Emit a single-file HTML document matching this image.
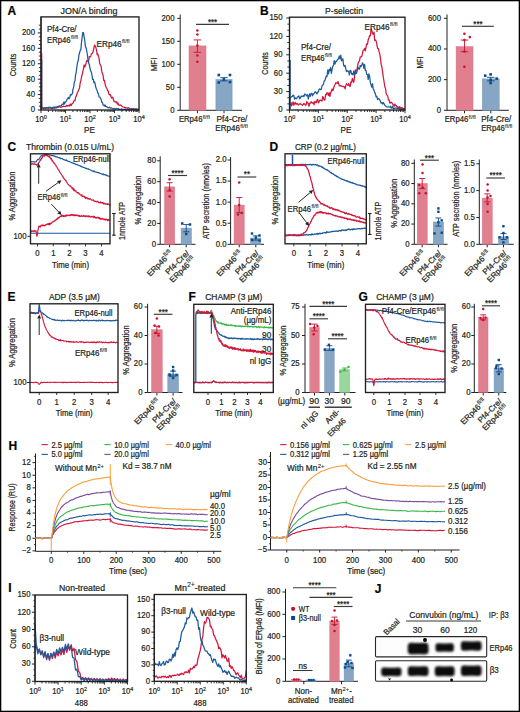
<!DOCTYPE html>
<html><head><meta charset="utf-8"><style>
html,body{margin:0;padding:0;background:#fff;}
svg{display:block;}
text{font-family:"Liberation Sans", sans-serif;stroke:#231f20;stroke-width:0.22px;}
</style></head><body>
<svg width="520" height="712" viewBox="0 0 520 712" font-family='"Liberation Sans", sans-serif'>
<rect width="520" height="712" fill="#fff"/>
<text x="7.50" y="15.32" font-size="12.0" text-anchor="start" fill="#000" font-weight="bold" >A</text>
<text x="89.00" y="14.45" font-size="9.02" text-anchor="middle" fill="#231f20" textLength="57" lengthAdjust="spacingAndGlyphs" >JON/A binding</text>
<path d="M41.0,108.5 41.7,108.2 42.3,108.4 43.0,108.4 43.6,108.6 44.3,108.3 44.9,107.8 45.6,108.0 46.2,107.7 46.9,108.0 47.5,107.9 48.2,108.0 48.8,108.6 49.5,107.6 50.1,107.7 50.8,107.7 51.5,108.5 52.1,108.5 52.8,108.1 53.4,107.9 54.1,107.5 54.7,107.6 55.4,107.3 56.0,107.7 56.7,107.2 57.3,107.1 58.0,107.5 58.6,106.4 59.3,106.8 59.9,106.5 60.6,107.2 61.3,107.2 61.9,106.9 62.6,106.7 63.2,106.2 63.9,106.3 64.5,106.5 65.2,106.6 65.8,106.3 66.5,105.3 67.1,106.2 67.8,105.6 68.4,105.3 69.1,106.2 69.7,105.1 70.4,104.1 71.1,105.7 71.7,104.2 72.4,103.5 73.0,103.2 73.7,101.2 74.3,100.6 75.0,100.7 75.6,97.3 76.3,96.0 76.9,94.2 77.6,92.1 78.2,91.4 78.9,89.4 79.5,87.9 80.2,82.8 80.9,80.6 81.5,77.1 82.2,74.7 82.8,71.7 83.5,68.9 84.1,64.9 84.8,67.0 85.4,65.6 86.1,63.1 86.7,60.8 87.4,60.3 88.0,61.4 88.7,60.7 89.3,56.7 90.0,56.9 90.7,56.7 91.3,54.1 92.0,53.3 92.6,53.2 93.3,50.8 93.9,48.0 94.6,45.0 95.2,46.0 95.9,47.6 96.5,49.9 97.2,54.6 97.8,54.0 98.5,56.3 99.1,58.8 99.8,63.7 100.5,65.1 101.1,66.2 101.8,71.7 102.4,73.2 103.1,75.1 103.7,80.5 104.4,80.2 105.0,83.6 105.7,86.3 106.3,87.5 107.0,88.8 107.6,90.7 108.3,91.1 108.9,94.2 109.6,94.9 110.3,94.4 110.9,96.3 111.6,98.1 112.2,97.1 112.9,97.5 113.5,100.1 114.2,101.7 114.8,101.3 115.5,101.9 116.1,102.5 116.8,101.8 117.4,104.1 118.1,103.1 118.7,105.2 119.4,105.3 120.1,104.9 120.7,105.1 121.4,105.7 122.0,106.3 122.7,106.8 123.3,107.0 124.0,107.1 124.6,107.6 125.3,107.6 125.9,107.7 126.6,108.0 127.2,107.9 127.9,108.1 128.5,107.7 129.2,108.4 129.9,108.8 130.5,108.8 131.2,108.8 131.8,108.6 132.5,109.1 133.1,108.9 133.8,108.6 134.4,109.9 135.1,109.6 135.7,109.2 136.4,109.2 137.0,109.2 137.7,109.5 138.3,109.2 139.0,109.3" fill="none" stroke="#d3163a" stroke-width="1.25" stroke-linejoin="round" />
<path d="M41.0,108.0 41.7,106.8 42.3,107.6 43.0,108.0 43.6,107.8 44.3,107.9 44.9,107.8 45.6,108.8 46.2,108.0 46.9,107.4 47.5,108.2 48.2,107.8 48.8,107.3 49.5,107.3 50.1,107.1 50.8,108.3 51.5,107.8 52.1,107.7 52.8,107.3 53.4,107.1 54.1,108.6 54.7,107.0 55.4,108.0 56.0,107.0 56.7,107.9 57.3,107.0 58.0,106.4 58.6,106.8 59.3,106.4 59.9,105.8 60.6,105.9 61.3,105.7 61.9,104.4 62.6,104.2 63.2,104.5 63.9,102.0 64.5,104.0 65.2,101.8 65.8,101.9 66.5,100.7 67.1,99.2 67.8,98.7 68.4,97.3 69.1,98.6 69.7,97.7 70.4,94.7 71.1,95.1 71.7,94.2 72.4,93.6 73.0,89.1 73.7,86.9 74.3,82.4 75.0,80.4 75.6,74.9 76.3,71.8 76.9,66.3 77.6,62.0 78.2,61.1 78.9,55.4 79.5,53.0 80.2,50.6 80.9,49.4 81.5,42.4 82.2,36.9 82.8,32.5 83.5,32.7 84.1,36.8 84.8,40.5 85.4,46.4 86.1,47.7 86.7,50.9 87.4,54.5 88.0,59.3 88.7,63.0 89.3,64.4 90.0,68.3 90.7,71.1 91.3,71.8 92.0,75.4 92.6,79.4 93.3,79.3 93.9,82.7 94.6,82.0 95.2,84.5 95.9,87.6 96.5,89.2 97.2,90.5 97.8,93.2 98.5,93.8 99.1,96.8 99.8,97.1 100.5,98.1 101.1,99.4 101.8,102.4 102.4,102.3 103.1,105.0 103.7,105.1 104.4,106.1 105.0,104.9 105.7,106.6 106.3,106.4 107.0,106.9 107.6,107.2 108.3,107.8 108.9,107.7 109.6,107.2 110.3,108.1 110.9,108.0 111.6,107.9 112.2,108.5 112.9,108.9 113.5,108.7 114.2,108.3 114.8,109.2 115.5,108.9 116.1,108.5 116.8,108.6 117.4,108.9 118.1,108.7 118.7,108.9 119.4,109.4 120.1,109.5 120.7,109.3 121.4,108.8 122.0,109.3 122.7,109.4 123.3,109.4 124.0,109.6 124.6,109.2 125.3,109.5 125.9,109.1 126.6,109.9 127.2,109.1 127.9,109.4 128.5,109.8 129.2,109.0 129.9,109.3 130.5,109.9 131.2,109.5 131.8,109.2 132.5,109.4 133.1,109.1 133.8,109.1 134.4,109.1 135.1,109.2 135.7,108.9 136.4,109.1 137.0,109.2 137.7,109.9 138.3,109.1 139.0,109.0" fill="none" stroke="#1d5a9a" stroke-width="1.25" stroke-linejoin="round" />
<line x1="41.70" y1="109.00" x2="41.70" y2="53.00" stroke="#d3163a" stroke-width="1.2"/>
<line x1="41.70" y1="109.00" x2="41.70" y2="60.00" stroke="#1d5a9a" stroke-width="1.2"/>
<rect x="41.00" y="16.90" width="98.00" height="93.10" fill="none" stroke="#231f20" stroke-width="1.35"/>
<line x1="41.00" y1="16.90" x2="41.00" y2="110.00" stroke="#231f20" stroke-width="1"/>
<line x1="37.80" y1="110.00" x2="41.00" y2="110.00" stroke="#231f20" stroke-width="1"/>
<text x="35.00" y="112.37" font-size="8.25" text-anchor="end" fill="#231f20" textLength="4.34" lengthAdjust="spacingAndGlyphs" >0</text>
<line x1="37.80" y1="94.58" x2="41.00" y2="94.58" stroke="#231f20" stroke-width="1"/>
<text x="35.00" y="96.95" font-size="8.25" text-anchor="end" fill="#231f20" textLength="8.68" lengthAdjust="spacingAndGlyphs" >40</text>
<line x1="37.80" y1="79.16" x2="41.00" y2="79.16" stroke="#231f20" stroke-width="1"/>
<text x="35.00" y="81.53" font-size="8.25" text-anchor="end" fill="#231f20" textLength="8.68" lengthAdjust="spacingAndGlyphs" >80</text>
<line x1="37.80" y1="63.74" x2="41.00" y2="63.74" stroke="#231f20" stroke-width="1"/>
<text x="35.00" y="66.11" font-size="8.25" text-anchor="end" fill="#231f20" textLength="13.01" lengthAdjust="spacingAndGlyphs" >120</text>
<line x1="37.80" y1="48.32" x2="41.00" y2="48.32" stroke="#231f20" stroke-width="1"/>
<text x="35.00" y="50.69" font-size="8.25" text-anchor="end" fill="#231f20" textLength="13.01" lengthAdjust="spacingAndGlyphs" >160</text>
<line x1="37.80" y1="32.90" x2="41.00" y2="32.90" stroke="#231f20" stroke-width="1"/>
<text x="35.00" y="35.27" font-size="8.25" text-anchor="end" fill="#231f20" textLength="13.01" lengthAdjust="spacingAndGlyphs" >200</text>
<line x1="38.80" y1="106.14" x2="41.00" y2="106.14" stroke="#231f20" stroke-width="0.9"/>
<line x1="38.80" y1="102.29" x2="41.00" y2="102.29" stroke="#231f20" stroke-width="0.9"/>
<line x1="38.80" y1="98.44" x2="41.00" y2="98.44" stroke="#231f20" stroke-width="0.9"/>
<line x1="38.80" y1="90.72" x2="41.00" y2="90.72" stroke="#231f20" stroke-width="0.9"/>
<line x1="38.80" y1="86.87" x2="41.00" y2="86.87" stroke="#231f20" stroke-width="0.9"/>
<line x1="38.80" y1="83.02" x2="41.00" y2="83.02" stroke="#231f20" stroke-width="0.9"/>
<line x1="38.80" y1="75.31" x2="41.00" y2="75.31" stroke="#231f20" stroke-width="0.9"/>
<line x1="38.80" y1="71.45" x2="41.00" y2="71.45" stroke="#231f20" stroke-width="0.9"/>
<line x1="38.80" y1="67.59" x2="41.00" y2="67.59" stroke="#231f20" stroke-width="0.9"/>
<line x1="38.80" y1="59.89" x2="41.00" y2="59.89" stroke="#231f20" stroke-width="0.9"/>
<line x1="38.80" y1="56.03" x2="41.00" y2="56.03" stroke="#231f20" stroke-width="0.9"/>
<line x1="38.80" y1="52.18" x2="41.00" y2="52.18" stroke="#231f20" stroke-width="0.9"/>
<line x1="38.80" y1="44.47" x2="41.00" y2="44.47" stroke="#231f20" stroke-width="0.9"/>
<line x1="38.80" y1="40.61" x2="41.00" y2="40.61" stroke="#231f20" stroke-width="0.9"/>
<line x1="38.80" y1="36.76" x2="41.00" y2="36.76" stroke="#231f20" stroke-width="0.9"/>
<line x1="38.80" y1="29.05" x2="41.00" y2="29.05" stroke="#231f20" stroke-width="0.9"/>
<line x1="38.80" y1="25.19" x2="41.00" y2="25.19" stroke="#231f20" stroke-width="0.9"/>
<line x1="41.00" y1="110.00" x2="41.00" y2="113.20" stroke="#231f20" stroke-width="0.9"/>
<line x1="48.38" y1="110.00" x2="48.38" y2="112.00" stroke="#231f20" stroke-width="0.9"/>
<line x1="52.69" y1="110.00" x2="52.69" y2="112.00" stroke="#231f20" stroke-width="0.9"/>
<line x1="55.75" y1="110.00" x2="55.75" y2="112.00" stroke="#231f20" stroke-width="0.9"/>
<line x1="58.12" y1="110.00" x2="58.12" y2="112.00" stroke="#231f20" stroke-width="0.9"/>
<line x1="60.06" y1="110.00" x2="60.06" y2="112.00" stroke="#231f20" stroke-width="0.9"/>
<line x1="61.70" y1="110.00" x2="61.70" y2="112.00" stroke="#231f20" stroke-width="0.9"/>
<line x1="63.13" y1="110.00" x2="63.13" y2="112.00" stroke="#231f20" stroke-width="0.9"/>
<line x1="64.38" y1="110.00" x2="64.38" y2="112.00" stroke="#231f20" stroke-width="0.9"/>
<line x1="65.50" y1="110.00" x2="65.50" y2="113.20" stroke="#231f20" stroke-width="0.9"/>
<line x1="72.88" y1="110.00" x2="72.88" y2="112.00" stroke="#231f20" stroke-width="0.9"/>
<line x1="77.19" y1="110.00" x2="77.19" y2="112.00" stroke="#231f20" stroke-width="0.9"/>
<line x1="80.25" y1="110.00" x2="80.25" y2="112.00" stroke="#231f20" stroke-width="0.9"/>
<line x1="82.62" y1="110.00" x2="82.62" y2="112.00" stroke="#231f20" stroke-width="0.9"/>
<line x1="84.56" y1="110.00" x2="84.56" y2="112.00" stroke="#231f20" stroke-width="0.9"/>
<line x1="86.20" y1="110.00" x2="86.20" y2="112.00" stroke="#231f20" stroke-width="0.9"/>
<line x1="87.63" y1="110.00" x2="87.63" y2="112.00" stroke="#231f20" stroke-width="0.9"/>
<line x1="88.88" y1="110.00" x2="88.88" y2="112.00" stroke="#231f20" stroke-width="0.9"/>
<line x1="90.00" y1="110.00" x2="90.00" y2="113.20" stroke="#231f20" stroke-width="0.9"/>
<line x1="97.38" y1="110.00" x2="97.38" y2="112.00" stroke="#231f20" stroke-width="0.9"/>
<line x1="101.69" y1="110.00" x2="101.69" y2="112.00" stroke="#231f20" stroke-width="0.9"/>
<line x1="104.75" y1="110.00" x2="104.75" y2="112.00" stroke="#231f20" stroke-width="0.9"/>
<line x1="107.12" y1="110.00" x2="107.12" y2="112.00" stroke="#231f20" stroke-width="0.9"/>
<line x1="109.06" y1="110.00" x2="109.06" y2="112.00" stroke="#231f20" stroke-width="0.9"/>
<line x1="110.70" y1="110.00" x2="110.70" y2="112.00" stroke="#231f20" stroke-width="0.9"/>
<line x1="112.13" y1="110.00" x2="112.13" y2="112.00" stroke="#231f20" stroke-width="0.9"/>
<line x1="113.38" y1="110.00" x2="113.38" y2="112.00" stroke="#231f20" stroke-width="0.9"/>
<line x1="114.50" y1="110.00" x2="114.50" y2="113.20" stroke="#231f20" stroke-width="0.9"/>
<line x1="121.88" y1="110.00" x2="121.88" y2="112.00" stroke="#231f20" stroke-width="0.9"/>
<line x1="126.19" y1="110.00" x2="126.19" y2="112.00" stroke="#231f20" stroke-width="0.9"/>
<line x1="129.25" y1="110.00" x2="129.25" y2="112.00" stroke="#231f20" stroke-width="0.9"/>
<line x1="131.62" y1="110.00" x2="131.62" y2="112.00" stroke="#231f20" stroke-width="0.9"/>
<line x1="133.56" y1="110.00" x2="133.56" y2="112.00" stroke="#231f20" stroke-width="0.9"/>
<line x1="135.20" y1="110.00" x2="135.20" y2="112.00" stroke="#231f20" stroke-width="0.9"/>
<line x1="136.63" y1="110.00" x2="136.63" y2="112.00" stroke="#231f20" stroke-width="0.9"/>
<line x1="137.88" y1="110.00" x2="137.88" y2="112.00" stroke="#231f20" stroke-width="0.9"/>
<line x1="139.00" y1="110.00" x2="139.00" y2="113.20" stroke="#231f20" stroke-width="0.9"/>
<text x="41.00" y="121.77" font-size="8.25" text-anchor="middle" fill="#231f20" textLength="11.54" lengthAdjust="spacingAndGlyphs">10<tspan font-size="72%" dy="-0.48em">0</tspan></text>
<text x="65.50" y="121.77" font-size="8.25" text-anchor="middle" fill="#231f20" textLength="11.54" lengthAdjust="spacingAndGlyphs">10<tspan font-size="72%" dy="-0.48em">1</tspan></text>
<text x="90.00" y="121.77" font-size="8.25" text-anchor="middle" fill="#231f20" textLength="11.54" lengthAdjust="spacingAndGlyphs">10<tspan font-size="72%" dy="-0.48em">2</tspan></text>
<text x="114.50" y="121.77" font-size="8.25" text-anchor="middle" fill="#231f20" textLength="11.54" lengthAdjust="spacingAndGlyphs">10<tspan font-size="72%" dy="-0.48em">3</tspan></text>
<text x="139.00" y="121.77" font-size="8.25" text-anchor="middle" fill="#231f20" textLength="11.54" lengthAdjust="spacingAndGlyphs">10<tspan font-size="72%" dy="-0.48em">4</tspan></text>
<text x="89.50" y="133.09" font-size="8.58" text-anchor="middle" fill="#231f20" textLength="10.82" lengthAdjust="spacingAndGlyphs" >PE</text>
<text x="12.90" y="68.17" font-size="8.8" text-anchor="middle" fill="#231f20" textLength="22.5" lengthAdjust="spacingAndGlyphs" transform="rotate(-90 12.90 65.00)" >Counts</text>
<text x="47.00" y="31.81" font-size="8.36" text-anchor="start" fill="#231f20" textLength="29.5" lengthAdjust="spacingAndGlyphs" >Pf4-Cre/</text>
<text x="47.00" y="42.51" font-size="8.36" text-anchor="start" fill="#231f20" textLength="31" lengthAdjust="spacingAndGlyphs" >ERp46<tspan font-size="72%" dx="0.4" dy="-0.56em" style="stroke-width:0.1px">fl/fl</tspan><tspan dy="0.403em">​</tspan></text>
<text x="96.50" y="46.51" font-size="8.36" text-anchor="start" fill="#231f20" textLength="33" lengthAdjust="spacingAndGlyphs" >ERp46<tspan font-size="72%" dx="0.4" dy="-0.56em" style="stroke-width:0.1px">fl/fl</tspan><tspan dy="0.403em">​</tspan></text>
<line x1="180.20" y1="14.50" x2="180.20" y2="110.30" stroke="#231f20" stroke-width="1"/>
<line x1="177.20" y1="110.30" x2="180.20" y2="110.30" stroke="#231f20" stroke-width="1"/>
<text x="174.50" y="112.67" font-size="8.25" text-anchor="end" fill="#231f20" textLength="4.34" lengthAdjust="spacingAndGlyphs" >0</text>
<line x1="177.20" y1="87.30" x2="180.20" y2="87.30" stroke="#231f20" stroke-width="1"/>
<text x="174.50" y="89.67" font-size="8.25" text-anchor="end" fill="#231f20" textLength="8.68" lengthAdjust="spacingAndGlyphs" >50</text>
<line x1="177.20" y1="64.30" x2="180.20" y2="64.30" stroke="#231f20" stroke-width="1"/>
<text x="174.50" y="66.67" font-size="8.25" text-anchor="end" fill="#231f20" textLength="13.01" lengthAdjust="spacingAndGlyphs" >100</text>
<line x1="177.20" y1="41.30" x2="180.20" y2="41.30" stroke="#231f20" stroke-width="1"/>
<text x="174.50" y="43.67" font-size="8.25" text-anchor="end" fill="#231f20" textLength="13.01" lengthAdjust="spacingAndGlyphs" >150</text>
<line x1="177.20" y1="18.30" x2="180.20" y2="18.30" stroke="#231f20" stroke-width="1"/>
<text x="174.50" y="20.67" font-size="8.25" text-anchor="end" fill="#231f20" textLength="13.01" lengthAdjust="spacingAndGlyphs" >200</text>
<line x1="180.20" y1="110.30" x2="242.00" y2="110.30" stroke="#231f20" stroke-width="1"/>
<line x1="197.40" y1="110.30" x2="197.40" y2="113.30" stroke="#231f20" stroke-width="1"/>
<line x1="224.00" y1="110.30" x2="224.00" y2="113.30" stroke="#231f20" stroke-width="1"/>
<rect x="189.00" y="45.90" width="17.00" height="64.40" fill="#e0808f" stroke="#d96b80" stroke-width="0.5"/>
<rect x="215.90" y="79.48" width="16.20" height="30.82" fill="#87a6c4" stroke="#7096b9" stroke-width="0.5"/>
<line x1="197.40" y1="39.92" x2="197.40" y2="52.34" stroke="#c8102e" stroke-width="0.9"/>
<line x1="193.60" y1="39.92" x2="201.20" y2="39.92" stroke="#c8102e" stroke-width="0.9"/>
<line x1="193.60" y1="52.34" x2="201.20" y2="52.34" stroke="#c8102e" stroke-width="0.9"/>
<line x1="224.00" y1="77.64" x2="224.00" y2="80.86" stroke="#0b4a8a" stroke-width="0.9"/>
<line x1="220.20" y1="77.64" x2="227.80" y2="77.64" stroke="#0b4a8a" stroke-width="0.9"/>
<line x1="220.20" y1="80.86" x2="227.80" y2="80.86" stroke="#0b4a8a" stroke-width="0.9"/>
<circle cx="197.40" cy="30.50" r="1.25" fill="#c8102e"/>
<circle cx="197.40" cy="34.50" r="1.25" fill="#c8102e"/>
<circle cx="197.40" cy="45.50" r="1.25" fill="#c8102e"/>
<circle cx="197.40" cy="55.50" r="1.25" fill="#c8102e"/>
<circle cx="197.40" cy="61.80" r="1.25" fill="#c8102e"/>
<rect x="217.50" y="73.70" width="2.60" height="2.60" fill="#0b4a8a"/>
<rect x="228.70" y="73.70" width="2.60" height="2.60" fill="#0b4a8a"/>
<rect x="222.50" y="78.20" width="2.60" height="2.60" fill="#0b4a8a"/>
<rect x="217.50" y="81.20" width="2.60" height="2.60" fill="#0b4a8a"/>
<rect x="228.70" y="80.70" width="2.60" height="2.60" fill="#0b4a8a"/>
<line x1="196.00" y1="24.30" x2="229.00" y2="24.30" stroke="#3a3a3a" stroke-width="1.15"/>
<text x="212.50" y="24.67" font-size="8.25" text-anchor="middle" fill="#231f20" textLength="9.11" lengthAdjust="spacingAndGlyphs" >***</text>
<text x="153.80" y="67.49" font-size="8.58" text-anchor="middle" fill="#231f20" textLength="13.5" lengthAdjust="spacingAndGlyphs" transform="rotate(-90 153.80 64.40)" >MFI</text>
<text x="194.40" y="122.21" font-size="8.36" text-anchor="middle" fill="#231f20" textLength="31" lengthAdjust="spacingAndGlyphs" >ERp46<tspan font-size="72%" dx="0.4" dy="-0.56em" style="stroke-width:0.1px">fl/fl</tspan><tspan dy="0.403em">​</tspan></text>
<text x="231.90" y="121.91" font-size="8.36" text-anchor="middle" fill="#231f20" textLength="31" lengthAdjust="spacingAndGlyphs" >Pf4-Cre/</text>
<text x="231.50" y="131.21" font-size="8.36" text-anchor="middle" fill="#231f20" textLength="32.5" lengthAdjust="spacingAndGlyphs" >ERp46<tspan font-size="72%" dx="0.4" dy="-0.56em" style="stroke-width:0.1px">fl/fl</tspan><tspan dy="0.403em">​</tspan></text>
<text x="260.00" y="15.32" font-size="12.0" text-anchor="start" fill="#000" font-weight="bold" >B</text>
<text x="344.00" y="14.45" font-size="9.02" text-anchor="middle" fill="#231f20" textLength="38" lengthAdjust="spacingAndGlyphs" >P-selectin</text>
<path d="M289.5,104.5 290.2,104.6 290.9,102.3 291.7,105.8 292.4,103.7 293.1,101.9 293.8,105.1 294.6,103.6 295.3,102.4 296.0,104.4 296.7,103.7 297.4,103.4 298.2,105.1 298.9,104.4 299.6,104.0 300.3,103.5 301.1,104.4 301.8,104.5 302.5,105.3 303.2,104.6 303.9,103.4 304.7,104.1 305.4,105.0 306.1,105.0 306.8,101.5 307.5,102.9 308.3,103.3 309.0,106.4 309.7,103.1 310.4,103.1 311.2,101.7 311.9,102.8 312.6,103.1 313.3,102.3 314.0,104.8 314.8,101.3 315.5,101.9 316.2,102.8 316.9,100.2 317.7,99.4 318.4,102.9 319.1,101.8 319.8,100.3 320.5,100.1 321.3,100.6 322.0,101.0 322.7,96.5 323.4,97.6 324.1,100.2 324.9,99.8 325.6,94.5 326.3,94.8 327.0,92.6 327.8,93.4 328.5,95.5 329.2,92.7 329.9,96.4 330.6,93.0 331.4,90.9 332.1,89.0 332.8,90.8 333.5,88.5 334.3,85.8 335.0,84.5 335.7,82.8 336.4,82.8 337.1,83.6 337.9,81.6 338.6,83.4 339.3,85.7 340.0,86.0 340.8,85.4 341.5,86.2 342.2,86.2 342.9,86.7 343.6,86.4 344.4,86.9 345.1,88.9 345.8,85.4 346.5,83.8 347.2,84.6 348.0,85.4 348.7,83.6 349.4,85.7 350.1,86.6 350.9,81.8 351.6,82.7 352.3,78.3 353.0,80.6 353.7,82.3 354.5,77.3 355.2,69.9 355.9,71.3 356.6,70.9 357.4,67.3 358.1,63.3 358.8,61.8 359.5,60.9 360.2,56.8 361.0,56.8 361.7,56.7 362.4,53.9 363.1,50.3 363.9,50.0 364.6,48.3 365.3,50.8 366.0,47.3 366.7,43.9 367.5,44.3 368.2,39.6 368.9,38.3 369.6,35.6 370.4,35.8 371.1,28.9 371.8,30.5 372.5,33.3 373.2,34.3 374.0,32.1 374.7,40.5 375.4,39.9 376.1,41.0 376.8,44.2 377.6,48.3 378.3,48.3 379.0,51.2 379.7,53.6 380.5,58.5 381.2,64.4 381.9,67.0 382.6,72.0 383.3,77.2 384.1,82.0 384.8,86.7 385.5,88.3 386.2,94.0 387.0,95.2 387.7,96.0 388.4,99.9 389.1,99.8 389.8,103.1 390.6,102.6 391.3,102.1 392.0,102.9 392.7,104.1 393.4,104.8 394.2,106.3 394.9,103.9 395.6,105.5 396.3,105.5 397.1,107.3 397.8,107.0 398.5,108.4 399.2,106.7 399.9,106.8 400.7,108.9 401.4,107.8 402.1,107.5 402.8,109.2 403.6,109.4 404.3,109.0 405.0,108.9" fill="none" stroke="#d3163a" stroke-width="1.25" stroke-linejoin="round" />
<path d="M289.5,99.8 290.2,97.6 290.9,97.2 291.7,96.5 292.4,96.4 293.1,95.1 293.8,95.5 294.6,99.2 295.3,97.9 296.0,98.6 296.7,98.6 297.4,96.9 298.2,96.7 298.9,95.8 299.6,98.9 300.3,98.3 301.1,96.2 301.8,96.3 302.5,96.3 303.2,95.7 303.9,96.7 304.7,94.0 305.4,94.4 306.1,94.9 306.8,95.8 307.5,94.7 308.3,99.0 309.0,95.8 309.7,93.8 310.4,96.4 311.2,93.3 311.9,93.3 312.6,95.9 313.3,93.8 314.0,93.8 314.8,92.2 315.5,91.7 316.2,92.7 316.9,94.0 317.7,92.3 318.4,91.7 319.1,89.2 319.8,88.9 320.5,89.6 321.3,89.4 322.0,85.9 322.7,85.1 323.4,84.3 324.1,81.1 324.9,80.6 325.6,78.2 326.3,76.0 327.0,76.5 327.8,69.8 328.5,73.8 329.2,69.7 329.9,70.5 330.6,67.5 331.4,73.3 332.1,69.2 332.8,66.4 333.5,64.9 334.3,60.7 335.0,64.0 335.7,61.4 336.4,61.7 337.1,60.3 337.9,59.2 338.6,58.7 339.3,56.0 340.0,58.8 340.8,55.1 341.5,60.9 342.2,60.3 342.9,58.7 343.6,65.3 344.4,66.3 345.1,65.3 345.8,68.8 346.5,71.7 347.2,70.7 348.0,71.1 348.7,71.6 349.4,75.0 350.1,70.3 350.9,70.7 351.6,74.1 352.3,73.6 353.0,74.9 353.7,71.0 354.5,74.9 355.2,71.8 355.9,73.5 356.6,73.2 357.4,69.5 358.1,67.3 358.8,69.0 359.5,69.3 360.2,65.5 361.0,66.5 361.7,65.4 362.4,62.8 363.1,64.0 363.9,68.3 364.6,64.3 365.3,70.4 366.0,70.4 366.7,74.5 367.5,74.6 368.2,79.4 368.9,73.9 369.6,76.2 370.4,82.9 371.1,85.1 371.8,87.2 372.5,83.7 373.2,88.9 374.0,90.1 374.7,92.6 375.4,93.9 376.1,96.9 376.8,96.2 377.6,99.5 378.3,98.5 379.0,99.0 379.7,99.8 380.5,101.6 381.2,103.2 381.9,102.7 382.6,104.0 383.3,102.5 384.1,103.9 384.8,105.2 385.5,105.9 386.2,106.5 387.0,107.1 387.7,107.0 388.4,106.8 389.1,107.0 389.8,107.1 390.6,106.2 391.3,108.2 392.0,107.8 392.7,106.1 393.4,109.2 394.2,108.5 394.9,108.1 395.6,108.2 396.3,108.1 397.1,108.5 397.8,108.2 398.5,108.5 399.2,108.1 399.9,109.7 400.7,109.2 401.4,108.7 402.1,109.4 402.8,109.4 403.6,108.5 404.3,109.3 405.0,108.7" fill="none" stroke="#1d5a9a" stroke-width="1.25" stroke-linejoin="round" />
<line x1="290.20" y1="109.00" x2="290.20" y2="60.00" stroke="#1d5a9a" stroke-width="1.2"/>
<rect x="289.50" y="17.20" width="115.50" height="92.80" fill="none" stroke="#231f20" stroke-width="1.35"/>
<line x1="289.50" y1="17.20" x2="289.50" y2="110.00" stroke="#231f20" stroke-width="1"/>
<line x1="286.30" y1="110.00" x2="289.50" y2="110.00" stroke="#231f20" stroke-width="1"/>
<text x="282.50" y="112.37" font-size="8.25" text-anchor="end" fill="#231f20" textLength="4.34" lengthAdjust="spacingAndGlyphs" >0</text>
<line x1="286.30" y1="91.60" x2="289.50" y2="91.60" stroke="#231f20" stroke-width="1"/>
<text x="282.50" y="93.97" font-size="8.25" text-anchor="end" fill="#231f20" textLength="8.68" lengthAdjust="spacingAndGlyphs" >30</text>
<line x1="286.30" y1="73.20" x2="289.50" y2="73.20" stroke="#231f20" stroke-width="1"/>
<text x="282.50" y="75.57" font-size="8.25" text-anchor="end" fill="#231f20" textLength="8.68" lengthAdjust="spacingAndGlyphs" >60</text>
<line x1="286.30" y1="54.80" x2="289.50" y2="54.80" stroke="#231f20" stroke-width="1"/>
<text x="282.50" y="57.17" font-size="8.25" text-anchor="end" fill="#231f20" textLength="8.68" lengthAdjust="spacingAndGlyphs" >90</text>
<line x1="286.30" y1="36.40" x2="289.50" y2="36.40" stroke="#231f20" stroke-width="1"/>
<text x="282.50" y="38.77" font-size="8.25" text-anchor="end" fill="#231f20" textLength="13.01" lengthAdjust="spacingAndGlyphs" >120</text>
<line x1="286.30" y1="18.00" x2="289.50" y2="18.00" stroke="#231f20" stroke-width="1"/>
<text x="282.50" y="20.37" font-size="8.25" text-anchor="end" fill="#231f20" textLength="13.01" lengthAdjust="spacingAndGlyphs" >150</text>
<line x1="287.30" y1="103.87" x2="289.50" y2="103.87" stroke="#231f20" stroke-width="0.9"/>
<line x1="287.30" y1="97.73" x2="289.50" y2="97.73" stroke="#231f20" stroke-width="0.9"/>
<line x1="287.30" y1="85.47" x2="289.50" y2="85.47" stroke="#231f20" stroke-width="0.9"/>
<line x1="287.30" y1="79.33" x2="289.50" y2="79.33" stroke="#231f20" stroke-width="0.9"/>
<line x1="287.30" y1="67.07" x2="289.50" y2="67.07" stroke="#231f20" stroke-width="0.9"/>
<line x1="287.30" y1="60.93" x2="289.50" y2="60.93" stroke="#231f20" stroke-width="0.9"/>
<line x1="287.30" y1="48.67" x2="289.50" y2="48.67" stroke="#231f20" stroke-width="0.9"/>
<line x1="287.30" y1="42.53" x2="289.50" y2="42.53" stroke="#231f20" stroke-width="0.9"/>
<line x1="287.30" y1="30.27" x2="289.50" y2="30.27" stroke="#231f20" stroke-width="0.9"/>
<line x1="287.30" y1="24.13" x2="289.50" y2="24.13" stroke="#231f20" stroke-width="0.9"/>
<line x1="289.50" y1="110.00" x2="289.50" y2="113.20" stroke="#231f20" stroke-width="0.9"/>
<line x1="298.19" y1="110.00" x2="298.19" y2="112.00" stroke="#231f20" stroke-width="0.9"/>
<line x1="303.28" y1="110.00" x2="303.28" y2="112.00" stroke="#231f20" stroke-width="0.9"/>
<line x1="306.88" y1="110.00" x2="306.88" y2="112.00" stroke="#231f20" stroke-width="0.9"/>
<line x1="309.68" y1="110.00" x2="309.68" y2="112.00" stroke="#231f20" stroke-width="0.9"/>
<line x1="311.97" y1="110.00" x2="311.97" y2="112.00" stroke="#231f20" stroke-width="0.9"/>
<line x1="313.90" y1="110.00" x2="313.90" y2="112.00" stroke="#231f20" stroke-width="0.9"/>
<line x1="315.58" y1="110.00" x2="315.58" y2="112.00" stroke="#231f20" stroke-width="0.9"/>
<line x1="317.05" y1="110.00" x2="317.05" y2="112.00" stroke="#231f20" stroke-width="0.9"/>
<line x1="318.38" y1="110.00" x2="318.38" y2="113.20" stroke="#231f20" stroke-width="0.9"/>
<line x1="327.07" y1="110.00" x2="327.07" y2="112.00" stroke="#231f20" stroke-width="0.9"/>
<line x1="332.15" y1="110.00" x2="332.15" y2="112.00" stroke="#231f20" stroke-width="0.9"/>
<line x1="335.76" y1="110.00" x2="335.76" y2="112.00" stroke="#231f20" stroke-width="0.9"/>
<line x1="338.56" y1="110.00" x2="338.56" y2="112.00" stroke="#231f20" stroke-width="0.9"/>
<line x1="340.84" y1="110.00" x2="340.84" y2="112.00" stroke="#231f20" stroke-width="0.9"/>
<line x1="342.78" y1="110.00" x2="342.78" y2="112.00" stroke="#231f20" stroke-width="0.9"/>
<line x1="344.45" y1="110.00" x2="344.45" y2="112.00" stroke="#231f20" stroke-width="0.9"/>
<line x1="345.93" y1="110.00" x2="345.93" y2="112.00" stroke="#231f20" stroke-width="0.9"/>
<line x1="347.25" y1="110.00" x2="347.25" y2="113.20" stroke="#231f20" stroke-width="0.9"/>
<line x1="355.94" y1="110.00" x2="355.94" y2="112.00" stroke="#231f20" stroke-width="0.9"/>
<line x1="361.03" y1="110.00" x2="361.03" y2="112.00" stroke="#231f20" stroke-width="0.9"/>
<line x1="364.63" y1="110.00" x2="364.63" y2="112.00" stroke="#231f20" stroke-width="0.9"/>
<line x1="367.43" y1="110.00" x2="367.43" y2="112.00" stroke="#231f20" stroke-width="0.9"/>
<line x1="369.72" y1="110.00" x2="369.72" y2="112.00" stroke="#231f20" stroke-width="0.9"/>
<line x1="371.65" y1="110.00" x2="371.65" y2="112.00" stroke="#231f20" stroke-width="0.9"/>
<line x1="373.33" y1="110.00" x2="373.33" y2="112.00" stroke="#231f20" stroke-width="0.9"/>
<line x1="374.80" y1="110.00" x2="374.80" y2="112.00" stroke="#231f20" stroke-width="0.9"/>
<line x1="376.12" y1="110.00" x2="376.12" y2="113.20" stroke="#231f20" stroke-width="0.9"/>
<line x1="384.82" y1="110.00" x2="384.82" y2="112.00" stroke="#231f20" stroke-width="0.9"/>
<line x1="389.90" y1="110.00" x2="389.90" y2="112.00" stroke="#231f20" stroke-width="0.9"/>
<line x1="393.51" y1="110.00" x2="393.51" y2="112.00" stroke="#231f20" stroke-width="0.9"/>
<line x1="396.31" y1="110.00" x2="396.31" y2="112.00" stroke="#231f20" stroke-width="0.9"/>
<line x1="398.59" y1="110.00" x2="398.59" y2="112.00" stroke="#231f20" stroke-width="0.9"/>
<line x1="400.53" y1="110.00" x2="400.53" y2="112.00" stroke="#231f20" stroke-width="0.9"/>
<line x1="402.20" y1="110.00" x2="402.20" y2="112.00" stroke="#231f20" stroke-width="0.9"/>
<line x1="403.68" y1="110.00" x2="403.68" y2="112.00" stroke="#231f20" stroke-width="0.9"/>
<line x1="405.00" y1="110.00" x2="405.00" y2="113.20" stroke="#231f20" stroke-width="0.9"/>
<text x="289.50" y="121.77" font-size="8.25" text-anchor="middle" fill="#231f20" textLength="11.54" lengthAdjust="spacingAndGlyphs">10<tspan font-size="72%" dy="-0.48em">0</tspan></text>
<text x="318.38" y="121.77" font-size="8.25" text-anchor="middle" fill="#231f20" textLength="11.54" lengthAdjust="spacingAndGlyphs">10<tspan font-size="72%" dy="-0.48em">1</tspan></text>
<text x="347.25" y="121.77" font-size="8.25" text-anchor="middle" fill="#231f20" textLength="11.54" lengthAdjust="spacingAndGlyphs">10<tspan font-size="72%" dy="-0.48em">2</tspan></text>
<text x="376.12" y="121.77" font-size="8.25" text-anchor="middle" fill="#231f20" textLength="11.54" lengthAdjust="spacingAndGlyphs">10<tspan font-size="72%" dy="-0.48em">3</tspan></text>
<text x="405.00" y="121.77" font-size="8.25" text-anchor="middle" fill="#231f20" textLength="11.54" lengthAdjust="spacingAndGlyphs">10<tspan font-size="72%" dy="-0.48em">4</tspan></text>
<text x="346.00" y="133.09" font-size="8.58" text-anchor="middle" fill="#231f20" textLength="10.82" lengthAdjust="spacingAndGlyphs" >PE</text>
<text x="265.00" y="66.67" font-size="8.8" text-anchor="middle" fill="#231f20" textLength="22.5" lengthAdjust="spacingAndGlyphs" transform="rotate(-90 265.00 63.50)" >Counts</text>
<text x="301.00" y="49.51" font-size="8.36" text-anchor="start" fill="#231f20" textLength="30" lengthAdjust="spacingAndGlyphs" >Pf4-Cre/</text>
<text x="301.00" y="60.51" font-size="8.36" text-anchor="start" fill="#231f20" textLength="31" lengthAdjust="spacingAndGlyphs" >ERp46<tspan font-size="72%" dx="0.4" dy="-0.56em" style="stroke-width:0.1px">fl/fl</tspan><tspan dy="0.403em">​</tspan></text>
<text x="364.50" y="29.51" font-size="8.36" text-anchor="start" fill="#231f20" textLength="33" lengthAdjust="spacingAndGlyphs" >ERp46<tspan font-size="72%" dx="0.4" dy="-0.56em" style="stroke-width:0.1px">fl/fl</tspan><tspan dy="0.403em">​</tspan></text>
<line x1="447.00" y1="14.50" x2="447.00" y2="110.30" stroke="#231f20" stroke-width="1"/>
<line x1="444.00" y1="110.30" x2="447.00" y2="110.30" stroke="#231f20" stroke-width="1"/>
<text x="441.00" y="112.67" font-size="8.25" text-anchor="end" fill="#231f20" textLength="4.34" lengthAdjust="spacingAndGlyphs" >0</text>
<line x1="444.00" y1="79.63" x2="447.00" y2="79.63" stroke="#231f20" stroke-width="1"/>
<text x="441.00" y="82.00" font-size="8.25" text-anchor="end" fill="#231f20" textLength="13.01" lengthAdjust="spacingAndGlyphs" >200</text>
<line x1="444.00" y1="48.97" x2="447.00" y2="48.97" stroke="#231f20" stroke-width="1"/>
<text x="441.00" y="51.34" font-size="8.25" text-anchor="end" fill="#231f20" textLength="13.01" lengthAdjust="spacingAndGlyphs" >400</text>
<line x1="444.00" y1="18.30" x2="447.00" y2="18.30" stroke="#231f20" stroke-width="1"/>
<text x="441.00" y="20.67" font-size="8.25" text-anchor="end" fill="#231f20" textLength="13.01" lengthAdjust="spacingAndGlyphs" >600</text>
<line x1="447.00" y1="110.30" x2="508.80" y2="110.30" stroke="#231f20" stroke-width="1"/>
<line x1="464.50" y1="110.30" x2="464.50" y2="113.30" stroke="#231f20" stroke-width="1"/>
<line x1="490.80" y1="110.30" x2="490.80" y2="113.30" stroke="#231f20" stroke-width="1"/>
<rect x="456.10" y="46.67" width="16.90" height="63.63" fill="#e0808f" stroke="#d96b80" stroke-width="0.5"/>
<rect x="482.30" y="78.87" width="16.90" height="31.43" fill="#87a6c4" stroke="#7096b9" stroke-width="0.5"/>
<line x1="464.50" y1="40.07" x2="464.50" y2="51.73" stroke="#c8102e" stroke-width="0.9"/>
<line x1="460.70" y1="40.07" x2="468.30" y2="40.07" stroke="#c8102e" stroke-width="0.9"/>
<line x1="460.70" y1="51.73" x2="468.30" y2="51.73" stroke="#c8102e" stroke-width="0.9"/>
<line x1="490.80" y1="77.33" x2="490.80" y2="80.86" stroke="#0b4a8a" stroke-width="0.9"/>
<line x1="487.00" y1="77.33" x2="494.60" y2="77.33" stroke="#0b4a8a" stroke-width="0.9"/>
<line x1="487.00" y1="80.86" x2="494.60" y2="80.86" stroke="#0b4a8a" stroke-width="0.9"/>
<circle cx="464.40" cy="33.70" r="1.3" fill="#c8102e"/>
<circle cx="469.80" cy="37.10" r="1.3" fill="#c8102e"/>
<circle cx="464.40" cy="40.00" r="1.3" fill="#c8102e"/>
<circle cx="464.40" cy="51.50" r="1.3" fill="#c8102e"/>
<circle cx="464.40" cy="66.80" r="1.3" fill="#c8102e"/>
<rect x="483.90" y="74.40" width="2.60" height="2.60" fill="#0b4a8a"/>
<rect x="489.30" y="73.10" width="2.60" height="2.60" fill="#0b4a8a"/>
<rect x="495.40" y="77.30" width="2.60" height="2.60" fill="#0b4a8a"/>
<rect x="489.30" y="78.80" width="2.60" height="2.60" fill="#0b4a8a"/>
<rect x="489.30" y="81.70" width="2.60" height="2.60" fill="#0b4a8a"/>
<line x1="462.00" y1="26.30" x2="493.80" y2="26.30" stroke="#3a3a3a" stroke-width="1.15"/>
<text x="477.90" y="26.67" font-size="8.25" text-anchor="middle" fill="#231f20" textLength="9.11" lengthAdjust="spacingAndGlyphs" >***</text>
<text x="420.00" y="65.59" font-size="8.58" text-anchor="middle" fill="#231f20" textLength="12" lengthAdjust="spacingAndGlyphs" transform="rotate(-90 420.00 62.50)" >MFI</text>
<text x="460.20" y="122.21" font-size="8.36" text-anchor="middle" fill="#231f20" textLength="31" lengthAdjust="spacingAndGlyphs" >ERp46<tspan font-size="72%" dx="0.4" dy="-0.56em" style="stroke-width:0.1px">fl/fl</tspan><tspan dy="0.403em">​</tspan></text>
<text x="496.20" y="121.91" font-size="8.36" text-anchor="middle" fill="#231f20" textLength="30" lengthAdjust="spacingAndGlyphs" >Pf4-Cre/</text>
<text x="496.70" y="131.21" font-size="8.36" text-anchor="middle" fill="#231f20" textLength="31" lengthAdjust="spacingAndGlyphs" >ERp46<tspan font-size="72%" dx="0.4" dy="-0.56em" style="stroke-width:0.1px">fl/fl</tspan><tspan dy="0.403em">​</tspan></text>
<text x="7.50" y="150.82" font-size="12.0" text-anchor="start" fill="#000" font-weight="bold" >C</text>
<text x="70.00" y="149.55" font-size="9.02" text-anchor="middle" fill="#231f20" textLength="88" lengthAdjust="spacingAndGlyphs" >Thrombin (0.015 U/mL)</text>
<path d="M30.5,233.3 110.0,233.3" fill="none" stroke="#1d5a9a" stroke-width="1.1" stroke-linejoin="round" />
<path d="M30.5,231.3 30.8,230.6 31.0,232.0 31.3,231.2 31.6,231.2 31.8,230.8 32.1,231.2 32.4,230.8 32.6,231.2 32.9,231.4 33.1,231.2 33.4,231.3 33.7,230.9 33.9,231.8 34.2,230.9 34.5,230.5 34.7,231.1 35.0,230.9 35.3,230.8 35.5,231.1 35.8,231.3 36.1,230.8 36.3,232.2 36.6,234.7 36.9,236.3 37.1,236.1 37.4,234.7 37.7,232.4 37.9,230.5 38.2,229.3 38.5,227.7 38.7,226.1 39.0,226.7 39.2,226.3 39.5,226.8 39.8,226.2 40.0,226.4 40.3,227.2 40.6,225.8 40.8,225.7 41.1,225.5 41.4,225.0 41.6,225.2 41.9,226.0 42.2,225.5 42.4,224.9 42.7,225.0 43.0,225.8 43.2,225.1 43.5,225.2 43.8,225.4 44.0,225.8 44.3,226.0 44.5,225.5 44.8,225.1 45.1,225.0 45.3,225.6 45.6,225.4 45.9,224.6 46.1,224.9 46.4,224.8 46.7,224.6 46.9,224.3 47.2,223.9 47.5,224.2 47.7,223.7 48.0,224.7 48.3,224.4 48.5,223.6 48.8,224.6 49.0,224.3 49.3,223.1 49.6,224.6 49.8,224.1 50.1,224.5 50.4,223.1 50.6,223.8 50.9,223.6 51.2,223.4 51.4,223.2 51.7,223.3 52.0,222.1 52.2,222.0 52.5,221.8 52.8,221.9 53.0,221.7 53.3,221.9 53.6,221.6 53.8,221.3 54.1,220.9 54.4,220.8 54.6,221.1 54.9,220.8 55.1,220.4 55.4,220.0 55.7,220.6 55.9,219.5 56.2,219.8 56.5,219.8 56.7,219.0 57.0,219.3 57.3,218.3 57.5,219.0 57.8,218.4 58.1,217.5 58.3,218.2 58.6,217.4 58.9,218.1 59.1,217.1 59.4,217.1 59.6,217.1 59.9,216.7 60.2,216.7 60.4,216.2 60.7,216.5 61.0,216.2 61.2,216.2 61.5,215.0 61.8,216.6 62.0,216.1 62.3,215.3 62.6,216.0 62.8,216.2 63.1,216.4 63.4,215.5 63.6,216.5 63.9,215.8 64.2,216.8 64.4,215.7 64.7,216.1 65.0,215.6 65.2,215.3 65.5,216.1 65.7,216.0 66.0,216.3 66.3,216.0 66.5,215.4 66.8,214.9 67.1,215.3 67.3,215.2 67.6,215.1 67.9,215.7 68.1,215.5 68.4,215.3 68.7,215.4 68.9,215.3 69.2,215.4 69.5,215.6 69.7,215.6 70.0,214.9 70.2,214.6 70.5,215.7 70.8,215.2 71.0,215.6 71.3,214.4 71.6,214.9 71.8,215.0 72.1,214.4 72.4,214.8 72.6,215.3 72.9,215.5 73.2,215.7 73.4,214.8 73.7,214.6 74.0,215.4 74.2,215.6 74.5,215.3 74.8,214.7 75.0,215.6 75.3,215.6 75.5,215.5 75.8,215.2 76.1,215.5 76.3,215.7 76.6,215.2 76.9,214.7 77.1,215.6 77.4,215.7 77.7,215.5 77.9,215.9 78.2,215.3 78.5,215.6 78.7,215.5 79.0,215.9 79.3,216.3 79.5,215.6 79.8,216.5 80.1,216.4 80.3,216.1 80.6,216.0 80.8,216.5 81.1,215.8 81.4,215.8 81.6,215.5 81.9,216.1 82.2,216.5 82.4,216.2 82.7,216.2 83.0,215.9 83.2,216.1 83.5,215.5 83.8,216.5 84.0,216.0 84.3,215.7 84.6,215.9 84.8,215.9 85.1,216.6 85.4,216.7 85.6,215.7 85.9,216.7 86.2,216.7 86.4,216.1 86.7,215.8 86.9,216.1 87.2,216.2 87.5,216.6 87.7,216.3 88.0,215.7 88.3,216.6 88.5,215.9 88.8,216.9 89.1,216.1 89.3,216.3 89.6,216.3 89.9,216.5 90.1,217.2 90.4,217.1 90.7,217.0 90.9,216.9 91.2,216.2 91.5,216.6 91.7,216.6 92.0,216.5 92.2,217.1 92.5,216.6 92.8,216.7 93.0,216.5 93.3,216.2 93.6,217.3 93.8,217.6 94.1,217.2 94.4,216.8 94.6,216.2 94.9,217.4 95.2,217.8 95.4,217.5 95.7,217.8 96.0,218.1 96.2,218.0 96.5,217.4 96.8,218.1 97.0,218.0 97.3,217.2 97.5,217.7 97.8,217.3 98.1,217.9 98.3,218.2 98.6,217.6 98.9,217.3 99.1,218.7 99.4,218.3 99.7,218.8 99.9,217.8 100.2,218.8 100.5,219.2 100.7,219.3 101.0,218.4 101.3,218.7 101.5,218.6 101.8,219.1 102.0,219.1 102.3,218.8 102.6,218.3 102.8,219.2 103.1,218.7 103.4,219.2 103.6,219.1 103.9,219.7 104.2,219.6 104.4,219.0 104.7,219.4 105.0,220.0 105.2,219.1 105.5,219.6 105.8,219.9 106.0,220.0 106.3,219.8 106.6,219.1 106.8,219.2 107.1,219.8 107.3,219.9 107.6,220.8 107.9,219.5 108.1,220.4 108.4,220.3 108.7,219.4 108.9,219.8 109.2,220.2 109.5,220.0 109.7,220.2 110.0,220.5" fill="none" stroke="#d3163a" stroke-width="1.1" stroke-linejoin="round" />
<path d="M30.5,161.9 30.8,161.9 31.2,161.9 31.5,161.8 31.8,161.5 32.2,161.8 32.5,161.9 32.8,161.7 33.1,161.8 33.5,161.9 33.8,161.6 34.1,161.9 34.5,162.2 34.8,161.7 35.1,161.8 35.5,161.7 35.8,162.0 36.1,161.7 36.5,161.5 36.8,160.5 37.1,160.1 37.5,159.8 37.8,159.2 38.1,159.7 38.5,159.8 38.8,159.1 39.1,159.2 39.4,158.4 39.8,158.0 40.1,157.4 40.4,156.4 40.8,156.2 41.1,156.2 41.4,155.5 41.8,155.3 42.1,155.1 42.4,155.0 42.8,155.2 43.1,155.4 43.4,155.1 43.8,154.9 44.1,155.3 44.4,154.7 44.7,154.6 45.1,154.8 45.4,154.8 45.7,154.5 46.1,154.4 46.4,154.7 46.7,154.6 47.1,154.3 47.4,154.5 47.7,154.5 48.1,154.7 48.4,154.7 48.7,154.7 49.0,154.8 49.4,155.1 49.7,155.3 50.0,155.0 50.4,155.3 50.7,155.1 51.0,155.3 51.4,155.5 51.7,155.7 52.0,155.4 52.4,155.6 52.7,155.8 53.0,155.5 53.4,155.9 53.7,155.9 54.0,156.2 54.4,156.0 54.7,155.9 55.0,156.4 55.3,156.6 55.7,156.5 56.0,156.9 56.3,156.8 56.7,156.8 57.0,157.1 57.3,156.8 57.7,157.1 58.0,157.4 58.3,157.6 58.7,157.5 59.0,157.7 59.3,157.6 59.6,157.9 60.0,158.3 60.3,157.9 60.6,158.7 61.0,158.2 61.3,158.4 61.6,158.6 62.0,158.9 62.3,158.6 62.6,158.6 63.0,159.2 63.3,159.4 63.6,159.5 64.0,160.0 64.3,159.7 64.6,159.8 65.0,160.1 65.3,160.1 65.6,160.5 65.9,160.0 66.3,160.3 66.6,159.9 66.9,160.8 67.3,160.7 67.6,161.1 67.9,161.5 68.3,161.2 68.6,161.3 68.9,161.4 69.3,161.4 69.6,161.6 69.9,162.0 70.2,162.0 70.6,162.2 70.9,162.2 71.2,162.6 71.6,162.6 71.9,162.6 72.2,162.9 72.6,162.9 72.9,162.8 73.2,163.5 73.6,163.4 73.9,163.3 74.2,163.8 74.6,163.8 74.9,163.5 75.2,164.3 75.5,164.2 75.9,164.4 76.2,164.4 76.5,164.5 76.9,164.3 77.2,165.0 77.5,164.9 77.9,165.0 78.2,165.2 78.5,165.3 78.9,165.6 79.2,165.5 79.5,165.7 79.9,165.4 80.2,165.9 80.5,166.2 80.8,166.5 81.2,166.3 81.5,166.5 81.8,166.9 82.2,166.7 82.5,167.0 82.8,167.3 83.2,167.2 83.5,167.5 83.8,167.3 84.2,167.6 84.5,167.7 84.8,167.8 85.2,168.2 85.5,168.5 85.8,168.1 86.2,168.2 86.5,168.6 86.8,168.4 87.1,168.8 87.5,169.0 87.8,168.9 88.1,169.2 88.5,168.9 88.8,169.5 89.1,169.2 89.5,169.5 89.8,169.7 90.1,169.8 90.5,170.2 90.8,170.2 91.1,170.2 91.5,170.5 91.8,170.9 92.1,170.7 92.4,170.9 92.8,171.2 93.1,171.1 93.4,170.9 93.8,171.8 94.1,171.9 94.4,171.1 94.8,171.6 95.1,171.8 95.4,172.0 95.8,172.1 96.1,172.0 96.4,172.0 96.8,172.3 97.1,172.6 97.4,172.3 97.7,172.4 98.1,172.7 98.4,172.4 98.7,172.9 99.1,172.9 99.4,173.2 99.7,173.1 100.1,173.2 100.4,173.4 100.7,173.5 101.1,173.5 101.4,173.8 101.7,174.0 102.0,174.2 102.4,174.4 102.7,174.0 103.0,174.2 103.4,173.9 103.7,174.9 104.0,174.5 104.4,174.7 104.7,174.9 105.0,174.6 105.4,175.1 105.7,175.1 106.0,174.9 106.4,175.4 106.7,175.7 107.0,175.2 107.3,175.8 107.7,175.8 108.0,176.0 108.3,176.1 108.7,176.3 109.0,176.1 109.3,176.5 109.7,176.3 110.0,176.5" fill="none" stroke="#1d5a9a" stroke-width="1.1" stroke-linejoin="round" />
<path d="M30.5,163.6 30.8,163.9 31.1,164.6 31.4,164.1 31.7,163.8 32.0,163.4 32.3,163.6 32.6,164.0 32.9,164.3 33.3,164.1 33.6,164.1 33.9,163.9 34.2,164.4 34.5,163.7 34.8,163.7 35.1,164.4 35.4,164.2 35.7,164.2 36.0,164.3 36.3,164.6 36.6,165.1 36.9,165.0 37.2,164.2 37.5,164.7 37.8,164.2 38.1,163.3 38.5,163.5 38.8,162.6 39.1,162.1 39.4,162.0 39.7,161.7 40.0,160.4 40.3,160.4 40.6,159.4 40.9,160.2 41.2,158.6 41.5,158.8 41.8,157.7 42.1,157.8 42.4,158.0 42.7,155.7 43.0,156.2 43.3,156.3 43.6,155.8 44.0,155.4 44.3,156.3 44.6,155.3 44.9,154.5 45.2,155.5 45.5,154.4 45.8,155.5 46.1,154.8 46.4,155.2 46.7,155.7 47.0,155.4 47.3,155.0 47.6,155.0 47.9,156.4 48.2,156.4 48.5,156.0 48.8,156.9 49.2,157.0 49.5,157.3 49.8,156.5 50.1,157.6 50.4,158.5 50.7,158.8 51.0,159.2 51.3,158.2 51.6,159.6 51.9,160.1 52.2,161.3 52.5,160.3 52.8,161.0 53.1,161.6 53.4,162.4 53.7,162.3 54.0,163.4 54.4,163.1 54.7,164.0 55.0,164.1 55.3,164.8 55.6,165.0 55.9,165.1 56.2,166.6 56.5,166.7 56.8,166.9 57.1,167.6 57.4,168.4 57.7,168.1 58.0,169.0 58.3,169.7 58.6,170.2 58.9,170.4 59.2,170.2 59.5,172.0 59.9,172.2 60.2,172.6 60.5,173.0 60.8,173.7 61.1,173.9 61.4,174.2 61.7,174.8 62.0,175.3 62.3,175.8 62.6,176.0 62.9,177.2 63.2,176.8 63.5,178.1 63.8,177.8 64.1,178.8 64.4,179.6 64.7,179.6 65.1,179.6 65.4,180.4 65.7,180.8 66.0,180.5 66.3,181.4 66.6,182.1 66.9,182.3 67.2,182.9 67.5,183.6 67.8,184.0 68.1,184.5 68.4,184.8 68.7,184.8 69.0,185.2 69.3,185.4 69.6,185.7 69.9,186.1 70.2,185.7 70.6,186.6 70.9,187.0 71.2,186.8 71.5,187.5 71.8,188.0 72.1,188.0 72.4,189.2 72.7,187.6 73.0,188.8 73.3,188.4 73.6,189.8 73.9,190.8 74.2,189.0 74.5,190.3 74.8,190.8 75.1,190.7 75.4,191.3 75.8,190.5 76.1,192.0 76.4,192.1 76.7,192.2 77.0,192.2 77.3,192.9 77.6,192.6 77.9,193.1 78.2,193.0 78.5,192.5 78.8,193.6 79.1,193.8 79.4,194.2 79.7,193.8 80.0,194.3 80.3,194.7 80.6,194.7 81.0,195.4 81.3,195.8 81.6,194.9 81.9,194.6 82.2,195.9 82.5,196.4 82.8,196.3 83.1,196.5 83.4,196.1 83.7,196.2 84.0,197.0 84.3,196.5 84.6,196.3 84.9,196.8 85.2,198.4 85.5,198.3 85.8,197.4 86.2,197.5 86.5,198.0 86.8,197.7 87.1,198.7 87.4,198.2 87.7,198.0 88.0,199.0 88.3,198.4 88.6,198.9 88.9,198.9 89.2,198.9 89.5,199.3 89.8,199.0 90.1,198.6 90.4,198.6 90.7,199.1 91.0,199.4 91.3,199.9 91.7,200.0 92.0,200.3 92.3,200.3 92.6,200.0 92.9,200.2 93.2,199.7 93.5,200.6 93.8,201.0 94.1,201.1 94.4,200.9 94.7,200.9 95.0,201.5 95.3,201.2 95.6,201.5 95.9,201.5 96.2,201.5 96.5,202.0 96.9,201.3 97.2,201.5 97.5,201.4 97.8,201.4 98.1,202.4 98.4,202.6 98.7,202.0 99.0,202.3 99.3,202.6 99.6,202.5 99.9,202.8 100.2,201.8 100.5,202.2 100.8,202.7 101.1,203.1 101.4,202.7 101.7,202.4 102.0,202.6 102.4,202.6 102.7,202.6 103.0,203.6 103.3,202.8 103.6,203.2 103.9,204.1 104.2,203.8 104.5,203.5 104.8,203.2 105.1,203.7 105.4,204.2 105.7,203.9 106.0,204.2 106.3,203.9 106.6,204.1 106.9,203.9 107.2,204.2 107.6,204.6 107.9,203.6 108.2,204.2 108.5,204.4 108.8,204.2 109.1,204.4 109.4,204.8 109.7,205.4 110.0,204.8" fill="none" stroke="#d3163a" stroke-width="1.1" stroke-linejoin="round" />
<rect x="30.50" y="153.80" width="79.50" height="90.00" fill="none" stroke="#231f20" stroke-width="1.35"/>
<line x1="27.50" y1="236.30" x2="30.50" y2="236.30" stroke="#231f20" stroke-width="1"/>
<text x="26.50" y="239.27" font-size="8.25" text-anchor="end" fill="#231f20" textLength="13.01" lengthAdjust="spacingAndGlyphs" >100</text>
<line x1="37.50" y1="243.80" x2="37.50" y2="246.30" stroke="#231f20" stroke-width="0.9"/>
<text x="37.50" y="256.17" font-size="8.25" text-anchor="middle" fill="#231f20" textLength="4.34" lengthAdjust="spacingAndGlyphs" >0</text>
<line x1="53.30" y1="243.80" x2="53.30" y2="246.30" stroke="#231f20" stroke-width="0.9"/>
<text x="53.30" y="256.17" font-size="8.25" text-anchor="middle" fill="#231f20" textLength="4.34" lengthAdjust="spacingAndGlyphs" >1</text>
<line x1="69.30" y1="243.80" x2="69.30" y2="246.30" stroke="#231f20" stroke-width="0.9"/>
<text x="69.30" y="256.17" font-size="8.25" text-anchor="middle" fill="#231f20" textLength="4.34" lengthAdjust="spacingAndGlyphs" >2</text>
<line x1="85.50" y1="243.80" x2="85.50" y2="246.30" stroke="#231f20" stroke-width="0.9"/>
<text x="85.50" y="256.17" font-size="8.25" text-anchor="middle" fill="#231f20" textLength="4.34" lengthAdjust="spacingAndGlyphs" >3</text>
<line x1="101.50" y1="243.80" x2="101.50" y2="246.30" stroke="#231f20" stroke-width="0.9"/>
<text x="101.50" y="256.17" font-size="8.25" text-anchor="middle" fill="#231f20" textLength="4.34" lengthAdjust="spacingAndGlyphs" >4</text>
<text x="70.50" y="267.59" font-size="8.58" text-anchor="middle" fill="#231f20" textLength="37" lengthAdjust="spacingAndGlyphs" >Time (min)</text>
<text x="12.00" y="199.09" font-size="8.58" text-anchor="middle" fill="#231f20" textLength="49" lengthAdjust="spacingAndGlyphs" transform="rotate(-90 12.00 196.00)" >% Aggregation</text>
<line x1="113.90" y1="213.50" x2="113.90" y2="235.20" stroke="#231f20" stroke-width="1.1"/>
<line x1="112.10" y1="213.50" x2="115.70" y2="213.50" stroke="#231f20" stroke-width="1.1"/>
<line x1="112.10" y1="235.20" x2="115.70" y2="235.20" stroke="#231f20" stroke-width="1.1"/>
<text x="122.30" y="224.09" font-size="8.58" text-anchor="middle" fill="#231f20" textLength="38" lengthAdjust="spacingAndGlyphs" transform="rotate(-90 122.30 221.00)" >1nmole ATP</text>
<line x1="38.70" y1="183.70" x2="38.70" y2="167.50" stroke="#231f20" stroke-width="0.95"/>
<path d="M38.70,163.50 L40.70,167.50 L36.70,167.50 Z" fill="#231f20"/>
<line x1="46.00" y1="191.20" x2="58.24" y2="182.51" stroke="#231f20" stroke-width="0.95"/>
<path d="M61.50,180.20 L59.40,184.15 L57.08,180.88 Z" fill="#231f20"/>
<line x1="51.50" y1="204.20" x2="58.78" y2="212.06" stroke="#231f20" stroke-width="0.95"/>
<path d="M61.50,215.00 L57.31,213.42 L60.25,210.71 Z" fill="#231f20"/>
<text x="37.50" y="200.31" font-size="8.36" text-anchor="start" fill="#231f20" textLength="30" lengthAdjust="spacingAndGlyphs" >ERp46<tspan font-size="72%" dx="0.4" dy="-0.56em" style="stroke-width:0.1px">fl/fl</tspan><tspan dy="0.403em">​</tspan></text>
<text x="110.00" y="162.31" font-size="8.36" text-anchor="end" fill="#231f20" textLength="37" lengthAdjust="spacingAndGlyphs" >ERp46-null</text>
<line x1="160.20" y1="156.30" x2="160.20" y2="244.30" stroke="#231f20" stroke-width="1"/>
<line x1="157.20" y1="244.30" x2="160.20" y2="244.30" stroke="#231f20" stroke-width="1"/>
<text x="156.00" y="246.67" font-size="8.25" text-anchor="end" fill="#231f20" textLength="4.34" lengthAdjust="spacingAndGlyphs" >0</text>
<line x1="157.20" y1="223.43" x2="160.20" y2="223.43" stroke="#231f20" stroke-width="1"/>
<text x="156.00" y="225.80" font-size="8.25" text-anchor="end" fill="#231f20" textLength="8.68" lengthAdjust="spacingAndGlyphs" >20</text>
<line x1="157.20" y1="202.55" x2="160.20" y2="202.55" stroke="#231f20" stroke-width="1"/>
<text x="156.00" y="204.92" font-size="8.25" text-anchor="end" fill="#231f20" textLength="8.68" lengthAdjust="spacingAndGlyphs" >40</text>
<line x1="157.20" y1="181.68" x2="160.20" y2="181.68" stroke="#231f20" stroke-width="1"/>
<text x="156.00" y="184.05" font-size="8.25" text-anchor="end" fill="#231f20" textLength="8.68" lengthAdjust="spacingAndGlyphs" >60</text>
<line x1="157.20" y1="160.80" x2="160.20" y2="160.80" stroke="#231f20" stroke-width="1"/>
<text x="156.00" y="163.17" font-size="8.25" text-anchor="end" fill="#231f20" textLength="8.68" lengthAdjust="spacingAndGlyphs" >80</text>
<line x1="160.20" y1="244.30" x2="195.50" y2="244.30" stroke="#231f20" stroke-width="1"/>
<line x1="169.60" y1="244.30" x2="169.60" y2="247.30" stroke="#231f20" stroke-width="1"/>
<line x1="186.20" y1="244.30" x2="186.20" y2="247.30" stroke="#231f20" stroke-width="1"/>
<rect x="164.60" y="186.89" width="10.10" height="57.41" fill="#e0808f" stroke="#d96b80" stroke-width="0.5"/>
<rect x="181.10" y="228.12" width="10.30" height="16.18" fill="#87a6c4" stroke="#7096b9" stroke-width="0.5"/>
<line x1="169.60" y1="182.72" x2="169.60" y2="191.07" stroke="#c8102e" stroke-width="0.9"/>
<line x1="166.60" y1="182.72" x2="172.60" y2="182.72" stroke="#c8102e" stroke-width="0.9"/>
<line x1="166.60" y1="191.07" x2="172.60" y2="191.07" stroke="#c8102e" stroke-width="0.9"/>
<line x1="186.20" y1="224.47" x2="186.20" y2="231.78" stroke="#0b4a8a" stroke-width="0.9"/>
<line x1="183.20" y1="224.47" x2="189.20" y2="224.47" stroke="#0b4a8a" stroke-width="0.9"/>
<line x1="183.20" y1="231.78" x2="189.20" y2="231.78" stroke="#0b4a8a" stroke-width="0.9"/>
<circle cx="169.60" cy="179.20" r="1.25" fill="#c8102e"/>
<circle cx="169.60" cy="190.00" r="1.25" fill="#c8102e"/>
<circle cx="169.60" cy="196.50" r="1.25" fill="#c8102e"/>
<rect x="180.95" y="222.25" width="2.50" height="2.50" fill="#0b4a8a"/>
<rect x="188.75" y="223.25" width="2.50" height="2.50" fill="#0b4a8a"/>
<rect x="184.95" y="232.75" width="2.50" height="2.50" fill="#0b4a8a"/>
<line x1="168.00" y1="175.50" x2="187.00" y2="175.50" stroke="#3a3a3a" stroke-width="1.15"/>
<text x="177.50" y="175.87" font-size="8.25" text-anchor="middle" fill="#231f20" textLength="12.14" lengthAdjust="spacingAndGlyphs" >****</text>
<text x="137.50" y="203.09" font-size="8.58" text-anchor="middle" fill="#231f20" textLength="49" lengthAdjust="spacingAndGlyphs" transform="rotate(-90 137.50 200.00)" >% Aggregation</text>
<text x="171.10" y="254.69" font-size="8.03" text-anchor="end" fill="#231f20" textLength="32.5" lengthAdjust="spacingAndGlyphs" transform="rotate(-45 171.10 251.80)" >ERp46<tspan font-size="72%" dx="0.4" dy="-0.56em" style="stroke-width:0.1px">fl/fl</tspan><tspan dy="0.403em">​</tspan></text>
<text x="187.70" y="254.69" font-size="8.03" text-anchor="end" fill="#231f20" textLength="30" lengthAdjust="spacingAndGlyphs" transform="rotate(-45 187.70 251.80)" >Pf4-Cre/</text>
<text x="193.78" y="260.77" font-size="8.03" text-anchor="end" fill="#231f20" textLength="32.5" lengthAdjust="spacingAndGlyphs" transform="rotate(-45 193.78 257.88)" >ERp46<tspan font-size="72%" dx="0.4" dy="-0.56em" style="stroke-width:0.1px">fl/fl</tspan><tspan dy="0.403em">​</tspan></text>
<line x1="230.60" y1="157.00" x2="230.60" y2="244.30" stroke="#231f20" stroke-width="1"/>
<line x1="227.60" y1="244.30" x2="230.60" y2="244.30" stroke="#231f20" stroke-width="1"/>
<text x="226.50" y="246.67" font-size="8.25" text-anchor="end" fill="#231f20" textLength="10.84" lengthAdjust="spacingAndGlyphs" >0.0</text>
<line x1="227.60" y1="223.23" x2="230.60" y2="223.23" stroke="#231f20" stroke-width="1"/>
<text x="226.50" y="225.60" font-size="8.25" text-anchor="end" fill="#231f20" textLength="10.84" lengthAdjust="spacingAndGlyphs" >0.5</text>
<line x1="227.60" y1="202.15" x2="230.60" y2="202.15" stroke="#231f20" stroke-width="1"/>
<text x="226.50" y="204.52" font-size="8.25" text-anchor="end" fill="#231f20" textLength="10.84" lengthAdjust="spacingAndGlyphs" >1.0</text>
<line x1="227.60" y1="181.07" x2="230.60" y2="181.07" stroke="#231f20" stroke-width="1"/>
<text x="226.50" y="183.44" font-size="8.25" text-anchor="end" fill="#231f20" textLength="10.84" lengthAdjust="spacingAndGlyphs" >1.5</text>
<line x1="227.60" y1="160.00" x2="230.60" y2="160.00" stroke="#231f20" stroke-width="1"/>
<text x="226.50" y="162.37" font-size="8.25" text-anchor="end" fill="#231f20" textLength="10.84" lengthAdjust="spacingAndGlyphs" >2.0</text>
<line x1="230.60" y1="244.30" x2="264.00" y2="244.30" stroke="#231f20" stroke-width="1"/>
<line x1="239.20" y1="244.30" x2="239.20" y2="247.30" stroke="#231f20" stroke-width="1"/>
<line x1="255.80" y1="244.30" x2="255.80" y2="247.30" stroke="#231f20" stroke-width="1"/>
<rect x="234.10" y="205.10" width="10.10" height="39.20" fill="#e0808f" stroke="#d96b80" stroke-width="0.5"/>
<rect x="250.60" y="237.98" width="10.30" height="6.32" fill="#87a6c4" stroke="#7096b9" stroke-width="0.5"/>
<line x1="239.20" y1="197.51" x2="239.20" y2="212.69" stroke="#c8102e" stroke-width="0.9"/>
<line x1="236.20" y1="197.51" x2="242.20" y2="197.51" stroke="#c8102e" stroke-width="0.9"/>
<line x1="236.20" y1="212.69" x2="242.20" y2="212.69" stroke="#c8102e" stroke-width="0.9"/>
<line x1="255.80" y1="235.87" x2="255.80" y2="240.09" stroke="#0b4a8a" stroke-width="0.9"/>
<line x1="252.80" y1="235.87" x2="258.80" y2="235.87" stroke="#0b4a8a" stroke-width="0.9"/>
<line x1="252.80" y1="240.09" x2="258.80" y2="240.09" stroke="#0b4a8a" stroke-width="0.9"/>
<circle cx="239.20" cy="182.50" r="1.25" fill="#c8102e"/>
<circle cx="238.00" cy="214.50" r="1.25" fill="#c8102e"/>
<circle cx="241.80" cy="213.00" r="1.25" fill="#c8102e"/>
<circle cx="239.20" cy="205.00" r="1.25" fill="#c8102e"/>
<rect x="250.80" y="232.30" width="2.40" height="2.40" fill="#0b4a8a"/>
<rect x="258.30" y="234.30" width="2.40" height="2.40" fill="#0b4a8a"/>
<rect x="254.60" y="236.30" width="2.40" height="2.40" fill="#0b4a8a"/>
<rect x="250.80" y="238.80" width="2.40" height="2.40" fill="#0b4a8a"/>
<rect x="258.30" y="239.30" width="2.40" height="2.40" fill="#0b4a8a"/>
<line x1="237.50" y1="177.00" x2="256.30" y2="177.00" stroke="#3a3a3a" stroke-width="1.15"/>
<text x="246.90" y="177.37" font-size="8.25" text-anchor="middle" fill="#231f20" textLength="6.07" lengthAdjust="spacingAndGlyphs" >**</text>
<text x="206.30" y="204.09" font-size="8.58" text-anchor="middle" fill="#231f20" textLength="76" lengthAdjust="spacingAndGlyphs" transform="rotate(-90 206.30 201.00)" >ATP secretion (nmoles)</text>
<text x="240.70" y="254.69" font-size="8.03" text-anchor="end" fill="#231f20" textLength="32.5" lengthAdjust="spacingAndGlyphs" transform="rotate(-45 240.70 251.80)" >ERp46<tspan font-size="72%" dx="0.4" dy="-0.56em" style="stroke-width:0.1px">fl/fl</tspan><tspan dy="0.403em">​</tspan></text>
<text x="257.30" y="254.69" font-size="8.03" text-anchor="end" fill="#231f20" textLength="30" lengthAdjust="spacingAndGlyphs" transform="rotate(-45 257.30 251.80)" >Pf4-Cre/</text>
<text x="263.38" y="260.77" font-size="8.03" text-anchor="end" fill="#231f20" textLength="32.5" lengthAdjust="spacingAndGlyphs" transform="rotate(-45 263.38 257.88)" >ERp46<tspan font-size="72%" dx="0.4" dy="-0.56em" style="stroke-width:0.1px">fl/fl</tspan><tspan dy="0.403em">​</tspan></text>
<text x="269.50" y="150.82" font-size="12.0" text-anchor="start" fill="#000" font-weight="bold" >D</text>
<text x="325.50" y="149.55" font-size="9.02" text-anchor="middle" fill="#231f20" textLength="61" lengthAdjust="spacingAndGlyphs" >CRP (0.2 µg/mL)</text>
<path d="M285.0,235.5 285.5,235.6 286.0,235.2 286.5,235.2 287.0,235.5 287.5,235.2 288.0,235.6 288.6,234.9 289.1,235.5 289.6,235.3 290.1,234.8 290.6,235.5 291.1,235.4 291.6,235.3 292.1,235.0 292.6,235.2 293.1,235.7 293.6,235.1 294.1,234.4 294.7,235.1 295.2,235.0 295.7,235.3 296.2,235.2 296.7,235.1 297.2,235.1 297.7,235.6 298.2,234.9 298.7,235.8 299.2,235.2 299.7,235.0 300.2,235.5 300.8,235.4 301.3,234.9 301.8,235.4 302.3,234.7 302.8,234.9 303.3,235.4 303.8,235.0 304.3,234.7 304.8,235.1 305.3,235.2 305.8,234.9 306.3,234.4 306.8,234.7 307.4,234.9 307.9,234.9 308.4,235.2 308.9,234.6 309.4,234.5 309.9,234.6 310.4,234.9 310.9,234.3 311.4,234.8 311.9,233.8 312.4,234.6 312.9,234.2 313.5,234.5 314.0,234.5 314.5,234.0 315.0,234.2 315.5,234.2 316.0,234.3 316.5,233.8 317.0,233.7 317.5,233.4 318.0,234.5 318.5,233.7 319.0,233.6 319.6,233.2 320.1,233.8 320.6,233.3 321.1,233.7 321.6,233.5 322.1,233.2 322.6,233.3 323.1,232.8 323.6,232.9 324.1,232.8 324.6,232.5 325.1,232.8 325.6,232.6 326.2,233.0 326.7,231.7 327.2,232.3 327.7,232.1 328.2,232.2 328.7,232.3 329.2,232.2 329.7,232.1 330.2,231.9 330.7,232.0 331.2,231.9 331.7,231.3 332.3,231.6 332.8,231.3 333.3,231.3 333.8,231.5 334.3,231.4 334.8,231.4 335.3,231.1 335.8,231.2 336.3,230.9 336.8,231.2 337.3,231.2 337.8,231.4 338.4,231.2 338.9,230.7 339.4,230.7 339.9,230.5 340.4,230.8 340.9,231.1 341.4,230.7 341.9,229.9 342.4,230.1 342.9,230.0 343.4,230.4 343.9,230.2 344.5,230.3 345.0,230.6 345.5,229.9 346.0,229.8 346.5,230.4 347.0,230.0 347.5,229.6 348.0,229.2 348.5,229.3 349.0,229.0 349.5,229.6 350.0,229.6 350.5,229.8 351.1,229.4 351.6,229.2 352.1,229.2 352.6,229.8 353.1,228.8 353.6,229.3 354.1,229.2 354.6,229.3 355.1,229.0 355.6,229.2 356.1,229.2 356.6,228.9 357.2,228.8 357.7,228.8 358.2,228.6 358.7,228.7 359.2,228.7 359.7,228.7 360.2,229.0 360.7,228.9 361.2,228.4 361.7,228.7 362.2,228.5 362.7,228.6 363.3,228.4 363.8,228.4 364.3,228.2 364.8,228.0 365.3,228.4 365.8,228.5 366.3,228.3" fill="none" stroke="#1d5a9a" stroke-width="1.25" stroke-linejoin="round" />
<path d="M285.0,235.2 285.3,235.2 285.7,235.2 286.0,235.5 286.4,235.8 286.7,235.3 287.0,235.1 287.4,235.4 287.7,235.4 288.0,235.0 288.4,235.1 288.7,235.3 289.1,235.5 289.4,234.9 289.7,235.0 290.1,235.4 290.4,234.9 290.8,235.3 291.1,235.4 291.4,235.3 291.8,235.0 292.1,235.3 292.5,235.2 292.8,235.4 293.1,235.0 293.5,235.6 293.8,234.8 294.1,235.2 294.5,235.3 294.8,235.6 295.2,235.1 295.5,235.5 295.8,235.1 296.2,235.5 296.5,235.8 296.9,235.2 297.2,235.4 297.5,235.0 297.9,235.6 298.2,235.7 298.6,235.3 298.9,235.0 299.2,235.4 299.6,235.6 299.9,235.5 300.2,235.3 300.6,234.4 300.9,234.6 301.3,235.1 301.6,234.0 301.9,234.5 302.3,234.6 302.6,234.0 303.0,233.9 303.3,233.2 303.6,232.8 304.0,232.9 304.3,232.6 304.6,232.5 305.0,232.5 305.3,231.9 305.7,231.6 306.0,231.3 306.3,230.7 306.7,230.6 307.0,229.6 307.4,228.8 307.7,228.0 308.0,227.2 308.4,227.2 308.7,226.1 309.1,225.1 309.4,224.5 309.7,224.0 310.1,223.2 310.4,223.0 310.7,221.6 311.1,221.4 311.4,220.7 311.8,219.6 312.1,219.2 312.4,218.5 312.8,218.1 313.1,217.2 313.5,216.9 313.8,215.8 314.1,215.5 314.5,215.7 314.8,215.3 315.1,214.6 315.5,214.0 315.8,214.1 316.2,212.8 316.5,213.0 316.8,213.2 317.2,213.0 317.5,212.4 317.9,212.1 318.2,213.0 318.5,212.5 318.9,212.2 319.2,212.4 319.6,212.6 319.9,211.5 320.2,212.6 320.6,212.4 320.9,211.6 321.2,212.5 321.6,211.8 321.9,212.7 322.3,212.5 322.6,213.2 322.9,212.4 323.3,212.6 323.6,213.0 324.0,212.6 324.3,212.6 324.6,212.8 325.0,212.9 325.3,212.7 325.6,213.2 326.0,213.3 326.3,213.2 326.7,213.8 327.0,213.3 327.3,213.8 327.7,213.3 328.0,213.8 328.4,213.0 328.7,213.8 329.0,213.7 329.4,213.7 329.7,213.8 330.1,214.0 330.4,213.9 330.7,213.6 331.1,214.2 331.4,214.3 331.7,214.4 332.1,214.3 332.4,214.7 332.8,215.1 333.1,214.9 333.4,214.9 333.8,215.5 334.1,215.5 334.5,215.6 334.8,215.8 335.1,215.4 335.5,215.6 335.8,216.1 336.2,215.7 336.5,215.9 336.8,216.1 337.2,216.2 337.5,216.1 337.8,216.6 338.2,216.4 338.5,216.7 338.9,216.9 339.2,216.9 339.5,217.0 339.9,216.6 340.2,216.6 340.6,216.9 340.9,217.3 341.2,217.7 341.6,217.0 341.9,217.5 342.2,217.2 342.6,217.3 342.9,217.6 343.3,217.9 343.6,217.9 343.9,218.2 344.3,217.7 344.6,218.3 345.0,218.4 345.3,218.2 345.6,218.4 346.0,218.2 346.3,218.1 346.7,218.4 347.0,218.4 347.3,219.6 347.7,218.6 348.0,219.3 348.3,219.0 348.7,219.1 349.0,219.3 349.4,218.9 349.7,219.5 350.0,219.5 350.4,219.0 350.7,219.7 351.1,219.7 351.4,219.8 351.7,220.2 352.1,219.7 352.4,220.1 352.8,220.2 353.1,219.8 353.4,220.5 353.8,219.8 354.1,219.9 354.4,220.5 354.8,220.1 355.1,220.5 355.5,220.1 355.8,220.7 356.1,220.4 356.5,221.0 356.8,220.5 357.2,221.2 357.5,221.0 357.8,221.2 358.2,221.2 358.5,221.4 358.8,221.0 359.2,220.7 359.5,221.6 359.9,221.4 360.2,221.6 360.5,222.0 360.9,221.3 361.2,221.8 361.6,221.9 361.9,221.8 362.2,222.3 362.6,222.3 362.9,222.1 363.3,222.2 363.6,222.8 363.9,222.4 364.3,222.9 364.6,222.9 364.9,222.3 365.3,222.6 365.6,223.0 366.0,223.1 366.3,223.3" fill="none" stroke="#d3163a" stroke-width="1.25" stroke-linejoin="round" />
<path d="M285.0,164.5 285.4,164.8 285.8,164.6 286.2,164.6 286.6,164.8 287.0,164.6 287.4,164.8 287.8,165.0 288.3,164.7 288.7,164.7 289.1,164.8 289.5,164.6 289.9,164.9 290.3,164.4 290.7,164.8 291.1,164.6 291.5,164.5 291.9,165.1 292.3,164.5 292.7,165.1 293.1,164.8 293.5,165.0 293.9,164.5 294.3,164.9 294.8,165.0 295.2,164.7 295.6,164.7 296.0,165.2 296.4,164.7 296.8,164.6 297.2,164.6 297.6,164.8 298.0,164.8 298.4,164.7 298.8,165.0 299.2,164.6 299.6,164.8 300.0,165.0 300.4,164.5 300.9,164.9 301.3,165.1 301.7,164.4 302.1,164.5 302.5,164.5 302.9,164.3 303.3,164.8 303.7,164.3 304.1,164.8 304.5,165.0 304.9,164.4 305.3,164.6 305.7,164.3 306.1,164.9 306.5,164.6 307.0,164.6 307.4,164.7 307.8,164.8 308.2,164.6 308.6,164.7 309.0,164.6 309.4,164.7 309.8,164.5 310.2,164.7 310.6,164.3 311.0,164.6 311.4,165.1 311.8,164.7 312.2,164.4 312.6,164.8 313.0,164.5 313.5,164.4 313.9,164.6 314.3,164.8 314.7,164.8 315.1,164.7 315.5,164.6 315.9,164.7 316.3,165.2 316.7,165.1 317.1,165.0 317.5,164.9 317.9,165.2 318.3,166.2 318.7,165.6 319.1,165.9 319.6,166.1 320.0,166.2 320.4,166.3 320.8,166.3 321.2,166.5 321.6,167.2 322.0,166.9 322.4,167.5 322.8,167.2 323.2,167.7 323.6,168.1 324.0,168.5 324.4,168.3 324.8,168.9 325.2,169.1 325.6,169.1 326.1,169.6 326.5,169.6 326.9,169.8 327.3,170.3 327.7,170.0 328.1,170.7 328.5,170.8 328.9,171.0 329.3,171.4 329.7,171.9 330.1,172.0 330.5,172.6 330.9,172.4 331.3,172.6 331.7,173.4 332.2,173.5 332.6,173.8 333.0,173.7 333.4,174.3 333.8,174.5 334.2,174.8 334.6,175.0 335.0,175.5 335.4,175.4 335.8,175.6 336.2,175.7 336.6,176.5 337.0,176.4 337.4,176.6 337.8,176.9 338.3,177.2 338.7,177.3 339.1,177.8 339.5,178.0 339.9,178.2 340.3,178.3 340.7,178.7 341.1,178.8 341.5,179.1 341.9,179.3 342.3,179.4 342.7,179.1 343.1,179.5 343.5,179.6 343.9,180.1 344.3,179.8 344.8,180.1 345.2,180.3 345.6,180.5 346.0,180.9 346.4,180.7 346.8,181.2 347.2,180.8 347.6,180.9 348.0,181.7 348.4,181.6 348.8,181.8 349.2,181.9 349.6,182.1 350.0,181.9 350.4,182.5 350.9,182.3 351.3,182.8 351.7,182.7 352.1,182.4 352.5,182.7 352.9,183.3 353.3,183.2 353.7,183.3 354.1,183.5 354.5,183.5 354.9,183.6 355.3,183.9 355.7,184.0 356.1,184.4 356.5,184.3 357.0,184.8 357.4,184.9 357.8,185.0 358.2,185.0 358.6,184.9 359.0,185.0 359.4,185.1 359.8,185.1 360.2,185.4 360.6,185.4 361.0,186.0 361.4,185.9 361.8,185.8 362.2,185.6 362.6,186.1 363.0,186.2 363.5,186.2 363.9,186.3 364.3,186.2 364.7,186.9 365.1,186.9 365.5,187.5 365.9,187.0 366.3,187.1" fill="none" stroke="#1d5a9a" stroke-width="1.25" stroke-linejoin="round" />
<path d="M285.0,165.7 285.3,165.3 285.7,165.3 286.0,165.2 286.4,165.1 286.7,165.7 287.0,165.6 287.4,165.8 287.7,165.2 288.0,165.3 288.4,165.0 288.7,165.5 289.1,164.8 289.4,165.4 289.7,165.6 290.1,165.6 290.4,164.9 290.8,165.5 291.1,165.0 291.4,165.0 291.8,164.8 292.1,165.5 292.5,165.7 292.8,165.0 293.1,164.9 293.5,165.1 293.8,165.9 294.1,165.5 294.5,165.0 294.8,164.6 295.2,164.9 295.5,165.5 295.8,165.7 296.2,165.0 296.5,164.9 296.9,165.0 297.2,164.5 297.5,165.4 297.9,164.8 298.2,165.4 298.6,164.6 298.9,164.7 299.2,165.2 299.6,164.8 299.9,165.3 300.2,165.1 300.6,164.7 300.9,165.2 301.3,165.3 301.6,164.5 301.9,165.6 302.3,165.2 302.6,165.3 303.0,164.5 303.3,164.8 303.6,165.0 304.0,165.5 304.3,164.9 304.6,165.2 305.0,165.1 305.3,166.0 305.7,166.4 306.0,166.1 306.3,166.8 306.7,167.5 307.0,168.3 307.4,168.6 307.7,169.0 308.0,169.6 308.4,170.6 308.7,171.7 309.1,173.0 309.4,174.1 309.7,175.7 310.1,176.4 310.4,177.2 310.7,179.2 311.1,180.3 311.4,181.5 311.8,182.6 312.1,183.8 312.4,185.5 312.8,187.5 313.1,188.3 313.5,189.4 313.8,191.1 314.1,192.3 314.5,193.6 314.8,194.6 315.1,195.8 315.5,196.0 315.8,197.3 316.2,197.4 316.5,198.5 316.8,198.8 317.2,199.2 317.5,199.8 317.9,199.9 318.2,200.6 318.5,201.0 318.9,201.1 319.2,201.3 319.6,201.7 319.9,202.1 320.2,202.5 320.6,202.9 320.9,204.0 321.2,203.6 321.6,203.8 321.9,203.5 322.3,203.7 322.6,204.0 322.9,204.3 323.3,204.1 323.6,205.1 324.0,204.6 324.3,205.3 324.6,204.4 325.0,205.3 325.3,205.5 325.6,205.7 326.0,206.0 326.3,206.0 326.7,206.2 327.0,205.7 327.3,206.3 327.7,205.9 328.0,207.0 328.4,207.1 328.7,207.1 329.0,207.0 329.4,207.2 329.7,208.1 330.1,208.2 330.4,207.8 330.7,208.3 331.1,207.5 331.4,207.6 331.7,208.1 332.1,208.1 332.4,208.3 332.8,208.7 333.1,209.7 333.4,208.7 333.8,209.0 334.1,209.2 334.5,209.2 334.8,209.6 335.1,210.0 335.5,209.2 335.8,209.8 336.2,209.8 336.5,210.1 336.8,209.6 337.2,209.7 337.5,209.6 337.8,210.6 338.2,210.6 338.5,210.7 338.9,210.1 339.2,210.8 339.5,210.8 339.9,210.8 340.2,211.0 340.6,211.6 340.9,211.7 341.2,211.6 341.6,211.9 341.9,211.7 342.2,212.0 342.6,212.1 342.9,212.3 343.3,212.2 343.6,212.3 343.9,212.4 344.3,212.4 344.6,213.4 345.0,212.9 345.3,213.0 345.6,213.7 346.0,213.5 346.3,212.7 346.7,213.5 347.0,213.7 347.3,214.1 347.7,214.0 348.0,214.0 348.3,213.5 348.7,213.7 349.0,214.1 349.4,214.3 349.7,214.0 350.0,214.3 350.4,214.4 350.7,214.6 351.1,214.8 351.4,214.7 351.7,214.5 352.1,215.4 352.4,215.6 352.8,215.2 353.1,215.6 353.4,215.6 353.8,215.8 354.1,215.8 354.4,215.6 354.8,216.1 355.1,216.3 355.5,215.9 355.8,216.9 356.1,217.0 356.5,217.0 356.8,217.2 357.2,217.0 357.5,216.7 357.8,216.8 358.2,216.8 358.5,217.2 358.8,217.3 359.2,217.6 359.5,216.9 359.9,218.4 360.2,218.5 360.5,217.9 360.9,218.2 361.2,218.3 361.6,218.3 361.9,218.3 362.2,218.5 362.6,218.4 362.9,218.8 363.3,218.8 363.6,219.1 363.9,218.8 364.3,219.2 364.6,219.3 364.9,219.6 365.3,219.2 365.6,219.7 366.0,220.0 366.3,219.9" fill="none" stroke="#d3163a" stroke-width="1.25" stroke-linejoin="round" />
<line x1="292.50" y1="164.70" x2="292.50" y2="154.80" stroke="#1d5a9a" stroke-width="1.5"/>
<rect x="285.00" y="153.80" width="81.30" height="90.00" fill="none" stroke="#231f20" stroke-width="1.35"/>
<line x1="293.80" y1="243.80" x2="293.80" y2="246.30" stroke="#231f20" stroke-width="0.9"/>
<text x="293.80" y="256.17" font-size="8.25" text-anchor="middle" fill="#231f20" textLength="4.34" lengthAdjust="spacingAndGlyphs" >0</text>
<line x1="310.00" y1="243.80" x2="310.00" y2="246.30" stroke="#231f20" stroke-width="0.9"/>
<text x="310.00" y="256.17" font-size="8.25" text-anchor="middle" fill="#231f20" textLength="4.34" lengthAdjust="spacingAndGlyphs" >1</text>
<line x1="325.80" y1="243.80" x2="325.80" y2="246.30" stroke="#231f20" stroke-width="0.9"/>
<text x="325.80" y="256.17" font-size="8.25" text-anchor="middle" fill="#231f20" textLength="4.34" lengthAdjust="spacingAndGlyphs" >2</text>
<line x1="342.00" y1="243.80" x2="342.00" y2="246.30" stroke="#231f20" stroke-width="0.9"/>
<text x="342.00" y="256.17" font-size="8.25" text-anchor="middle" fill="#231f20" textLength="4.34" lengthAdjust="spacingAndGlyphs" >3</text>
<line x1="358.00" y1="243.80" x2="358.00" y2="246.30" stroke="#231f20" stroke-width="0.9"/>
<text x="358.00" y="256.17" font-size="8.25" text-anchor="middle" fill="#231f20" textLength="4.34" lengthAdjust="spacingAndGlyphs" >4</text>
<text x="325.80" y="267.59" font-size="8.58" text-anchor="middle" fill="#231f20" textLength="37" lengthAdjust="spacingAndGlyphs" >Time (min)</text>
<text x="275.00" y="203.09" font-size="8.58" text-anchor="middle" fill="#231f20" textLength="49" lengthAdjust="spacingAndGlyphs" transform="rotate(-90 275.00 200.00)" >% Aggregation</text>
<line x1="369.70" y1="213.50" x2="369.70" y2="234.40" stroke="#231f20" stroke-width="1.1"/>
<line x1="367.90" y1="213.50" x2="371.50" y2="213.50" stroke="#231f20" stroke-width="1.1"/>
<line x1="367.90" y1="234.40" x2="371.50" y2="234.40" stroke="#231f20" stroke-width="1.1"/>
<text x="378.20" y="224.19" font-size="8.58" text-anchor="middle" fill="#231f20" textLength="39" lengthAdjust="spacingAndGlyphs" transform="rotate(-90 378.20 221.10)" >1nmole ATP</text>
<line x1="298.50" y1="202.30" x2="310.13" y2="192.57" stroke="#231f20" stroke-width="0.95"/>
<path d="M313.20,190.00 L311.42,194.10 L308.85,191.03 Z" fill="#231f20"/>
<line x1="299.30" y1="212.90" x2="306.70" y2="222.80" stroke="#231f20" stroke-width="0.95"/>
<path d="M309.10,226.00 L305.10,224.00 L308.31,221.60 Z" fill="#231f20"/>
<text x="287.50" y="211.81" font-size="8.36" text-anchor="start" fill="#231f20" textLength="31" lengthAdjust="spacingAndGlyphs" >ERp46<tspan font-size="72%" dx="0.4" dy="-0.56em" style="stroke-width:0.1px">fl/fl</tspan><tspan dy="0.403em">​</tspan></text>
<text x="364.50" y="164.31" font-size="8.36" text-anchor="end" fill="#231f20" textLength="37" lengthAdjust="spacingAndGlyphs" >ERp46-null</text>
<line x1="414.30" y1="159.50" x2="414.30" y2="244.30" stroke="#231f20" stroke-width="1"/>
<line x1="411.30" y1="244.30" x2="414.30" y2="244.30" stroke="#231f20" stroke-width="1"/>
<text x="409.70" y="246.67" font-size="8.25" text-anchor="end" fill="#231f20" textLength="4.34" lengthAdjust="spacingAndGlyphs" >0</text>
<line x1="411.30" y1="224.05" x2="414.30" y2="224.05" stroke="#231f20" stroke-width="1"/>
<text x="409.70" y="226.42" font-size="8.25" text-anchor="end" fill="#231f20" textLength="8.68" lengthAdjust="spacingAndGlyphs" >20</text>
<line x1="411.30" y1="203.80" x2="414.30" y2="203.80" stroke="#231f20" stroke-width="1"/>
<text x="409.70" y="206.17" font-size="8.25" text-anchor="end" fill="#231f20" textLength="8.68" lengthAdjust="spacingAndGlyphs" >40</text>
<line x1="411.30" y1="183.55" x2="414.30" y2="183.55" stroke="#231f20" stroke-width="1"/>
<text x="409.70" y="185.92" font-size="8.25" text-anchor="end" fill="#231f20" textLength="8.68" lengthAdjust="spacingAndGlyphs" >60</text>
<line x1="411.30" y1="163.30" x2="414.30" y2="163.30" stroke="#231f20" stroke-width="1"/>
<text x="409.70" y="165.67" font-size="8.25" text-anchor="end" fill="#231f20" textLength="8.68" lengthAdjust="spacingAndGlyphs" >80</text>
<line x1="414.30" y1="244.30" x2="447.50" y2="244.30" stroke="#231f20" stroke-width="1"/>
<line x1="422.20" y1="244.30" x2="422.20" y2="247.30" stroke="#231f20" stroke-width="1"/>
<line x1="438.40" y1="244.30" x2="438.40" y2="247.30" stroke="#231f20" stroke-width="1"/>
<rect x="417.30" y="183.55" width="9.90" height="60.75" fill="#e0808f" stroke="#d96b80" stroke-width="0.5"/>
<rect x="433.30" y="222.03" width="10.20" height="22.28" fill="#87a6c4" stroke="#7096b9" stroke-width="0.5"/>
<line x1="422.20" y1="178.49" x2="422.20" y2="188.61" stroke="#c8102e" stroke-width="0.9"/>
<line x1="419.20" y1="178.49" x2="425.20" y2="178.49" stroke="#c8102e" stroke-width="0.9"/>
<line x1="419.20" y1="188.61" x2="425.20" y2="188.61" stroke="#c8102e" stroke-width="0.9"/>
<line x1="438.40" y1="217.98" x2="438.40" y2="226.08" stroke="#0b4a8a" stroke-width="0.9"/>
<line x1="435.40" y1="217.98" x2="441.40" y2="217.98" stroke="#0b4a8a" stroke-width="0.9"/>
<line x1="435.40" y1="226.08" x2="441.40" y2="226.08" stroke="#0b4a8a" stroke-width="0.9"/>
<circle cx="422.50" cy="164.40" r="1.25" fill="#c8102e"/>
<circle cx="422.50" cy="173.10" r="1.25" fill="#c8102e"/>
<circle cx="419.20" cy="185.00" r="1.25" fill="#c8102e"/>
<circle cx="422.80" cy="187.80" r="1.25" fill="#c8102e"/>
<circle cx="419.20" cy="193.30" r="1.25" fill="#c8102e"/>
<circle cx="425.80" cy="193.30" r="1.25" fill="#c8102e"/>
<rect x="437.20" y="207.20" width="2.40" height="2.40" fill="#0b4a8a"/>
<rect x="437.20" y="210.60" width="2.40" height="2.40" fill="#0b4a8a"/>
<rect x="440.50" y="219.20" width="2.40" height="2.40" fill="#0b4a8a"/>
<rect x="437.20" y="221.00" width="2.40" height="2.40" fill="#0b4a8a"/>
<rect x="433.30" y="232.20" width="2.40" height="2.40" fill="#0b4a8a"/>
<rect x="440.50" y="231.50" width="2.40" height="2.40" fill="#0b4a8a"/>
<line x1="420.00" y1="160.20" x2="438.80" y2="160.20" stroke="#3a3a3a" stroke-width="1.15"/>
<text x="429.40" y="160.57" font-size="8.25" text-anchor="middle" fill="#231f20" textLength="9.11" lengthAdjust="spacingAndGlyphs" >***</text>
<text x="393.60" y="206.39" font-size="8.58" text-anchor="middle" fill="#231f20" textLength="49" lengthAdjust="spacingAndGlyphs" transform="rotate(-90 393.60 203.30)" >% Aggregation</text>
<text x="423.70" y="254.69" font-size="8.03" text-anchor="end" fill="#231f20" textLength="32.5" lengthAdjust="spacingAndGlyphs" transform="rotate(-45 423.70 251.80)" >ERp46<tspan font-size="72%" dx="0.4" dy="-0.56em" style="stroke-width:0.1px">fl/fl</tspan><tspan dy="0.403em">​</tspan></text>
<text x="439.90" y="254.69" font-size="8.03" text-anchor="end" fill="#231f20" textLength="30" lengthAdjust="spacingAndGlyphs" transform="rotate(-45 439.90 251.80)" >Pf4-Cre/</text>
<text x="445.98" y="260.77" font-size="8.03" text-anchor="end" fill="#231f20" textLength="32.5" lengthAdjust="spacingAndGlyphs" transform="rotate(-45 445.98 257.88)" >ERp46<tspan font-size="72%" dx="0.4" dy="-0.56em" style="stroke-width:0.1px">fl/fl</tspan><tspan dy="0.403em">​</tspan></text>
<line x1="479.30" y1="159.50" x2="479.30" y2="244.30" stroke="#231f20" stroke-width="1"/>
<line x1="476.30" y1="244.30" x2="479.30" y2="244.30" stroke="#231f20" stroke-width="1"/>
<text x="474.80" y="246.67" font-size="8.25" text-anchor="end" fill="#231f20" textLength="10.84" lengthAdjust="spacingAndGlyphs" >0.0</text>
<line x1="476.30" y1="217.47" x2="479.30" y2="217.47" stroke="#231f20" stroke-width="1"/>
<text x="474.80" y="219.84" font-size="8.25" text-anchor="end" fill="#231f20" textLength="10.84" lengthAdjust="spacingAndGlyphs" >0.5</text>
<line x1="476.30" y1="190.63" x2="479.30" y2="190.63" stroke="#231f20" stroke-width="1"/>
<text x="474.80" y="193.00" font-size="8.25" text-anchor="end" fill="#231f20" textLength="10.84" lengthAdjust="spacingAndGlyphs" >1.0</text>
<line x1="476.30" y1="163.80" x2="479.30" y2="163.80" stroke="#231f20" stroke-width="1"/>
<text x="474.80" y="166.17" font-size="8.25" text-anchor="end" fill="#231f20" textLength="10.84" lengthAdjust="spacingAndGlyphs" >1.5</text>
<line x1="479.30" y1="244.30" x2="513.80" y2="244.30" stroke="#231f20" stroke-width="1"/>
<line x1="487.20" y1="244.30" x2="487.20" y2="247.30" stroke="#231f20" stroke-width="1"/>
<line x1="503.50" y1="244.30" x2="503.50" y2="247.30" stroke="#231f20" stroke-width="1"/>
<rect x="482.30" y="198.15" width="9.90" height="46.15" fill="#e0808f" stroke="#d96b80" stroke-width="0.5"/>
<rect x="498.60" y="236.79" width="9.90" height="7.51" fill="#87a6c4" stroke="#7096b9" stroke-width="0.5"/>
<line x1="487.20" y1="193.85" x2="487.20" y2="201.90" stroke="#c8102e" stroke-width="0.9"/>
<line x1="484.20" y1="193.85" x2="490.20" y2="193.85" stroke="#c8102e" stroke-width="0.9"/>
<line x1="484.20" y1="201.90" x2="490.20" y2="201.90" stroke="#c8102e" stroke-width="0.9"/>
<line x1="503.50" y1="233.57" x2="503.50" y2="239.47" stroke="#0b4a8a" stroke-width="0.9"/>
<line x1="500.50" y1="233.57" x2="506.50" y2="233.57" stroke="#0b4a8a" stroke-width="0.9"/>
<line x1="500.50" y1="239.47" x2="506.50" y2="239.47" stroke="#0b4a8a" stroke-width="0.9"/>
<circle cx="487.60" cy="184.60" r="1.25" fill="#c8102e"/>
<circle cx="487.60" cy="190.40" r="1.25" fill="#c8102e"/>
<circle cx="490.50" cy="195.90" r="1.25" fill="#c8102e"/>
<circle cx="487.60" cy="197.60" r="1.25" fill="#c8102e"/>
<circle cx="487.60" cy="204.10" r="1.25" fill="#c8102e"/>
<circle cx="487.60" cy="211.80" r="1.25" fill="#c8102e"/>
<rect x="502.20" y="225.00" width="2.40" height="2.40" fill="#0b4a8a"/>
<rect x="502.20" y="231.80" width="2.40" height="2.40" fill="#0b4a8a"/>
<rect x="498.30" y="236.10" width="2.40" height="2.40" fill="#0b4a8a"/>
<rect x="505.80" y="236.10" width="2.40" height="2.40" fill="#0b4a8a"/>
<rect x="502.20" y="241.20" width="2.40" height="2.40" fill="#0b4a8a"/>
<line x1="486.30" y1="178.00" x2="505.00" y2="178.00" stroke="#3a3a3a" stroke-width="1.15"/>
<text x="495.65" y="178.37" font-size="8.25" text-anchor="middle" fill="#231f20" textLength="12.14" lengthAdjust="spacingAndGlyphs" >****</text>
<text x="455.90" y="201.89" font-size="8.58" text-anchor="middle" fill="#231f20" textLength="76" lengthAdjust="spacingAndGlyphs" transform="rotate(-90 455.90 198.80)" >ATP secretion (nmoles)</text>
<text x="488.70" y="254.69" font-size="8.03" text-anchor="end" fill="#231f20" textLength="32.5" lengthAdjust="spacingAndGlyphs" transform="rotate(-45 488.70 251.80)" >ERp46<tspan font-size="72%" dx="0.4" dy="-0.56em" style="stroke-width:0.1px">fl/fl</tspan><tspan dy="0.403em">​</tspan></text>
<text x="505.00" y="254.69" font-size="8.03" text-anchor="end" fill="#231f20" textLength="30" lengthAdjust="spacingAndGlyphs" transform="rotate(-45 505.00 251.80)" >Pf4-Cre/</text>
<text x="511.08" y="260.77" font-size="8.03" text-anchor="end" fill="#231f20" textLength="32.5" lengthAdjust="spacingAndGlyphs" transform="rotate(-45 511.08 257.88)" >ERp46<tspan font-size="72%" dx="0.4" dy="-0.56em" style="stroke-width:0.1px">fl/fl</tspan><tspan dy="0.403em">​</tspan></text>
<text x="7.50" y="300.62" font-size="12.0" text-anchor="start" fill="#000" font-weight="bold" >E</text>
<text x="74.40" y="299.55" font-size="9.02" text-anchor="middle" fill="#231f20" textLength="51" lengthAdjust="spacingAndGlyphs" >ADP (3.5 µM)</text>
<path d="M30.0,382.4 30.6,382.6 31.2,382.3 31.8,382.6 32.3,382.5 32.9,382.5 33.5,382.7 34.1,382.3 34.7,382.3 35.3,382.4 35.9,382.5 36.5,382.2 37.0,382.5 37.6,382.5 38.2,383.4 38.8,384.3 39.4,384.3 40.0,383.7 40.6,382.9 41.1,382.1 41.7,382.6 42.3,382.6 42.9,382.5 43.5,382.4 44.1,382.4 44.7,382.4 45.3,382.6 45.8,382.4 46.4,382.6 47.0,382.1 47.6,382.4 48.2,382.5 48.8,382.4 49.4,382.2 49.9,382.3 50.5,382.6 51.1,382.2 51.7,382.3 52.3,382.2 52.9,382.3 53.5,382.5 54.1,382.5 54.6,382.1 55.2,382.6 55.8,382.3 56.4,382.3 57.0,382.6 57.6,382.4 58.2,382.2 58.7,382.3 59.3,382.3 59.9,382.2 60.5,382.3 61.1,382.5 61.7,382.4 62.3,382.2 62.9,382.8 63.4,382.2 64.0,382.4 64.6,382.4 65.2,382.5 65.8,382.3 66.4,382.4 67.0,382.7 67.5,382.4 68.1,382.2 68.7,382.4 69.3,382.3 69.9,382.3 70.5,382.4 71.1,382.4 71.7,382.3 72.2,382.5 72.8,382.3 73.4,382.2 74.0,382.5 74.6,382.3 75.2,382.6 75.8,382.3 76.3,382.5 76.9,382.4 77.5,382.0 78.1,382.2 78.7,382.2 79.3,382.6 79.9,382.1 80.5,382.5 81.0,382.5 81.6,382.5 82.2,382.5 82.8,382.3 83.4,382.4 84.0,382.4 84.6,382.5 85.1,382.5 85.7,382.4 86.3,382.3 86.9,382.3 87.5,382.5 88.1,382.2 88.7,382.2 89.3,382.4 89.8,382.3 90.4,382.4 91.0,382.0 91.6,382.4 92.2,382.4 92.8,382.5 93.4,382.2 93.9,382.4 94.5,382.5 95.1,382.5 95.7,382.6 96.3,382.6 96.9,382.3 97.5,382.5 98.1,382.4 98.6,382.3 99.2,382.7 99.8,382.4 100.4,382.3 101.0,382.4 101.6,382.3 102.2,382.6 102.7,382.5 103.3,382.7 103.9,382.5 104.5,382.4 105.1,382.6 105.7,382.4 106.3,382.4 106.9,382.5 107.4,382.5 108.0,382.7 108.6,382.4 109.2,382.5 109.8,382.5 110.4,382.3 111.0,382.3 111.5,382.5 112.1,382.6 112.7,382.5 113.3,382.6 113.9,382.5 114.5,382.4 115.1,382.6 115.7,382.4 116.2,382.3 116.8,382.5 117.4,382.3 118.0,382.4" fill="none" stroke="#d3163a" stroke-width="1.1" stroke-linejoin="round" />
<path d="M30.0,313.5 30.4,313.1 30.9,313.1 31.3,312.8 31.8,313.2 32.2,313.5 32.6,313.5 33.1,312.5 33.5,313.4 34.0,313.6 34.4,313.4 34.8,312.7 35.3,313.1 35.7,313.4 36.2,313.3 36.6,312.9 37.0,312.9 37.5,313.4 37.9,312.7 38.4,313.4 38.8,312.5 39.2,311.4 39.7,310.0 40.1,310.5 40.6,311.7 41.0,312.3 41.4,314.8 41.9,315.4 42.3,317.0 42.8,318.9 43.2,320.6 43.6,322.2 44.1,323.6 44.5,325.2 45.0,326.8 45.4,327.5 45.8,327.8 46.3,329.6 46.7,330.2 47.2,331.0 47.6,331.6 48.0,332.6 48.5,333.3 48.9,333.9 49.4,335.0 49.8,334.7 50.2,335.8 50.7,335.8 51.1,336.3 51.6,337.2 52.0,336.7 52.4,337.3 52.9,337.4 53.3,338.1 53.8,337.7 54.2,337.8 54.6,338.6 55.1,338.5 55.5,338.8 56.0,339.4 56.4,339.0 56.8,339.3 57.3,339.6 57.7,339.8 58.2,339.6 58.6,340.2 59.0,340.6 59.5,340.0 59.9,340.7 60.4,339.6 60.8,340.8 61.2,340.3 61.7,340.6 62.1,340.5 62.6,340.5 63.0,340.4 63.4,340.7 63.9,341.3 64.3,341.3 64.8,341.0 65.2,341.0 65.6,341.0 66.1,340.9 66.5,341.9 67.0,341.6 67.4,341.5 67.8,341.4 68.3,341.3 68.7,342.0 69.2,341.9 69.6,341.5 70.0,342.1 70.5,341.5 70.9,342.0 71.4,341.6 71.8,341.7 72.2,342.0 72.7,342.0 73.1,342.2 73.6,341.7 74.0,342.4 74.4,342.3 74.9,341.9 75.3,342.1 75.8,341.7 76.2,341.9 76.6,341.6 77.1,342.0 77.5,342.1 78.0,342.4 78.4,342.3 78.8,342.3 79.3,341.9 79.7,342.0 80.2,342.0 80.6,342.1 81.0,341.5 81.5,342.3 81.9,341.6 82.4,341.9 82.8,342.1 83.2,342.0 83.7,342.6 84.1,342.1 84.6,342.6 85.0,342.5 85.4,342.0 85.9,342.3 86.3,342.5 86.8,342.1 87.2,342.2 87.6,342.0 88.1,342.2 88.5,342.1 89.0,342.2 89.4,342.5 89.8,342.6 90.3,342.2 90.7,342.3 91.2,342.5 91.6,342.1 92.0,341.9 92.5,342.6 92.9,342.0 93.4,342.5 93.8,342.0 94.2,342.8 94.7,342.0 95.1,342.5 95.6,342.7 96.0,342.0 96.4,342.7 96.9,342.0 97.3,341.8 97.8,342.5 98.2,342.5 98.6,342.2 99.1,341.6 99.5,342.3 100.0,342.2 100.4,342.2 100.8,342.2 101.3,341.8 101.7,342.2 102.2,342.8 102.6,342.8 103.0,342.2 103.5,342.1 103.9,342.5 104.4,342.7 104.8,342.6 105.2,342.0 105.7,342.4 106.1,342.4 106.6,342.8 107.0,342.7 107.4,342.5 107.9,342.7 108.3,342.3 108.8,342.8 109.2,342.3 109.6,342.5 110.1,342.7 110.5,342.1 111.0,342.2 111.4,341.9 111.8,342.5 112.3,342.4 112.7,342.3 113.2,342.6 113.6,341.8 114.0,342.4 114.5,342.5 114.9,342.4 115.4,342.7 115.8,343.0 116.2,342.3 116.7,342.2 117.1,342.3 117.6,342.5 118.0,342.7" fill="none" stroke="#d3163a" stroke-width="1.1" stroke-linejoin="round" />
<path d="M30.0,312.6 30.4,312.6 30.9,312.4 31.3,312.1 31.8,312.8 32.2,312.8 32.6,312.6 33.1,312.6 33.5,313.3 34.0,312.4 34.4,313.6 34.8,313.3 35.3,313.8 35.7,312.9 36.2,313.1 36.6,312.9 37.0,313.0 37.5,312.8 37.9,312.4 38.4,312.5 38.8,307.3 39.2,304.3 39.7,307.0 40.1,310.4 40.6,311.3 41.0,311.9 41.4,312.1 41.9,312.2 42.3,312.9 42.8,313.3 43.2,314.2 43.6,313.7 44.1,314.6 44.5,314.4 45.0,314.9 45.4,315.2 45.8,315.7 46.3,316.2 46.7,316.8 47.2,316.4 47.6,317.2 48.0,317.4 48.5,317.7 48.9,317.5 49.4,318.2 49.8,318.2 50.2,318.5 50.7,318.5 51.1,318.9 51.6,319.2 52.0,319.4 52.4,319.1 52.9,319.6 53.3,319.9 53.8,319.3 54.2,320.1 54.6,319.4 55.1,320.1 55.5,320.2 56.0,320.6 56.4,320.3 56.8,320.1 57.3,320.1 57.7,320.0 58.2,320.6 58.6,320.3 59.0,320.2 59.5,320.6 59.9,320.2 60.4,320.3 60.8,320.3 61.2,320.9 61.7,320.9 62.1,320.4 62.6,320.0 63.0,320.6 63.4,320.5 63.9,320.6 64.3,320.7 64.8,320.4 65.2,320.8 65.6,320.8 66.1,320.6 66.5,320.4 67.0,320.4 67.4,320.7 67.8,320.2 68.3,320.5 68.7,320.3 69.2,320.1 69.6,320.7 70.0,320.5 70.5,320.5 70.9,320.8 71.4,320.1 71.8,320.5 72.2,320.6 72.7,320.8 73.1,320.2 73.6,320.7 74.0,320.6 74.4,320.9 74.9,320.8 75.3,320.7 75.8,321.1 76.2,320.5 76.6,320.4 77.1,320.4 77.5,320.2 78.0,320.5 78.4,319.9 78.8,320.5 79.3,320.6 79.7,320.8 80.2,320.4 80.6,320.9 81.0,320.3 81.5,320.5 81.9,319.9 82.4,320.3 82.8,320.3 83.2,320.9 83.7,320.7 84.1,320.2 84.6,320.7 85.0,320.7 85.4,320.4 85.9,320.5 86.3,320.4 86.8,320.4 87.2,320.0 87.6,320.5 88.1,320.9 88.5,320.9 89.0,320.4 89.4,320.3 89.8,320.5 90.3,320.8 90.7,320.6 91.2,320.3 91.6,320.6 92.0,320.5 92.5,320.7 92.9,320.4 93.4,320.1 93.8,320.5 94.2,320.7 94.7,320.2 95.1,320.5 95.6,320.8 96.0,320.4 96.4,320.3 96.9,321.1 97.3,320.8 97.8,320.8 98.2,320.2 98.6,321.0 99.1,320.0 99.5,320.4 100.0,320.7 100.4,320.9 100.8,320.2 101.3,320.3 101.7,320.6 102.2,319.9 102.6,320.7 103.0,320.7 103.5,320.4 103.9,320.7 104.4,320.7 104.8,320.6 105.2,320.7 105.7,320.9 106.1,320.4 106.6,320.6 107.0,320.4 107.4,320.8 107.9,320.4 108.3,320.6 108.8,320.5 109.2,320.5 109.6,321.0 110.1,320.5 110.5,320.9 111.0,320.7 111.4,320.9 111.8,320.5 112.3,320.8 112.7,320.7 113.2,320.3 113.6,320.6 114.0,320.5 114.5,320.5 114.9,320.9 115.4,320.3 115.8,320.0 116.2,320.0 116.7,320.4 117.1,320.3 117.6,320.5 118.0,320.7" fill="none" stroke="#1d5a9a" stroke-width="1.1" stroke-linejoin="round" />
<rect x="30.00" y="303.80" width="88.00" height="88.70" fill="none" stroke="#231f20" stroke-width="1.35"/>
<line x1="27.00" y1="382.50" x2="30.00" y2="382.50" stroke="#231f20" stroke-width="1"/>
<text x="26.50" y="385.47" font-size="8.25" text-anchor="end" fill="#231f20" textLength="13.01" lengthAdjust="spacingAndGlyphs" >100</text>
<line x1="39.20" y1="392.50" x2="39.20" y2="395.00" stroke="#231f20" stroke-width="0.9"/>
<text x="39.20" y="405.47" font-size="8.25" text-anchor="middle" fill="#231f20" textLength="4.34" lengthAdjust="spacingAndGlyphs" >0</text>
<line x1="56.70" y1="392.50" x2="56.70" y2="395.00" stroke="#231f20" stroke-width="0.9"/>
<text x="56.70" y="405.47" font-size="8.25" text-anchor="middle" fill="#231f20" textLength="4.34" lengthAdjust="spacingAndGlyphs" >1</text>
<line x1="74.20" y1="392.50" x2="74.20" y2="395.00" stroke="#231f20" stroke-width="0.9"/>
<text x="74.20" y="405.47" font-size="8.25" text-anchor="middle" fill="#231f20" textLength="4.34" lengthAdjust="spacingAndGlyphs" >2</text>
<line x1="91.70" y1="392.50" x2="91.70" y2="395.00" stroke="#231f20" stroke-width="0.9"/>
<text x="91.70" y="405.47" font-size="8.25" text-anchor="middle" fill="#231f20" textLength="4.34" lengthAdjust="spacingAndGlyphs" >3</text>
<line x1="108.20" y1="392.50" x2="108.20" y2="395.00" stroke="#231f20" stroke-width="0.9"/>
<text x="108.20" y="405.47" font-size="8.25" text-anchor="middle" fill="#231f20" textLength="4.34" lengthAdjust="spacingAndGlyphs" >4</text>
<text x="74.20" y="415.79" font-size="8.58" text-anchor="middle" fill="#231f20" textLength="37" lengthAdjust="spacingAndGlyphs" >Time (min)</text>
<text x="12.00" y="345.59" font-size="8.58" text-anchor="middle" fill="#231f20" textLength="49" lengthAdjust="spacingAndGlyphs" transform="rotate(-90 12.00 342.50)" >% Aggregation</text>
<line x1="39.20" y1="335.00" x2="39.20" y2="318.50" stroke="#231f20" stroke-width="0.95"/>
<path d="M39.20,314.50 L41.20,318.50 L37.20,318.50 Z" fill="#231f20"/>
<text x="112.50" y="316.31" font-size="8.36" text-anchor="end" fill="#231f20" textLength="38" lengthAdjust="spacingAndGlyphs" >ERp46-null</text>
<text x="75.00" y="355.51" font-size="8.36" text-anchor="start" fill="#231f20" textLength="32" lengthAdjust="spacingAndGlyphs" >ERp46<tspan font-size="72%" dx="0.4" dy="-0.56em" style="stroke-width:0.1px">fl/fl</tspan><tspan dy="0.403em">​</tspan></text>
<line x1="147.60" y1="303.80" x2="147.60" y2="392.50" stroke="#231f20" stroke-width="1"/>
<line x1="144.60" y1="392.50" x2="147.60" y2="392.50" stroke="#231f20" stroke-width="1"/>
<text x="142.50" y="394.87" font-size="8.25" text-anchor="end" fill="#231f20" textLength="4.34" lengthAdjust="spacingAndGlyphs" >0</text>
<line x1="144.60" y1="364.00" x2="147.60" y2="364.00" stroke="#231f20" stroke-width="1"/>
<text x="142.50" y="366.37" font-size="8.25" text-anchor="end" fill="#231f20" textLength="8.68" lengthAdjust="spacingAndGlyphs" >20</text>
<line x1="144.60" y1="335.50" x2="147.60" y2="335.50" stroke="#231f20" stroke-width="1"/>
<text x="142.50" y="337.87" font-size="8.25" text-anchor="end" fill="#231f20" textLength="8.68" lengthAdjust="spacingAndGlyphs" >40</text>
<line x1="144.60" y1="307.00" x2="147.60" y2="307.00" stroke="#231f20" stroke-width="1"/>
<text x="142.50" y="309.37" font-size="8.25" text-anchor="end" fill="#231f20" textLength="8.68" lengthAdjust="spacingAndGlyphs" >60</text>
<line x1="147.60" y1="392.50" x2="182.50" y2="392.50" stroke="#231f20" stroke-width="1"/>
<line x1="156.90" y1="392.50" x2="156.90" y2="395.50" stroke="#231f20" stroke-width="1"/>
<line x1="173.10" y1="392.50" x2="173.10" y2="395.50" stroke="#231f20" stroke-width="1"/>
<rect x="151.60" y="329.80" width="10.60" height="62.70" fill="#e0808f" stroke="#d96b80" stroke-width="0.5"/>
<rect x="167.80" y="373.98" width="10.70" height="18.52" fill="#87a6c4" stroke="#7096b9" stroke-width="0.5"/>
<line x1="156.90" y1="326.24" x2="156.90" y2="333.36" stroke="#c8102e" stroke-width="0.9"/>
<line x1="153.90" y1="326.24" x2="159.90" y2="326.24" stroke="#c8102e" stroke-width="0.9"/>
<line x1="153.90" y1="333.36" x2="159.90" y2="333.36" stroke="#c8102e" stroke-width="0.9"/>
<line x1="173.10" y1="371.12" x2="173.10" y2="376.11" stroke="#0b4a8a" stroke-width="0.9"/>
<line x1="170.10" y1="371.12" x2="176.10" y2="371.12" stroke="#0b4a8a" stroke-width="0.9"/>
<line x1="170.10" y1="376.11" x2="176.10" y2="376.11" stroke="#0b4a8a" stroke-width="0.9"/>
<circle cx="156.90" cy="318.50" r="1.25" fill="#c8102e"/>
<circle cx="154.50" cy="325.50" r="1.25" fill="#c8102e"/>
<circle cx="159.00" cy="326.50" r="1.25" fill="#c8102e"/>
<circle cx="155.50" cy="333.00" r="1.25" fill="#c8102e"/>
<circle cx="158.50" cy="335.50" r="1.25" fill="#c8102e"/>
<rect x="171.90" y="365.80" width="2.40" height="2.40" fill="#0b4a8a"/>
<rect x="171.90" y="369.30" width="2.40" height="2.40" fill="#0b4a8a"/>
<rect x="168.30" y="373.30" width="2.40" height="2.40" fill="#0b4a8a"/>
<rect x="175.30" y="373.80" width="2.40" height="2.40" fill="#0b4a8a"/>
<rect x="171.90" y="376.80" width="2.40" height="2.40" fill="#0b4a8a"/>
<rect x="168.80" y="374.30" width="2.40" height="2.40" fill="#0b4a8a"/>
<line x1="153.80" y1="314.30" x2="172.50" y2="314.30" stroke="#3a3a3a" stroke-width="1.15"/>
<text x="163.15" y="314.67" font-size="8.25" text-anchor="middle" fill="#231f20" textLength="9.11" lengthAdjust="spacingAndGlyphs" >***</text>
<text x="126.20" y="353.09" font-size="8.58" text-anchor="middle" fill="#231f20" textLength="49.5" lengthAdjust="spacingAndGlyphs" transform="rotate(-90 126.20 350.00)" >% Aggregation</text>
<text x="158.40" y="402.89" font-size="8.03" text-anchor="end" fill="#231f20" textLength="32.5" lengthAdjust="spacingAndGlyphs" transform="rotate(-45 158.40 400.00)" >ERp46<tspan font-size="72%" dx="0.4" dy="-0.56em" style="stroke-width:0.1px">fl/fl</tspan><tspan dy="0.403em">​</tspan></text>
<text x="174.60" y="402.89" font-size="8.03" text-anchor="end" fill="#231f20" textLength="30" lengthAdjust="spacingAndGlyphs" transform="rotate(-45 174.60 400.00)" >Pf4-Cre/</text>
<text x="180.68" y="408.97" font-size="8.03" text-anchor="end" fill="#231f20" textLength="32.5" lengthAdjust="spacingAndGlyphs" transform="rotate(-45 180.68 406.08)" >ERp46<tspan font-size="72%" dx="0.4" dy="-0.56em" style="stroke-width:0.1px">fl/fl</tspan><tspan dy="0.403em">​</tspan></text>
<text x="188.50" y="300.62" font-size="12.0" text-anchor="start" fill="#000" font-weight="bold" >F</text>
<text x="233.80" y="299.55" font-size="9.02" text-anchor="middle" fill="#231f20" textLength="57" lengthAdjust="spacingAndGlyphs" >CHAMP (3 µM)</text>
<path d="M193.8,382.5 194.3,382.5 194.8,382.8 195.3,382.5 195.8,382.6 196.3,382.5 196.8,382.5 197.3,382.6 197.8,382.6 198.3,382.7 198.8,382.5 199.3,382.5 199.8,382.8 200.3,382.6 200.8,382.7 201.3,382.7 201.8,382.7 202.2,382.6 202.7,382.4 203.2,382.4 203.7,382.7 204.2,382.7 204.7,382.7 205.2,382.4 205.7,382.4 206.2,382.5 206.7,382.5 207.2,382.6 207.7,382.5 208.2,382.8 208.7,382.5 209.2,382.5 209.7,382.7 210.2,382.6 210.7,382.5 211.2,382.7 211.7,382.7 212.2,382.1 212.7,381.8 213.2,381.3 213.7,381.1 214.2,381.4 214.7,381.7 215.2,382.2 215.7,382.5 216.2,382.4 216.7,382.6 217.2,382.5 217.7,382.5 218.1,382.5 218.6,382.7 219.1,382.6 219.6,382.8 220.1,382.6 220.6,382.4 221.1,382.7 221.6,382.7 222.1,382.6 222.6,382.5 223.1,382.8 223.6,382.5 224.1,382.6 224.6,382.4 225.1,382.5 225.6,382.4 226.1,382.7 226.6,382.7 227.1,382.6 227.6,382.5 228.1,382.6 228.6,382.6 229.1,382.5 229.6,382.5 230.1,382.6 230.6,382.7 231.1,382.6 231.6,382.6 232.1,382.5 232.6,382.4 233.1,382.6 233.6,382.5 234.0,382.6 234.5,382.6 235.0,382.6 235.5,382.5 236.0,382.7 236.5,382.6 237.0,382.7 237.5,382.7 238.0,382.7 238.5,382.6 239.0,382.4 239.5,382.5 240.0,382.8 240.5,382.6 241.0,382.7 241.5,382.6 242.0,382.5 242.5,382.5 243.0,382.5 243.5,382.7 244.0,382.6 244.5,382.8 245.0,382.6 245.5,382.8 246.0,382.6 246.5,382.5 247.0,382.8 247.5,382.6 248.0,382.7 248.5,382.6 249.0,382.6 249.5,382.6 249.9,382.5 250.4,382.5 250.9,382.5 251.4,382.5 251.9,382.5 252.4,382.6 252.9,382.6 253.4,382.8 253.9,382.8 254.4,382.6 254.9,382.7 255.4,382.6 255.9,382.6 256.4,382.6 256.9,382.5 257.4,382.6 257.9,382.5 258.4,382.6 258.9,382.6 259.4,382.5 259.9,382.6 260.4,382.7 260.9,382.5 261.4,382.6 261.9,382.7 262.4,382.8 262.9,382.5 263.4,382.6 263.9,382.7 264.4,382.7 264.9,382.6 265.4,382.7 265.8,382.5 266.3,382.5 266.8,382.8 267.3,382.6 267.8,382.8 268.3,382.5 268.8,382.6 269.3,382.4 269.8,382.7 270.3,382.6 270.8,382.8 271.3,382.6 271.8,382.6 272.3,382.5 272.8,382.6 273.3,382.7" fill="none" stroke="#1d5a9a" stroke-width="1.2" stroke-linejoin="round" />
<path d="M193.8,382.3 194.3,382.3 194.8,382.6 195.3,382.3 195.8,382.4 196.3,382.3 196.8,382.3 197.3,382.4 197.8,382.4 198.3,382.5 198.8,382.3 199.3,382.3 199.8,382.6 200.3,382.4 200.8,382.5 201.3,382.5 201.8,382.5 202.2,382.4 202.7,382.2 203.2,382.2 203.7,382.5 204.2,382.5 204.7,382.5 205.2,382.2 205.7,382.2 206.2,382.3 206.7,382.3 207.2,382.4 207.7,382.3 208.2,382.6 208.7,382.3 209.2,382.3 209.7,382.5 210.2,382.4 210.7,382.3 211.2,382.5 211.7,382.5 212.2,381.9 212.7,381.6 213.2,381.1 213.7,380.9 214.2,381.2 214.7,381.5 215.2,382.0 215.7,382.3 216.2,382.2 216.7,382.4 217.2,382.3 217.7,382.3 218.1,382.3 218.6,382.5 219.1,382.4 219.6,382.6 220.1,382.4 220.6,382.2 221.1,382.5 221.6,382.5 222.1,382.4 222.6,382.3 223.1,382.6 223.6,382.3 224.1,382.4 224.6,382.2 225.1,382.3 225.6,382.2 226.1,382.5 226.6,382.5 227.1,382.4 227.6,382.3 228.1,382.4 228.6,382.4 229.1,382.3 229.6,382.3 230.1,382.4 230.6,382.5 231.1,382.4 231.6,382.4 232.1,382.3 232.6,382.2 233.1,382.4 233.6,382.3 234.0,382.4 234.5,382.4 235.0,382.4 235.5,382.3 236.0,382.5 236.5,382.4 237.0,382.5 237.5,382.5 238.0,382.5 238.5,382.4 239.0,382.2 239.5,382.3 240.0,382.6 240.5,382.4 241.0,382.5 241.5,382.4 242.0,382.3 242.5,382.3 243.0,382.3 243.5,382.5 244.0,382.4 244.5,382.6 245.0,382.4 245.5,382.6 246.0,382.4 246.5,382.3 247.0,382.6 247.5,382.4 248.0,382.5 248.5,382.4 249.0,382.4 249.5,382.4 249.9,382.3 250.4,382.3 250.9,382.3 251.4,382.3 251.9,382.3 252.4,382.4 252.9,382.4 253.4,382.6 253.9,382.6 254.4,382.4 254.9,382.5 255.4,382.4 255.9,382.4 256.4,382.4 256.9,382.3 257.4,382.4 257.9,382.3 258.4,382.4 258.9,382.4 259.4,382.3 259.9,382.4 260.4,382.5 260.9,382.3 261.4,382.4 261.9,382.5 262.4,382.6 262.9,382.3 263.4,382.4 263.9,382.5 264.4,382.5 264.9,382.4 265.4,382.5 265.8,382.3 266.3,382.3 266.8,382.6 267.3,382.4 267.8,382.6 268.3,382.3 268.8,382.4 269.3,382.2 269.8,382.5 270.3,382.4 270.8,382.6 271.3,382.4 271.8,382.4 272.3,382.3 272.8,382.4 273.3,382.5" fill="none" stroke="#d3163a" stroke-width="1.25" stroke-linejoin="round" />
<path d="M195.8,382.6 L195.8,315 Q195.8,313 197.5,313" fill="none" stroke="#1d5a9a" stroke-width="1.3"/>
<path d="M195.8,312.8 196.1,312.9 196.4,313.0 196.8,312.8 197.1,312.9 197.4,312.6 197.7,313.0 198.1,312.8 198.4,313.1 198.7,312.3 199.0,312.8 199.4,313.1 199.7,312.4 200.0,312.9 200.3,313.0 200.6,313.0 201.0,312.6 201.3,313.1 201.6,313.0 201.9,312.8 202.3,313.2 202.6,313.0 202.9,313.0 203.2,312.9 203.6,313.1 203.9,313.0 204.2,313.3 204.5,313.1 204.8,312.8 205.2,312.9 205.5,313.2 205.8,312.9 206.1,313.1 206.5,313.1 206.8,312.9 207.1,312.4 207.4,312.9 207.7,313.0 208.1,312.9 208.4,312.7 208.7,313.2 209.0,312.8 209.4,312.7 209.7,312.7 210.0,312.9 210.3,312.4 210.7,311.7 211.0,311.0 211.3,310.1 211.6,310.6 211.9,312.2 212.3,313.1 212.6,313.3 212.9,314.7 213.2,315.3 213.6,315.8 213.9,315.9 214.2,317.3 214.5,318.0 214.9,318.2 215.2,319.0 215.5,319.8 215.8,320.3 216.1,321.2 216.5,321.4 216.8,321.8 217.1,321.8 217.4,321.6 217.8,321.8 218.1,323.0 218.4,322.4 218.7,322.8 219.1,322.9 219.4,323.2 219.7,323.1 220.0,322.9 220.3,323.2 220.7,322.9 221.0,323.4 221.3,323.8 221.6,323.1 222.0,323.8 222.3,324.0 222.6,324.2 222.9,323.7 223.2,323.9 223.6,323.7 223.9,323.9 224.2,324.4 224.5,324.9 224.9,324.2 225.2,324.8 225.5,324.7 225.8,324.5 226.2,325.3 226.5,324.2 226.8,324.8 227.1,324.9 227.4,325.4 227.8,325.4 228.1,325.5 228.4,325.0 228.7,325.3 229.1,325.4 229.4,325.2 229.7,325.2 230.0,325.1 230.4,325.1 230.7,324.9 231.0,325.7 231.3,325.2 231.6,324.8 232.0,325.4 232.3,325.4 232.6,325.5 232.9,325.9 233.3,325.4 233.6,325.4 233.9,325.4 234.2,325.6 234.6,325.5 234.9,325.7 235.2,326.4 235.5,325.8 235.8,325.5 236.2,326.2 236.5,326.0 236.8,326.0 237.1,326.0 237.5,326.1 237.8,326.1 238.1,326.3 238.4,326.2 238.7,326.3 239.1,325.9 239.4,326.1 239.7,325.9 240.0,326.4 240.4,326.3 240.7,326.0 241.0,326.3 241.3,326.8 241.7,326.5 242.0,325.9 242.3,326.2 242.6,326.4 242.9,326.3 243.3,326.4 243.6,326.6 243.9,326.4 244.2,326.1 244.6,326.5 244.9,326.3 245.2,326.4 245.5,326.3 245.9,326.1 246.2,326.1 246.5,326.4 246.8,326.2 247.1,325.8 247.5,326.8 247.8,326.2 248.1,326.4 248.4,326.7 248.8,326.0 249.1,326.9 249.4,326.4 249.7,326.8 250.1,326.5 250.4,326.7 250.7,326.7 251.0,326.7 251.3,326.2 251.7,326.4 252.0,326.7 252.3,327.1 252.6,326.6 253.0,326.9 253.3,326.8 253.6,326.9 253.9,327.1 254.2,326.5 254.6,326.9 254.9,326.8 255.2,326.8 255.5,326.7 255.9,326.7 256.2,326.7 256.5,326.7 256.8,327.6 257.2,327.4 257.5,327.0 257.8,327.2 258.1,326.8 258.4,326.4 258.8,326.6 259.1,327.1 259.4,327.5 259.7,327.1 260.1,326.9 260.4,327.1 260.7,326.9 261.0,326.8 261.4,327.1 261.7,327.1 262.0,327.0 262.3,327.0 262.6,327.0 263.0,327.3 263.3,327.6 263.6,327.3 263.9,327.9 264.3,326.9 264.6,327.4 264.9,327.1 265.2,327.4 265.6,327.4 265.9,327.6 266.2,327.7 266.5,327.3 266.8,327.2 267.2,327.4 267.5,327.6 267.8,327.4 268.1,327.8 268.5,328.0 268.8,327.2 269.1,327.7 269.4,327.9 269.7,327.2 270.1,327.7 270.4,327.6 270.7,327.3 271.0,328.0 271.4,327.8 271.7,327.6 272.0,327.8 272.3,327.9 272.7,328.0 273.0,327.9 273.3,327.9" fill="none" stroke="#3cb64b" stroke-width="1.25" stroke-linejoin="round" />
<path d="M195.8,312.7 196.1,312.9 196.4,313.0 196.8,312.3 197.1,313.5 197.4,312.9 197.7,312.7 198.1,312.6 198.4,313.1 198.7,313.0 199.0,312.9 199.4,312.9 199.7,312.8 200.0,312.8 200.3,313.0 200.6,312.8 201.0,313.2 201.3,313.0 201.6,313.0 201.9,313.1 202.3,313.3 202.6,313.1 202.9,313.1 203.2,313.0 203.6,312.8 203.9,312.9 204.2,313.2 204.5,313.1 204.8,312.9 205.2,312.7 205.5,312.6 205.8,313.1 206.1,313.3 206.5,313.1 206.8,312.7 207.1,312.9 207.4,313.1 207.7,312.8 208.1,313.1 208.4,313.0 208.7,312.8 209.0,312.7 209.4,313.2 209.7,313.1 210.0,312.8 210.3,312.8 210.7,313.2 211.0,313.1 211.3,312.9 211.6,313.7 211.9,313.9 212.3,314.6 212.6,316.5 212.9,317.9 213.2,319.7 213.6,321.4 213.9,322.8 214.2,324.5 214.5,326.2 214.9,327.7 215.2,328.0 215.5,329.3 215.8,329.4 216.1,329.5 216.5,330.3 216.8,330.8 217.1,330.9 217.4,331.0 217.8,332.1 218.1,332.1 218.4,332.9 218.7,332.8 219.1,333.7 219.4,333.9 219.7,334.1 220.0,334.6 220.3,334.9 220.7,334.9 221.0,334.9 221.3,335.4 221.6,335.0 222.0,335.7 222.3,335.8 222.6,336.2 222.9,336.2 223.2,336.2 223.6,336.3 223.9,336.4 224.2,336.2 224.5,337.0 224.9,336.9 225.2,336.8 225.5,336.7 225.8,337.5 226.2,337.4 226.5,337.1 226.8,337.7 227.1,338.1 227.4,337.8 227.8,338.0 228.1,337.9 228.4,337.9 228.7,338.3 229.1,338.8 229.4,338.1 229.7,338.1 230.0,338.3 230.4,338.1 230.7,338.3 231.0,338.4 231.3,337.9 231.6,338.0 232.0,338.2 232.3,338.5 232.6,338.3 232.9,338.6 233.3,338.0 233.6,338.4 233.9,338.2 234.2,338.4 234.6,338.5 234.9,338.2 235.2,338.4 235.5,338.2 235.8,338.5 236.2,338.3 236.5,338.4 236.8,338.6 237.1,338.4 237.5,338.8 237.8,338.4 238.1,338.8 238.4,338.7 238.7,338.4 239.1,338.6 239.4,338.5 239.7,338.6 240.0,338.6 240.4,339.2 240.7,338.6 241.0,339.1 241.3,338.9 241.7,338.5 242.0,338.3 242.3,339.0 242.6,338.4 242.9,339.1 243.3,339.1 243.6,339.0 243.9,338.9 244.2,338.9 244.6,339.0 244.9,338.9 245.2,338.9 245.5,338.9 245.9,339.3 246.2,338.9 246.5,339.1 246.8,338.7 247.1,338.9 247.5,338.7 247.8,339.0 248.1,339.2 248.4,339.1 248.8,338.9 249.1,339.2 249.4,339.0 249.7,339.1 250.1,339.1 250.4,339.2 250.7,338.5 251.0,338.7 251.3,339.3 251.7,339.0 252.0,339.6 252.3,339.0 252.6,338.9 253.0,339.4 253.3,339.2 253.6,339.6 253.9,339.2 254.2,339.0 254.6,339.3 254.9,338.9 255.2,339.0 255.5,339.0 255.9,339.1 256.2,339.3 256.5,339.0 256.8,339.2 257.2,339.0 257.5,339.3 257.8,338.5 258.1,339.1 258.4,339.2 258.8,338.9 259.1,339.4 259.4,339.2 259.7,339.5 260.1,339.4 260.4,339.3 260.7,339.1 261.0,338.9 261.4,339.1 261.7,339.1 262.0,339.2 262.3,339.1 262.6,339.9 263.0,338.8 263.3,339.5 263.6,339.1 263.9,339.1 264.3,339.4 264.6,339.2 264.9,338.9 265.2,339.3 265.6,339.2 265.9,338.7 266.2,339.3 266.5,339.0 266.8,339.1 267.2,339.4 267.5,339.3 267.8,339.2 268.1,339.8 268.5,339.3 268.8,339.1 269.1,339.3 269.4,339.2 269.7,338.7 270.1,338.9 270.4,338.9 270.7,339.8 271.0,339.2 271.4,339.2 271.7,339.1 272.0,339.5 272.3,339.3 272.7,339.7 273.0,339.5 273.3,339.7" fill="none" stroke="#1d5a9a" stroke-width="1.25" stroke-linejoin="round" />
<path d="M195.8,312.4 196.1,312.6 196.3,312.1 196.6,312.2 196.8,311.3 197.1,311.8 197.4,311.2 197.6,310.7 197.9,310.8 198.1,309.9 198.4,310.2 198.6,310.4 198.9,311.1 199.2,312.0 199.4,311.6 199.7,312.5 199.9,311.9 200.2,311.8 200.5,312.7 200.7,313.2 201.0,311.6 201.2,313.0 201.5,312.5 201.7,311.7 202.0,312.3 202.3,312.3 202.5,312.4 202.8,312.0 203.0,311.5 203.3,312.2 203.6,312.7 203.8,312.6 204.1,312.6 204.3,312.8 204.6,311.7 204.8,312.2 205.1,312.4 205.4,312.8 205.6,312.4 205.9,312.6 206.1,312.4 206.4,313.4 206.7,311.2 206.9,312.3 207.2,313.7 207.4,312.5 207.7,311.4 207.9,312.5 208.2,311.6 208.5,312.1 208.7,312.5 209.0,313.3 209.2,312.7 209.5,312.8 209.8,313.0 210.0,312.6 210.3,312.1 210.5,312.5 210.8,312.8 211.0,312.5 211.3,312.4 211.6,312.7 211.8,312.4 212.1,313.1 212.3,314.3 212.6,314.9 212.9,316.1 213.1,317.7 213.4,318.0 213.6,318.8 213.9,319.1 214.1,320.1 214.4,321.8 214.7,322.1 214.9,323.9 215.2,324.2 215.4,325.9 215.7,327.0 216.0,328.8 216.2,329.2 216.5,330.4 216.7,331.9 217.0,333.0 217.2,335.0 217.5,335.1 217.8,336.1 218.0,337.1 218.3,338.2 218.5,338.7 218.8,339.4 219.1,338.6 219.3,341.0 219.6,341.1 219.8,340.4 220.1,340.2 220.3,341.3 220.6,341.8 220.9,340.8 221.1,342.3 221.4,341.9 221.6,343.3 221.9,344.1 222.2,344.3 222.4,343.4 222.7,345.2 222.9,345.2 223.2,344.8 223.4,345.4 223.7,346.1 224.0,345.2 224.2,345.4 224.5,345.2 224.7,346.2 225.0,344.6 225.2,346.6 225.5,345.4 225.8,346.5 226.0,345.2 226.3,345.7 226.5,346.0 226.8,346.8 227.1,345.6 227.3,346.9 227.6,346.3 227.8,347.4 228.1,346.7 228.4,347.2 228.6,346.9 228.9,348.1 229.1,347.0 229.4,347.3 229.6,348.5 229.9,347.5 230.2,348.0 230.4,347.3 230.7,347.9 230.9,346.7 231.2,348.0 231.5,347.7 231.7,347.3 232.0,347.4 232.2,348.8 232.5,348.5 232.7,347.5 233.0,349.3 233.3,348.0 233.5,348.2 233.8,348.6 234.0,347.9 234.3,347.7 234.6,348.2 234.8,349.3 235.1,349.2 235.3,347.9 235.6,349.5 235.8,348.9 236.1,349.2 236.4,349.0 236.6,349.2 236.9,348.5 237.1,348.6 237.4,348.8 237.7,349.0 237.9,349.6 238.2,348.7 238.4,350.2 238.7,349.1 238.9,349.2 239.2,349.9 239.5,349.8 239.7,349.4 240.0,349.1 240.2,349.1 240.5,348.8 240.8,350.3 241.0,350.3 241.3,350.8 241.5,350.1 241.8,350.0 242.0,350.3 242.3,350.4 242.6,349.8 242.8,350.1 243.1,351.1 243.3,349.1 243.6,349.3 243.9,349.5 244.1,350.5 244.4,350.7 244.6,349.9 244.9,350.5 245.1,350.2 245.4,350.4 245.7,349.9 245.9,350.2 246.2,350.3 246.4,350.9 246.7,351.5 247.0,349.4 247.2,350.7 247.5,350.4 247.7,351.0 248.0,351.0 248.2,350.9 248.5,351.0 248.8,350.0 249.0,349.7 249.3,351.5 249.5,351.3 249.8,350.2 250.1,351.4 250.3,351.1 250.6,349.4 250.8,351.2 251.1,350.3 251.3,351.4 251.6,350.5 251.9,350.5 252.1,350.1 252.4,350.8 252.6,351.5 252.9,350.6 253.2,350.0 253.4,352.2 253.7,352.0 253.9,351.5 254.2,350.8 254.4,350.5 254.7,350.3 255.0,351.5 255.2,351.9 255.5,350.7 255.7,351.3 256.0,351.2 256.2,351.3 256.5,351.7 256.8,352.6 257.0,351.2 257.3,352.0 257.5,352.2 257.8,351.5 258.1,351.6 258.3,351.0 258.6,352.4 258.8,351.5 259.1,351.5 259.4,351.9 259.6,351.5 259.9,351.4 260.1,351.9 260.4,352.9 260.6,352.0 260.9,352.4 261.2,351.4 261.4,351.2 261.7,353.3 261.9,352.1 262.2,351.6 262.5,352.4 262.7,352.8 263.0,351.6 263.2,352.1 263.5,352.7 263.7,352.1 264.0,353.1 264.3,353.2 264.5,353.0 264.8,352.6 265.0,352.8 265.3,352.6 265.6,352.9 265.8,353.1 266.1,352.9 266.3,353.6 266.6,354.5 266.8,352.9 267.1,353.4 267.4,353.7 267.6,353.6 267.9,353.2 268.1,353.1 268.4,353.9 268.6,353.8 268.9,353.7 269.2,353.1 269.4,353.9 269.7,354.0 269.9,353.6 270.2,354.0 270.5,354.9 270.7,352.8 271.0,354.1 271.2,353.2 271.5,353.2 271.8,353.8 272.0,354.3 272.3,354.1 272.5,353.5 272.8,353.4 273.0,353.8 273.3,354.2" fill="none" stroke="#d3163a" stroke-width="1.25" stroke-linejoin="round" />
<rect x="193.80" y="304.30" width="79.50" height="88.20" fill="none" stroke="#231f20" stroke-width="1.35"/>
<line x1="208.00" y1="392.50" x2="208.00" y2="395.00" stroke="#231f20" stroke-width="0.9"/>
<text x="208.00" y="405.47" font-size="8.25" text-anchor="middle" fill="#231f20" textLength="4.34" lengthAdjust="spacingAndGlyphs" >0</text>
<line x1="221.30" y1="392.50" x2="221.30" y2="395.00" stroke="#231f20" stroke-width="0.9"/>
<text x="221.30" y="405.47" font-size="8.25" text-anchor="middle" fill="#231f20" textLength="4.34" lengthAdjust="spacingAndGlyphs" >1</text>
<line x1="234.30" y1="392.50" x2="234.30" y2="395.00" stroke="#231f20" stroke-width="0.9"/>
<text x="234.30" y="405.47" font-size="8.25" text-anchor="middle" fill="#231f20" textLength="4.34" lengthAdjust="spacingAndGlyphs" >2</text>
<line x1="247.50" y1="392.50" x2="247.50" y2="395.00" stroke="#231f20" stroke-width="0.9"/>
<text x="247.50" y="405.47" font-size="8.25" text-anchor="middle" fill="#231f20" textLength="4.34" lengthAdjust="spacingAndGlyphs" >3</text>
<line x1="260.50" y1="392.50" x2="260.50" y2="395.00" stroke="#231f20" stroke-width="0.9"/>
<text x="260.50" y="405.47" font-size="8.25" text-anchor="middle" fill="#231f20" textLength="4.34" lengthAdjust="spacingAndGlyphs" >4</text>
<text x="233.80" y="415.79" font-size="8.58" text-anchor="middle" fill="#231f20" textLength="37" lengthAdjust="spacingAndGlyphs" >Time (min)</text>
<line x1="211.30" y1="333.80" x2="211.30" y2="317.50" stroke="#231f20" stroke-width="0.95"/>
<path d="M211.30,313.50 L213.30,317.50 L209.30,317.50 Z" fill="#231f20"/>
<text x="271.30" y="314.31" font-size="8.36" text-anchor="end" fill="#231f20" textLength="40.5" lengthAdjust="spacingAndGlyphs" >Anti-ERp46</text>
<text x="271.30" y="323.31" font-size="8.36" text-anchor="end" fill="#231f20" textLength="27.5" lengthAdjust="spacingAndGlyphs" >(µg/mL)</text>
<text x="271.30" y="337.51" font-size="8.36" text-anchor="end" fill="#231f20" textLength="9.2" lengthAdjust="spacingAndGlyphs" >90</text>
<text x="271.30" y="351.81" font-size="8.36" text-anchor="end" fill="#231f20" textLength="9.2" lengthAdjust="spacingAndGlyphs" >30</text>
<text x="271.30" y="364.31" font-size="8.36" text-anchor="end" fill="#231f20" textLength="21.5" lengthAdjust="spacingAndGlyphs" >nl IgG</text>
<line x1="305.00" y1="303.80" x2="305.00" y2="392.50" stroke="#231f20" stroke-width="1"/>
<line x1="302.00" y1="392.50" x2="305.00" y2="392.50" stroke="#231f20" stroke-width="1"/>
<text x="299.70" y="394.87" font-size="8.25" text-anchor="end" fill="#231f20" textLength="4.34" lengthAdjust="spacingAndGlyphs" >0</text>
<line x1="302.00" y1="364.00" x2="305.00" y2="364.00" stroke="#231f20" stroke-width="1"/>
<text x="299.70" y="366.37" font-size="8.25" text-anchor="end" fill="#231f20" textLength="8.68" lengthAdjust="spacingAndGlyphs" >25</text>
<line x1="302.00" y1="335.50" x2="305.00" y2="335.50" stroke="#231f20" stroke-width="1"/>
<text x="299.70" y="337.87" font-size="8.25" text-anchor="end" fill="#231f20" textLength="8.68" lengthAdjust="spacingAndGlyphs" >50</text>
<line x1="302.00" y1="307.00" x2="305.00" y2="307.00" stroke="#231f20" stroke-width="1"/>
<text x="299.70" y="309.37" font-size="8.25" text-anchor="end" fill="#231f20" textLength="8.68" lengthAdjust="spacingAndGlyphs" >75</text>
<line x1="305.00" y1="392.50" x2="355.50" y2="392.50" stroke="#231f20" stroke-width="1"/>
<line x1="314.50" y1="392.50" x2="314.50" y2="395.50" stroke="#231f20" stroke-width="1"/>
<line x1="329.40" y1="392.50" x2="329.40" y2="395.50" stroke="#231f20" stroke-width="1"/>
<line x1="344.80" y1="392.50" x2="344.80" y2="395.50" stroke="#231f20" stroke-width="1"/>
<rect x="309.80" y="327.52" width="9.40" height="64.98" fill="#e0808f" stroke="#d96b80" stroke-width="0.5"/>
<rect x="324.60" y="348.61" width="9.60" height="43.89" fill="#87a6c4" stroke="#7096b9" stroke-width="0.5"/>
<rect x="339.80" y="369.70" width="9.90" height="22.80" fill="#9ad79a" stroke="#7ccb7c" stroke-width="0.5"/>
<line x1="314.50" y1="324.10" x2="314.50" y2="330.94" stroke="#c8102e" stroke-width="0.9"/>
<line x1="311.50" y1="324.10" x2="317.50" y2="324.10" stroke="#c8102e" stroke-width="0.9"/>
<line x1="311.50" y1="330.94" x2="317.50" y2="330.94" stroke="#c8102e" stroke-width="0.9"/>
<line x1="329.40" y1="345.76" x2="329.40" y2="350.32" stroke="#0b4a8a" stroke-width="0.9"/>
<line x1="326.40" y1="345.76" x2="332.40" y2="345.76" stroke="#0b4a8a" stroke-width="0.9"/>
<line x1="326.40" y1="350.32" x2="332.40" y2="350.32" stroke="#0b4a8a" stroke-width="0.9"/>
<line x1="344.80" y1="367.99" x2="344.80" y2="370.84" stroke="#3cb64b" stroke-width="0.9"/>
<line x1="341.80" y1="367.99" x2="347.80" y2="367.99" stroke="#3cb64b" stroke-width="0.9"/>
<line x1="341.80" y1="370.84" x2="347.80" y2="370.84" stroke="#3cb64b" stroke-width="0.9"/>
<circle cx="310.10" cy="324.10" r="1.25" fill="#c8102e"/>
<circle cx="317.50" cy="326.00" r="1.25" fill="#c8102e"/>
<circle cx="313.70" cy="334.20" r="1.25" fill="#c8102e"/>
<circle cx="314.20" cy="327.50" r="1.25" fill="#c8102e"/>
<rect x="327.70" y="343.60" width="2.40" height="2.40" fill="#0b4a8a"/>
<rect x="323.60" y="348.50" width="2.40" height="2.40" fill="#0b4a8a"/>
<rect x="331.80" y="348.50" width="2.40" height="2.40" fill="#0b4a8a"/>
<rect x="339.30" y="370.70" width="2.20" height="2.20" fill="#3cb64b"/>
<rect x="347.40" y="365.80" width="2.20" height="2.20" fill="#3cb64b"/>
<rect x="343.30" y="368.60" width="2.20" height="2.20" fill="#3cb64b"/>
<line x1="309.50" y1="306.30" x2="347.00" y2="306.30" stroke="#3a3a3a" stroke-width="1.15"/>
<text x="328.25" y="306.67" font-size="8.25" text-anchor="middle" fill="#231f20" textLength="12.14" lengthAdjust="spacingAndGlyphs" >****</text>
<line x1="309.50" y1="318.80" x2="328.00" y2="318.80" stroke="#3a3a3a" stroke-width="1.15"/>
<text x="318.75" y="319.17" font-size="8.25" text-anchor="middle" fill="#231f20" textLength="12.14" lengthAdjust="spacingAndGlyphs" >****</text>
<line x1="328.00" y1="338.80" x2="347.00" y2="338.80" stroke="#3a3a3a" stroke-width="1.15"/>
<text x="337.50" y="339.17" font-size="8.25" text-anchor="middle" fill="#231f20" textLength="12.14" lengthAdjust="spacingAndGlyphs" >****</text>
<text x="283.20" y="353.59" font-size="8.58" text-anchor="middle" fill="#231f20" textLength="50" lengthAdjust="spacingAndGlyphs" transform="rotate(-90 283.20 350.50)" >% Aggregation</text>
<text x="305.20" y="403.97" font-size="8.25" text-anchor="end" fill="#231f20" textLength="27.5" lengthAdjust="spacingAndGlyphs" >(µg/mL)</text>
<text x="314.20" y="403.97" font-size="8.25" text-anchor="middle" fill="#231f20" textLength="9.8" lengthAdjust="spacingAndGlyphs" >90</text>
<text x="329.30" y="403.97" font-size="8.25" text-anchor="middle" fill="#231f20" textLength="9.5" lengthAdjust="spacingAndGlyphs" >30</text>
<text x="345.70" y="403.97" font-size="8.25" text-anchor="middle" fill="#231f20" textLength="9.5" lengthAdjust="spacingAndGlyphs" >90</text>
<line x1="308.50" y1="407.20" x2="320.00" y2="407.20" stroke="#231f20" stroke-width="1.3"/>
<line x1="324.80" y1="407.20" x2="351.80" y2="407.20" stroke="#231f20" stroke-width="1.3"/>
<text x="317.00" y="414.89" font-size="8.03" text-anchor="end" fill="#231f20" textLength="22" lengthAdjust="spacingAndGlyphs" transform="rotate(-45 317.00 412.00)" >nl IgG</text>
<text x="338.30" y="413.09" font-size="8.03" text-anchor="end" fill="#231f20" textLength="17" lengthAdjust="spacingAndGlyphs" transform="rotate(-45 338.30 410.20)" >Anti-</text>
<text x="344.30" y="422.39" font-size="8.03" text-anchor="end" fill="#231f20" textLength="22" lengthAdjust="spacingAndGlyphs" transform="rotate(-45 344.30 419.50)" >ERp46</text>
<text x="358.50" y="300.62" font-size="12.0" text-anchor="start" fill="#000" font-weight="bold" >G</text>
<text x="405.00" y="299.55" font-size="9.02" text-anchor="middle" fill="#231f20" textLength="57.5" lengthAdjust="spacingAndGlyphs" >CHAMP (3 µM)</text>
<path d="M365.5,381.8 366.2,381.8 366.8,381.6 367.5,381.8 368.1,381.8 368.8,381.9 369.5,382.1 370.1,381.9 370.8,381.8 371.5,381.8 372.1,382.1 372.8,381.8 373.4,381.8 374.1,382.2 374.8,382.1 375.4,381.9 376.1,381.8 376.8,381.7 377.4,382.0 378.1,381.7 378.8,382.0 379.4,381.6 380.1,381.8 380.7,381.9 381.4,381.8 382.1,381.8 382.7,381.9 383.4,381.6 384.1,381.6 384.7,381.8 385.4,382.2 386.0,381.8 386.7,381.6 387.4,381.7 388.0,381.8 388.7,382.0 389.4,381.7 390.0,381.9 390.7,381.8 391.3,381.7 392.0,381.6 392.7,381.8 393.3,381.7 394.0,381.9 394.6,381.5 395.3,382.0 396.0,381.9 396.6,381.9 397.3,382.1 398.0,381.9 398.6,381.5 399.3,381.8 399.9,381.9 400.6,381.7 401.3,381.6 401.9,381.9 402.6,381.9 403.3,381.7 403.9,381.8 404.6,381.7 405.2,381.7 405.9,381.8 406.6,382.0 407.2,381.5 407.9,381.7 408.6,382.1 409.2,381.9 409.9,381.8 410.6,382.0 411.2,381.6 411.9,381.6 412.5,381.5 413.2,381.5 413.9,381.8 414.5,382.0 415.2,381.7 415.9,381.7 416.5,381.9 417.2,381.9 417.8,381.9 418.5,381.4 419.2,381.7 419.8,381.3 420.5,381.8 421.1,381.6 421.8,381.7 422.5,382.1 423.1,382.1 423.8,381.9 424.5,381.9 425.1,381.8 425.8,381.7 426.4,381.8 427.1,382.2 427.8,381.6 428.4,381.7 429.1,381.8 429.8,382.0 430.4,382.0 431.1,381.6 431.8,381.8 432.4,381.7 433.1,381.6 433.7,381.8 434.4,381.7 435.1,382.0 435.7,381.9 436.4,381.6 437.1,381.8 437.7,381.7 438.4,381.7 439.0,381.7 439.7,382.0 440.4,381.7 441.0,381.5 441.7,381.6 442.4,382.0 443.0,382.2 443.7,381.6 444.3,381.7 445.0,381.7" fill="none" stroke="#1d5a9a" stroke-width="1.1" stroke-linejoin="round" />
<path d="M365.5,379.3 365.9,379.4 366.3,379.4 366.7,379.1 367.1,379.3 367.5,379.2 367.9,379.3 368.3,378.9 368.7,378.9 369.1,378.8 369.5,378.6 369.9,378.9 370.3,378.9 370.7,379.2 371.1,378.8 371.5,379.0 371.9,379.3 372.3,379.1 372.7,379.3 373.1,380.9 373.4,384.2 373.8,385.7 374.2,383.8 374.6,380.2 375.0,379.3 375.4,379.0 375.8,379.3 376.2,379.5 376.6,378.9 377.0,379.0 377.4,379.5 377.8,379.5 378.2,379.5 378.6,379.0 379.0,379.3 379.4,378.9 379.8,379.2 380.2,379.0 380.6,379.1 381.0,379.4 381.4,379.1 381.8,379.0 382.2,379.0 382.6,379.1 383.0,378.9 383.4,379.0 383.8,379.1 384.2,379.4 384.6,378.4 385.0,378.6 385.4,378.6 385.8,379.1 386.2,379.5 386.6,379.0 387.0,378.9 387.4,379.2 387.8,378.3 388.2,378.8 388.6,378.1 389.0,378.9 389.4,378.7 389.7,378.7 390.1,378.9 390.5,378.7 390.9,379.1 391.3,378.8 391.7,378.9 392.1,379.5 392.5,378.7 392.9,379.1 393.3,378.6 393.7,379.1 394.1,379.1 394.5,378.8 394.9,379.1 395.3,379.2 395.7,379.1 396.1,378.8 396.5,378.8 396.9,379.1 397.3,378.4 397.7,378.7 398.1,378.9 398.5,378.9 398.9,379.3 399.3,379.2 399.7,378.9 400.1,378.9 400.5,378.5 400.9,378.8 401.3,378.9 401.7,378.8 402.1,378.8 402.5,379.0 402.9,378.6 403.3,378.7 403.7,378.4 404.1,379.1 404.5,378.6 404.9,378.4 405.2,379.0 405.6,378.8 406.0,379.1 406.4,378.8 406.8,379.4 407.2,379.0 407.6,378.9 408.0,378.9 408.4,378.8 408.8,379.1 409.2,379.4 409.6,378.8 410.0,378.6 410.4,379.0 410.8,379.2 411.2,378.5 411.6,378.7 412.0,378.7 412.4,379.1 412.8,379.0 413.2,378.7 413.6,378.7 414.0,379.1 414.4,378.4 414.8,379.1 415.2,378.9 415.6,379.4 416.0,379.2 416.4,378.8 416.8,378.9 417.2,378.9 417.6,378.8 418.0,379.0 418.4,379.2 418.8,378.6 419.2,379.0 419.6,379.4 420.0,379.2 420.4,378.8 420.8,378.8 421.1,378.8 421.5,378.7 421.9,379.3 422.3,379.1 422.7,378.9 423.1,378.7 423.5,379.0 423.9,379.0 424.3,379.5 424.7,379.0 425.1,379.1 425.5,379.4 425.9,379.3 426.3,379.1 426.7,378.6 427.1,379.5 427.5,379.3 427.9,379.0 428.3,379.1 428.7,378.9 429.1,378.9 429.5,378.8 429.9,379.3 430.3,379.3 430.7,379.2 431.1,379.4 431.5,379.3 431.9,379.2 432.3,379.0 432.7,379.4 433.1,379.5 433.5,379.4 433.9,379.5 434.3,379.1 434.7,379.0 435.1,379.5 435.5,379.1 435.9,379.3 436.3,379.2 436.7,379.3 437.1,379.2 437.4,379.1 437.8,378.8 438.2,379.7 438.6,379.3 439.0,378.8 439.4,379.1 439.8,379.0 440.2,379.1 440.6,378.7 441.0,379.4 441.4,379.7 441.8,379.2 442.2,379.5 442.6,379.4 443.0,379.0 443.4,379.6 443.8,378.9 444.2,379.2 444.6,379.2 445.0,379.6" fill="none" stroke="#d3163a" stroke-width="1.1" stroke-linejoin="round" />
<path d="M365.5,310.1 366.0,310.2 366.6,310.2 367.1,310.0 367.6,310.1 368.1,310.0 368.7,309.7 369.2,310.3 369.7,310.0 370.3,309.7 370.8,310.0 371.3,310.0 371.9,310.2 372.4,310.3 372.9,309.4 373.4,310.2 374.0,310.4 374.5,309.9 375.0,309.7 375.6,310.2 376.1,310.2 376.6,310.3 377.2,310.0 377.7,310.2 378.2,310.4 378.8,310.5 379.3,310.9 379.8,310.6 380.3,310.5 380.9,310.2 381.4,311.0 381.9,310.8 382.5,310.8 383.0,310.7 383.5,311.1 384.1,310.7 384.6,311.2 385.1,311.2 385.6,311.3 386.2,311.6 386.7,311.4 387.2,311.5 387.8,311.8 388.3,311.4 388.8,311.7 389.4,311.9 389.9,312.1 390.4,311.9 390.9,312.3 391.5,312.3 392.0,312.1 392.5,312.2 393.1,312.3 393.6,312.7 394.1,312.8 394.6,313.1 395.2,313.2 395.7,313.1 396.2,313.5 396.8,313.6 397.3,313.7 397.8,313.8 398.4,313.6 398.9,314.1 399.4,314.0 399.9,314.1 400.5,314.5 401.0,314.7 401.5,314.9 402.1,315.0 402.6,315.0 403.1,315.4 403.7,315.4 404.2,315.5 404.7,315.9 405.2,316.4 405.8,316.2 406.3,316.2 406.8,316.9 407.4,317.1 407.9,316.8 408.4,317.0 409.0,317.3 409.5,317.9 410.0,317.5 410.6,317.8 411.1,317.9 411.6,317.6 412.1,317.8 412.7,318.0 413.2,318.4 413.7,318.5 414.3,319.0 414.8,318.7 415.3,318.9 415.9,319.0 416.4,319.2 416.9,319.7 417.4,319.4 418.0,319.8 418.5,319.9 419.0,319.6 419.6,320.0 420.1,319.9 420.6,320.1 421.1,320.3 421.7,320.3 422.2,320.4 422.7,320.9 423.3,320.6 423.8,320.9 424.3,321.2 424.9,321.1 425.4,321.3 425.9,321.4 426.4,321.4 427.0,321.6 427.5,321.0 428.0,321.8 428.6,321.5 429.1,321.2 429.6,321.4 430.2,321.3 430.7,321.7 431.2,321.4 431.8,321.6 432.3,321.9 432.8,321.9 433.3,321.8 433.9,321.9 434.4,322.0 434.9,322.1 435.5,322.1 436.0,322.1 436.5,322.4 437.1,322.0 437.6,322.2 438.1,322.4 438.6,322.3 439.2,322.4 439.7,322.4 440.2,322.6 440.8,322.9 441.3,322.6 441.8,322.6 442.4,322.8 442.9,322.7 443.4,322.5 443.9,322.9 444.5,322.9 445.0,322.9" fill="none" stroke="#1d5a9a" stroke-width="1.1" stroke-linejoin="round" />
<path d="M365.5,310.2 365.9,310.0 366.3,309.8 366.7,309.3 367.1,309.5 367.5,310.1 367.9,310.1 368.3,310.3 368.7,310.2 369.1,310.0 369.5,309.7 369.9,309.8 370.3,310.2 370.7,309.8 371.1,310.5 371.5,309.8 371.9,309.7 372.3,310.3 372.7,309.7 373.1,311.0 373.4,310.1 373.8,310.5 374.2,310.5 374.6,310.3 375.0,310.1 375.4,310.1 375.8,311.2 376.2,311.3 376.6,311.9 377.0,310.8 377.4,311.7 377.8,311.8 378.2,312.5 378.6,312.5 379.0,313.4 379.4,314.0 379.8,314.5 380.2,315.4 380.6,315.5 381.0,316.8 381.4,316.7 381.8,318.2 382.2,317.4 382.6,319.1 383.0,319.6 383.4,320.7 383.8,321.8 384.2,322.6 384.6,323.2 385.0,324.6 385.4,324.3 385.8,325.3 386.2,326.8 386.6,327.2 387.0,327.1 387.4,328.7 387.8,328.9 388.2,330.5 388.6,331.1 389.0,331.2 389.4,332.5 389.7,332.3 390.1,333.5 390.5,333.9 390.9,334.2 391.3,334.2 391.7,335.1 392.1,334.8 392.5,335.8 392.9,335.8 393.3,337.2 393.7,336.9 394.1,336.7 394.5,338.1 394.9,338.2 395.3,338.2 395.7,339.4 396.1,339.1 396.5,339.1 396.9,339.1 397.3,338.5 397.7,340.0 398.1,340.4 398.5,340.1 398.9,340.0 399.3,340.7 399.7,340.4 400.1,341.2 400.5,341.7 400.9,342.1 401.3,341.8 401.7,341.9 402.1,342.2 402.5,342.6 402.9,342.2 403.3,342.0 403.7,342.3 404.1,342.3 404.5,342.6 404.9,343.0 405.2,343.3 405.6,343.4 406.0,343.5 406.4,343.5 406.8,344.0 407.2,344.3 407.6,344.4 408.0,344.8 408.4,344.3 408.8,344.5 409.2,345.3 409.6,344.9 410.0,345.1 410.4,345.0 410.8,345.5 411.2,345.2 411.6,345.0 412.0,345.5 412.4,345.4 412.8,346.0 413.2,345.6 413.6,345.9 414.0,345.9 414.4,346.2 414.8,345.9 415.2,346.6 415.6,345.8 416.0,346.3 416.4,346.3 416.8,346.8 417.2,346.7 417.6,347.0 418.0,346.8 418.4,346.7 418.8,346.7 419.2,347.1 419.6,347.1 420.0,347.5 420.4,347.6 420.8,347.9 421.1,347.6 421.5,347.5 421.9,347.4 422.3,347.9 422.7,348.1 423.1,348.8 423.5,348.2 423.9,348.9 424.3,349.0 424.7,348.1 425.1,348.9 425.5,349.0 425.9,349.1 426.3,348.7 426.7,349.1 427.1,348.7 427.5,348.9 427.9,349.0 428.3,349.7 428.7,349.0 429.1,349.5 429.5,349.3 429.9,349.1 430.3,349.5 430.7,349.7 431.1,349.2 431.5,349.8 431.9,349.4 432.3,349.4 432.7,349.8 433.1,349.7 433.5,349.5 433.9,349.4 434.3,350.0 434.7,350.2 435.1,350.0 435.5,350.3 435.9,349.7 436.3,350.5 436.7,350.5 437.1,350.5 437.4,350.3 437.8,350.6 438.2,350.7 438.6,351.1 439.0,350.9 439.4,350.9 439.8,350.6 440.2,351.2 440.6,351.4 441.0,350.9 441.4,351.4 441.8,351.3 442.2,351.2 442.6,350.9 443.0,352.0 443.4,350.8 443.8,351.6 444.2,351.4 444.6,352.0 445.0,351.6" fill="none" stroke="#d3163a" stroke-width="1.1" stroke-linejoin="round" />
<rect x="365.50" y="304.30" width="79.50" height="88.20" fill="none" stroke="#231f20" stroke-width="1.35"/>
<line x1="373.80" y1="392.50" x2="373.80" y2="395.00" stroke="#231f20" stroke-width="0.9"/>
<text x="373.80" y="405.47" font-size="8.25" text-anchor="middle" fill="#231f20" textLength="4.34" lengthAdjust="spacingAndGlyphs" >0</text>
<line x1="389.30" y1="392.50" x2="389.30" y2="395.00" stroke="#231f20" stroke-width="0.9"/>
<text x="389.30" y="405.47" font-size="8.25" text-anchor="middle" fill="#231f20" textLength="4.34" lengthAdjust="spacingAndGlyphs" >1</text>
<line x1="405.00" y1="392.50" x2="405.00" y2="395.00" stroke="#231f20" stroke-width="0.9"/>
<text x="405.00" y="405.47" font-size="8.25" text-anchor="middle" fill="#231f20" textLength="4.34" lengthAdjust="spacingAndGlyphs" >2</text>
<line x1="420.00" y1="392.50" x2="420.00" y2="395.00" stroke="#231f20" stroke-width="0.9"/>
<text x="420.00" y="405.47" font-size="8.25" text-anchor="middle" fill="#231f20" textLength="4.34" lengthAdjust="spacingAndGlyphs" >3</text>
<line x1="435.80" y1="392.50" x2="435.80" y2="395.00" stroke="#231f20" stroke-width="0.9"/>
<text x="435.80" y="405.47" font-size="8.25" text-anchor="middle" fill="#231f20" textLength="4.34" lengthAdjust="spacingAndGlyphs" >4</text>
<text x="405.00" y="415.79" font-size="8.58" text-anchor="middle" fill="#231f20" textLength="37" lengthAdjust="spacingAndGlyphs" >Time (min)</text>
<text x="443.80" y="314.31" font-size="8.36" text-anchor="end" fill="#231f20" textLength="62" lengthAdjust="spacingAndGlyphs" >Pf4-Cre/ERp46<tspan font-size="72%" dx="0.4" dy="-0.56em" style="stroke-width:0.1px">fl/fl</tspan><tspan dy="0.403em">​</tspan></text>
<text x="405.50" y="343.01" font-size="8.36" text-anchor="start" fill="#231f20" textLength="31" lengthAdjust="spacingAndGlyphs" >ERp46<tspan font-size="72%" dx="0.4" dy="-0.56em" style="stroke-width:0.1px">fl/fl</tspan><tspan dy="0.403em">​</tspan></text>
<line x1="474.30" y1="303.80" x2="474.30" y2="392.50" stroke="#231f20" stroke-width="1"/>
<line x1="471.30" y1="392.50" x2="474.30" y2="392.50" stroke="#231f20" stroke-width="1"/>
<text x="470.50" y="394.87" font-size="8.25" text-anchor="end" fill="#231f20" textLength="4.34" lengthAdjust="spacingAndGlyphs" >0</text>
<line x1="471.30" y1="364.00" x2="474.30" y2="364.00" stroke="#231f20" stroke-width="1"/>
<text x="470.50" y="366.37" font-size="8.25" text-anchor="end" fill="#231f20" textLength="8.68" lengthAdjust="spacingAndGlyphs" >20</text>
<line x1="471.30" y1="335.50" x2="474.30" y2="335.50" stroke="#231f20" stroke-width="1"/>
<text x="470.50" y="337.87" font-size="8.25" text-anchor="end" fill="#231f20" textLength="8.68" lengthAdjust="spacingAndGlyphs" >40</text>
<line x1="471.30" y1="307.00" x2="474.30" y2="307.00" stroke="#231f20" stroke-width="1"/>
<text x="470.50" y="309.37" font-size="8.25" text-anchor="end" fill="#231f20" textLength="8.68" lengthAdjust="spacingAndGlyphs" >60</text>
<line x1="474.30" y1="392.50" x2="506.30" y2="392.50" stroke="#231f20" stroke-width="1"/>
<line x1="483.20" y1="392.50" x2="483.20" y2="395.50" stroke="#231f20" stroke-width="1"/>
<line x1="498.80" y1="392.50" x2="498.80" y2="395.50" stroke="#231f20" stroke-width="1"/>
<rect x="478.60" y="317.69" width="9.40" height="74.81" fill="#e0808f" stroke="#d96b80" stroke-width="0.5"/>
<rect x="494.10" y="368.27" width="9.40" height="24.23" fill="#87a6c4" stroke="#7096b9" stroke-width="0.5"/>
<line x1="483.20" y1="314.84" x2="483.20" y2="319.82" stroke="#c8102e" stroke-width="0.9"/>
<line x1="480.20" y1="314.84" x2="486.20" y2="314.84" stroke="#c8102e" stroke-width="0.9"/>
<line x1="480.20" y1="319.82" x2="486.20" y2="319.82" stroke="#c8102e" stroke-width="0.9"/>
<line x1="498.80" y1="364.71" x2="498.80" y2="371.84" stroke="#0b4a8a" stroke-width="0.9"/>
<line x1="495.80" y1="364.71" x2="501.80" y2="364.71" stroke="#0b4a8a" stroke-width="0.9"/>
<line x1="495.80" y1="371.84" x2="501.80" y2="371.84" stroke="#0b4a8a" stroke-width="0.9"/>
<circle cx="483.20" cy="309.00" r="1.25" fill="#c8102e"/>
<circle cx="480.50" cy="318.00" r="1.25" fill="#c8102e"/>
<circle cx="485.50" cy="317.50" r="1.25" fill="#c8102e"/>
<circle cx="483.20" cy="320.00" r="1.25" fill="#c8102e"/>
<rect x="497.60" y="358.80" width="2.40" height="2.40" fill="#0b4a8a"/>
<rect x="494.80" y="366.80" width="2.40" height="2.40" fill="#0b4a8a"/>
<rect x="500.30" y="367.30" width="2.40" height="2.40" fill="#0b4a8a"/>
<rect x="497.60" y="372.80" width="2.40" height="2.40" fill="#0b4a8a"/>
<rect x="495.30" y="364.80" width="2.40" height="2.40" fill="#0b4a8a"/>
<line x1="482.00" y1="305.80" x2="500.00" y2="305.80" stroke="#3a3a3a" stroke-width="1.15"/>
<text x="491.00" y="306.17" font-size="8.25" text-anchor="middle" fill="#231f20" textLength="12.14" lengthAdjust="spacingAndGlyphs" >****</text>
<text x="453.90" y="351.29" font-size="8.58" text-anchor="middle" fill="#231f20" textLength="49" lengthAdjust="spacingAndGlyphs" transform="rotate(-90 453.90 348.20)" >% Aggregation</text>
<text x="484.70" y="402.89" font-size="8.03" text-anchor="end" fill="#231f20" textLength="32.5" lengthAdjust="spacingAndGlyphs" transform="rotate(-45 484.70 400.00)" >ERp46<tspan font-size="72%" dx="0.4" dy="-0.56em" style="stroke-width:0.1px">fl/fl</tspan><tspan dy="0.403em">​</tspan></text>
<text x="500.30" y="402.89" font-size="8.03" text-anchor="end" fill="#231f20" textLength="30" lengthAdjust="spacingAndGlyphs" transform="rotate(-45 500.30 400.00)" >Pf4-Cre/</text>
<text x="506.38" y="408.97" font-size="8.03" text-anchor="end" fill="#231f20" textLength="32.5" lengthAdjust="spacingAndGlyphs" transform="rotate(-45 506.38 406.08)" >ERp46<tspan font-size="72%" dx="0.4" dy="-0.56em" style="stroke-width:0.1px">fl/fl</tspan><tspan dy="0.403em">​</tspan></text>
<text x="8.50" y="449.62" font-size="12.0" text-anchor="start" fill="#000" font-weight="bold" >H</text>
<line x1="41.60" y1="444.60" x2="47.80" y2="444.60" stroke="#d3163a" stroke-width="1.1"/>
<text x="51.40" y="447.61" font-size="8.36" text-anchor="start" fill="#231f20" textLength="31" lengthAdjust="spacingAndGlyphs" >2.5 µg/ml</text>
<line x1="41.60" y1="454.40" x2="47.80" y2="454.40" stroke="#1d5a9a" stroke-width="1.1"/>
<text x="51.40" y="457.41" font-size="8.36" text-anchor="start" fill="#231f20" textLength="31" lengthAdjust="spacingAndGlyphs" >5.0 µg/ml</text>
<line x1="104.40" y1="444.60" x2="110.60" y2="444.60" stroke="#3cb64b" stroke-width="1.1"/>
<text x="114.20" y="447.61" font-size="8.36" text-anchor="start" fill="#231f20" textLength="34.7" lengthAdjust="spacingAndGlyphs" >10.0 µg/ml</text>
<line x1="104.40" y1="454.40" x2="110.60" y2="454.40" stroke="#7a4a9e" stroke-width="1.1"/>
<text x="114.20" y="457.41" font-size="8.36" text-anchor="start" fill="#231f20" textLength="34.7" lengthAdjust="spacingAndGlyphs" >20.0 µg/ml</text>
<line x1="165.80" y1="444.60" x2="172.00" y2="444.60" stroke="#f6a03d" stroke-width="1.1"/>
<text x="175.60" y="447.61" font-size="8.36" text-anchor="start" fill="#231f20" textLength="35.4" lengthAdjust="spacingAndGlyphs" >40.0 µg/ml</text>
<line x1="280.20" y1="444.60" x2="286.40" y2="444.60" stroke="#d3163a" stroke-width="1.1"/>
<text x="290.00" y="447.61" font-size="8.36" text-anchor="start" fill="#231f20" textLength="40" lengthAdjust="spacingAndGlyphs" >0.156 µg/ml</text>
<line x1="280.20" y1="454.40" x2="286.40" y2="454.40" stroke="#1d5a9a" stroke-width="1.1"/>
<text x="290.00" y="457.41" font-size="8.36" text-anchor="start" fill="#231f20" textLength="40" lengthAdjust="spacingAndGlyphs" >0.312 µg/ml</text>
<line x1="343.00" y1="444.60" x2="349.20" y2="444.60" stroke="#3cb64b" stroke-width="1.1"/>
<text x="352.80" y="447.61" font-size="8.36" text-anchor="start" fill="#231f20" textLength="40" lengthAdjust="spacingAndGlyphs" >0.625 µg/ml</text>
<line x1="343.00" y1="454.40" x2="349.20" y2="454.40" stroke="#7a4a9e" stroke-width="1.1"/>
<text x="352.80" y="457.41" font-size="8.36" text-anchor="start" fill="#231f20" textLength="35.5" lengthAdjust="spacingAndGlyphs" >1.25 µg/ml</text>
<line x1="405.20" y1="444.60" x2="411.40" y2="444.60" stroke="#f6a03d" stroke-width="1.1"/>
<text x="415.00" y="447.61" font-size="8.36" text-anchor="start" fill="#231f20" textLength="31" lengthAdjust="spacingAndGlyphs" >2.5 µg/ml</text>
<line x1="35.50" y1="453.50" x2="35.50" y2="551.30" stroke="#231f20" stroke-width="1"/>
<line x1="32.50" y1="550.85" x2="35.50" y2="550.85" stroke="#231f20" stroke-width="1"/>
<text x="30.80" y="553.22" font-size="8.25" text-anchor="end" fill="#231f20" textLength="8.89" lengthAdjust="spacingAndGlyphs" >−2</text>
<line x1="32.50" y1="538.25" x2="35.50" y2="538.25" stroke="#231f20" stroke-width="1"/>
<text x="30.80" y="540.62" font-size="8.25" text-anchor="end" fill="#231f20" textLength="4.34" lengthAdjust="spacingAndGlyphs" >0</text>
<line x1="32.50" y1="525.65" x2="35.50" y2="525.65" stroke="#231f20" stroke-width="1"/>
<text x="30.80" y="528.02" font-size="8.25" text-anchor="end" fill="#231f20" textLength="4.34" lengthAdjust="spacingAndGlyphs" >2</text>
<line x1="32.50" y1="513.05" x2="35.50" y2="513.05" stroke="#231f20" stroke-width="1"/>
<text x="30.80" y="515.42" font-size="8.25" text-anchor="end" fill="#231f20" textLength="4.34" lengthAdjust="spacingAndGlyphs" >4</text>
<line x1="32.50" y1="500.45" x2="35.50" y2="500.45" stroke="#231f20" stroke-width="1"/>
<text x="30.80" y="502.82" font-size="8.25" text-anchor="end" fill="#231f20" textLength="4.34" lengthAdjust="spacingAndGlyphs" >6</text>
<line x1="32.50" y1="487.85" x2="35.50" y2="487.85" stroke="#231f20" stroke-width="1"/>
<text x="30.80" y="490.22" font-size="8.25" text-anchor="end" fill="#231f20" textLength="4.34" lengthAdjust="spacingAndGlyphs" >8</text>
<line x1="32.50" y1="475.25" x2="35.50" y2="475.25" stroke="#231f20" stroke-width="1"/>
<text x="30.80" y="477.62" font-size="8.25" text-anchor="end" fill="#231f20" textLength="8.68" lengthAdjust="spacingAndGlyphs" >10</text>
<line x1="32.50" y1="462.65" x2="35.50" y2="462.65" stroke="#231f20" stroke-width="1"/>
<text x="30.80" y="465.02" font-size="8.25" text-anchor="end" fill="#231f20" textLength="8.68" lengthAdjust="spacingAndGlyphs" >12</text>
<line x1="33.90" y1="544.55" x2="35.50" y2="544.55" stroke="#231f20" stroke-width="0.8"/>
<line x1="33.90" y1="531.95" x2="35.50" y2="531.95" stroke="#231f20" stroke-width="0.8"/>
<line x1="33.90" y1="519.35" x2="35.50" y2="519.35" stroke="#231f20" stroke-width="0.8"/>
<line x1="33.90" y1="506.75" x2="35.50" y2="506.75" stroke="#231f20" stroke-width="0.8"/>
<line x1="33.90" y1="494.15" x2="35.50" y2="494.15" stroke="#231f20" stroke-width="0.8"/>
<line x1="33.90" y1="481.55" x2="35.50" y2="481.55" stroke="#231f20" stroke-width="0.8"/>
<line x1="33.90" y1="468.95" x2="35.50" y2="468.95" stroke="#231f20" stroke-width="0.8"/>
<line x1="33.90" y1="456.35" x2="35.50" y2="456.35" stroke="#231f20" stroke-width="0.8"/>
<line x1="35.50" y1="551.30" x2="221.30" y2="551.30" stroke="#231f20" stroke-width="1"/>
<line x1="51.25" y1="551.30" x2="51.25" y2="553.80" stroke="#231f20" stroke-width="1"/>
<text x="51.25" y="563.01" font-size="8.36" text-anchor="middle" fill="#231f20" textLength="4.4" lengthAdjust="spacingAndGlyphs" >0</text>
<line x1="83.75" y1="551.30" x2="83.75" y2="553.80" stroke="#231f20" stroke-width="1"/>
<text x="83.75" y="563.01" font-size="8.36" text-anchor="middle" fill="#231f20" textLength="13.19" lengthAdjust="spacingAndGlyphs" >100</text>
<line x1="116.25" y1="551.30" x2="116.25" y2="553.80" stroke="#231f20" stroke-width="1"/>
<text x="116.25" y="563.01" font-size="8.36" text-anchor="middle" fill="#231f20" textLength="13.19" lengthAdjust="spacingAndGlyphs" >200</text>
<line x1="148.75" y1="551.30" x2="148.75" y2="553.80" stroke="#231f20" stroke-width="1"/>
<text x="148.75" y="563.01" font-size="8.36" text-anchor="middle" fill="#231f20" textLength="13.19" lengthAdjust="spacingAndGlyphs" >300</text>
<line x1="181.25" y1="551.30" x2="181.25" y2="553.80" stroke="#231f20" stroke-width="1"/>
<text x="181.25" y="563.01" font-size="8.36" text-anchor="middle" fill="#231f20" textLength="13.19" lengthAdjust="spacingAndGlyphs" >400</text>
<line x1="213.75" y1="551.30" x2="213.75" y2="553.80" stroke="#231f20" stroke-width="1"/>
<text x="213.75" y="563.01" font-size="8.36" text-anchor="middle" fill="#231f20" textLength="13.19" lengthAdjust="spacingAndGlyphs" >500</text>
<line x1="67.50" y1="551.30" x2="67.50" y2="552.80" stroke="#231f20" stroke-width="0.8"/>
<line x1="100.00" y1="551.30" x2="100.00" y2="552.80" stroke="#231f20" stroke-width="0.8"/>
<line x1="132.50" y1="551.30" x2="132.50" y2="552.80" stroke="#231f20" stroke-width="0.8"/>
<line x1="165.00" y1="551.30" x2="165.00" y2="552.80" stroke="#231f20" stroke-width="0.8"/>
<line x1="197.50" y1="551.30" x2="197.50" y2="552.80" stroke="#231f20" stroke-width="0.8"/>
<text x="128.00" y="574.39" font-size="8.58" text-anchor="middle" fill="#231f20" textLength="38" lengthAdjust="spacingAndGlyphs" >Time (sec)</text>
<text x="11.50" y="510.59" font-size="8.58" text-anchor="middle" fill="#231f20" textLength="48" lengthAdjust="spacingAndGlyphs" transform="rotate(-90 11.50 507.50)" >Response (RU)</text>
<text x="55.00" y="471.09" font-size="8.58" text-anchor="start" fill="#231f20" textLength="49" lengthAdjust="spacingAndGlyphs" >Without Mn<tspan font-size="72%" dx="0.4" dy="-0.56em" style="stroke-width:0.1px">2+</tspan><tspan dy="0.403em">​</tspan></text>
<text x="122.50" y="469.39" font-size="8.58" text-anchor="start" fill="#231f20" textLength="49" lengthAdjust="spacingAndGlyphs" >Kd = 38.7 nM</text>
<path d="M35.5,538.1 35.9,538.2 36.3,538.3 36.7,538.4 37.1,538.5 37.6,538.5 38.0,538.5 38.4,538.3 38.8,538.4 39.2,538.4 39.6,538.3 40.0,538.3 40.4,538.4 40.8,538.3 41.2,538.4 41.7,538.5 42.1,538.7 42.5,538.6 42.9,538.6 43.3,538.4 43.7,538.3 44.1,538.3 44.5,538.3 44.9,538.4 45.3,538.4 45.8,538.4 46.2,538.4 46.6,538.5 47.0,538.3 47.4,538.3 47.8,538.4 48.2,538.4 48.6,538.3 49.0,538.4 49.4,538.3 49.9,538.4 50.3,538.5 50.7,538.4 51.1,538.2 51.5,538.2 51.9,537.6 52.3,536.2 52.7,535.1 53.1,534.4 53.5,533.4 54.0,532.6 54.4,532.0 54.8,531.6 55.2,531.1 55.6,530.7 56.0,530.2 56.4,529.7 56.8,529.1 57.2,528.7 57.6,528.3 58.1,528.0 58.5,527.7 58.9,527.3 59.3,527.0 59.7,526.8 60.1,526.6 60.5,526.4 60.9,526.1 61.3,525.9 61.7,525.7 62.2,525.4 62.6,525.3 63.0,525.3 63.4,525.0 63.8,524.7 64.2,524.6 64.6,524.4 65.0,524.3 65.4,524.2 65.8,524.1 66.3,524.0 66.7,523.9 67.1,523.7 67.5,523.7 67.9,523.6 68.3,523.5 68.7,523.6 69.1,523.4 69.5,523.3 70.0,523.3 70.4,523.1 70.8,522.9 71.2,523.0 71.6,523.0 72.0,522.6 72.4,522.6 72.8,522.4 73.2,522.2 73.6,522.0 74.1,522.1 74.5,521.9 74.9,522.0 75.3,521.9 75.7,521.8 76.1,521.8 76.5,521.8 76.9,521.6 77.3,521.7 77.7,521.6 78.2,521.6 78.6,521.5 79.0,521.6 79.4,521.4 79.8,521.4 80.2,521.2 80.6,521.3 81.0,521.2 81.4,521.1 81.8,521.1 82.3,521.1 82.7,521.0 83.1,521.0 83.5,520.8 83.9,520.8 84.3,520.9 84.7,520.8 85.1,520.7 85.5,520.8 85.9,520.8 86.4,520.7 86.8,520.6 87.2,520.6 87.6,520.6 88.0,520.5 88.4,520.4 88.8,520.4 89.2,520.3 89.6,520.3 90.0,520.1 90.5,520.1 90.9,520.2 91.3,520.3 91.7,520.1 92.1,520.4 92.5,520.3 92.9,520.1 93.3,520.2 93.7,520.2 94.1,520.0 94.6,520.0 95.0,519.9 95.4,519.7 95.8,519.7 96.2,519.5 96.6,519.7 97.0,519.7 97.4,519.7 97.8,519.7 98.2,519.8 98.7,519.9 99.1,519.8 99.5,520.0 99.9,520.1 100.3,520.1 100.7,520.0 101.1,519.9 101.5,519.8 101.9,519.7 102.3,519.6 102.8,519.4 103.2,519.5 103.6,519.4 104.0,519.4 104.4,519.4 104.8,519.6 105.2,519.6 105.6,519.6 106.0,519.8 106.5,519.6 106.9,519.4 107.3,519.4 107.7,519.4 108.1,519.1 108.5,519.2 108.9,519.3 109.3,519.2 109.7,519.4 110.1,519.5 110.6,520.0 111.0,520.4 111.4,520.9 111.8,521.3 112.2,521.8 112.6,522.1 113.0,522.5 113.4,522.8 113.8,522.8 114.2,523.0 114.7,523.0 115.1,523.2 115.5,523.2 115.9,523.3 116.3,523.4 116.7,523.6 117.1,523.7 117.5,523.8 117.9,524.0 118.3,524.1 118.8,524.1 119.2,524.0 119.6,524.2 120.0,524.2 120.4,524.1 120.8,524.2 121.2,524.4 121.6,524.4 122.0,524.5 122.4,524.6 122.9,524.8 123.3,524.8 123.7,525.0 124.1,525.0 124.5,525.1 124.9,525.1 125.3,525.3 125.7,525.2 126.1,525.2 126.5,525.2 127.0,525.3 127.4,525.3 127.8,525.4 128.2,525.4 128.6,525.3 129.0,525.4 129.4,525.5 129.8,525.6 130.2,525.6 130.6,525.7 131.1,525.6 131.5,525.6 131.9,525.8 132.3,525.9 132.7,526.0 133.1,526.2 133.5,526.2 133.9,526.2 134.3,526.2 134.7,526.3 135.2,526.1 135.6,526.3 136.0,526.3 136.4,526.2 136.8,526.0 137.2,526.1 137.6,526.2 138.0,526.2 138.4,526.4 138.9,526.7 139.3,526.8 139.7,526.7 140.1,526.7 140.5,526.7 140.9,526.7 141.3,526.7 141.7,526.8 142.1,526.9 142.5,527.0 143.0,527.0 143.4,527.1 143.8,526.9 144.2,527.0 144.6,526.8 145.0,526.8 145.4,526.7 145.8,526.9 146.2,526.9 146.6,527.0 147.1,527.1 147.5,527.2 147.9,527.1 148.3,527.0 148.7,527.0 149.1,527.1 149.5,527.0 149.9,527.1 150.3,527.3 150.7,527.3 151.2,527.4 151.6,527.6 152.0,527.6 152.4,527.6 152.8,527.8 153.2,527.6 153.6,527.5 154.0,527.6 154.4,527.7 154.8,527.6 155.3,527.7 155.7,527.8 156.1,527.6 156.5,527.6 156.9,527.6 157.3,527.5 157.7,527.6 158.1,527.7 158.5,527.9 158.9,527.8 159.4,527.9 159.8,527.8 160.2,527.7 160.6,527.8 161.0,527.9 161.4,527.9 161.8,528.0 162.2,528.2 162.6,528.2 163.0,528.2 163.5,528.3 163.9,528.3 164.3,528.2 164.7,528.1 165.1,528.1 165.5,528.2 165.9,528.2 166.3,528.4 166.7,528.5 167.1,528.5 167.6,528.4 168.0,528.5 168.4,528.3 168.8,528.3 169.2,528.4 169.6,528.4 170.0,528.4 170.4,528.5 170.8,528.4 171.2,528.5 171.7,528.5 172.1,528.6 172.5,528.5 172.9,528.7 173.3,528.7 173.7,528.9 174.1,528.9 174.5,529.0 174.9,529.1 175.4,529.1 175.8,529.0 176.2,529.0 176.6,529.1 177.0,529.0 177.4,529.0 177.8,528.9 178.2,529.0 178.6,528.9 179.0,528.7 179.5,528.7 179.9,529.0 180.3,528.9 180.7,529.0 181.1,529.2 181.5,529.2 181.9,529.0 182.3,528.9 182.7,529.0 183.1,529.0 183.6,529.0 184.0,529.0 184.4,528.9 184.8,528.9 185.2,528.9 185.6,529.0 186.0,529.2 186.4,529.3 186.8,529.2 187.2,529.2 187.7,529.3 188.1,529.3 188.5,529.4 188.9,529.5 189.3,529.3 189.7,529.1 190.1,529.3 190.5,529.1 190.9,529.3 191.3,529.4 191.8,529.6 192.2,529.7 192.6,529.8 193.0,529.8 193.4,529.7 193.8,529.7 194.2,529.5 194.6,529.5 195.0,529.6 195.4,529.8 195.9,529.8 196.3,529.8 196.7,529.9 197.1,529.7 197.5,529.6 197.9,529.6 198.3,529.6 198.7,529.7 199.1,529.7 199.5,529.7 200.0,529.8 200.4,530.0 200.8,529.9 201.2,530.0 201.6,530.0 202.0,530.0 202.4,529.9 202.8,529.9 203.2,529.9 203.6,530.1 204.1,530.1 204.5,530.1 204.9,530.1 205.3,530.2 205.7,530.1 206.1,530.0 206.5,530.1 206.9,530.1 207.3,529.9 207.8,529.9" fill="none" stroke="#d3163a" stroke-width="1.1" stroke-linejoin="round" />
<line x1="110.25" y1="517.88" x2="110.25" y2="522.38" stroke="#d3163a" stroke-width="1.0"/>
<path d="M35.5,538.1 35.9,538.3 36.3,538.3 36.7,538.3 37.1,538.4 37.6,538.2 38.0,538.1 38.4,538.3 38.8,538.2 39.2,538.3 39.6,538.2 40.0,538.3 40.4,538.2 40.8,538.2 41.2,538.3 41.7,538.4 42.1,538.4 42.5,538.5 42.9,538.6 43.3,538.5 43.7,538.5 44.1,538.4 44.5,538.3 44.9,538.3 45.3,538.3 45.8,538.4 46.2,538.5 46.6,538.3 47.0,538.2 47.4,538.1 47.8,538.0 48.2,538.0 48.6,538.1 49.0,538.2 49.4,538.2 49.9,538.2 50.3,538.2 50.7,538.3 51.1,538.2 51.5,538.3 51.9,537.6 52.3,536.0 52.7,534.4 53.1,533.3 53.5,532.2 54.0,531.2 54.4,530.2 54.8,529.4 55.2,528.5 55.6,527.7 56.0,527.1 56.4,526.8 56.8,526.2 57.2,525.7 57.6,525.4 58.1,524.9 58.5,524.1 58.9,523.7 59.3,523.5 59.7,523.0 60.1,522.7 60.5,522.5 60.9,522.3 61.3,522.1 61.7,521.9 62.2,521.6 62.6,521.4 63.0,521.2 63.4,521.0 63.8,520.8 64.2,520.6 64.6,520.4 65.0,520.1 65.4,520.0 65.8,519.9 66.3,519.9 66.7,519.8 67.1,519.8 67.5,519.7 67.9,519.5 68.3,519.3 68.7,519.0 69.1,518.8 69.5,518.6 70.0,518.3 70.4,518.1 70.8,518.2 71.2,518.1 71.6,518.1 72.0,518.1 72.4,518.0 72.8,517.8 73.2,517.8 73.6,517.6 74.1,517.6 74.5,517.6 74.9,517.4 75.3,517.3 75.7,517.2 76.1,517.1 76.5,516.9 76.9,516.9 77.3,516.8 77.7,516.9 78.2,516.7 78.6,516.6 79.0,516.4 79.4,516.4 79.8,516.2 80.2,516.3 80.6,516.3 81.0,516.4 81.4,516.2 81.8,516.2 82.3,515.9 82.7,515.6 83.1,515.6 83.5,515.8 83.9,515.7 84.3,515.7 84.7,515.9 85.1,515.7 85.5,515.5 85.9,515.5 86.4,515.5 86.8,515.2 87.2,515.3 87.6,515.2 88.0,515.2 88.4,515.0 88.8,515.0 89.2,515.0 89.6,514.9 90.0,514.8 90.5,514.9 90.9,515.1 91.3,515.0 91.7,515.0 92.1,515.0 92.5,515.1 92.9,514.9 93.3,514.8 93.7,514.7 94.1,514.6 94.6,514.6 95.0,514.6 95.4,514.6 95.8,514.6 96.2,514.4 96.6,514.5 97.0,514.4 97.4,514.2 97.8,514.4 98.2,514.4 98.7,514.2 99.1,514.2 99.5,514.2 99.9,514.0 100.3,514.1 100.7,514.1 101.1,514.2 101.5,514.3 101.9,514.5 102.3,514.4 102.8,514.4 103.2,514.2 103.6,514.2 104.0,513.9 104.4,513.9 104.8,513.9 105.2,513.9 105.6,513.8 106.0,513.7 106.5,513.7 106.9,513.7 107.3,513.7 107.7,513.8 108.1,514.0 108.5,513.9 108.9,513.9 109.3,513.9 109.7,513.9 110.1,513.8 110.6,514.1 111.0,514.8 111.4,515.2 111.8,515.6 112.2,516.0 112.6,516.5 113.0,516.8 113.4,517.4 113.8,517.8 114.2,518.1 114.7,518.3 115.1,518.6 115.5,518.6 115.9,518.6 116.3,518.7 116.7,518.8 117.1,518.8 117.5,519.0 117.9,519.2 118.3,519.1 118.8,519.3 119.2,519.5 119.6,519.6 120.0,519.6 120.4,519.8 120.8,519.9 121.2,520.1 121.6,520.1 122.0,520.3 122.4,520.4 122.9,520.4 123.3,520.2 123.7,520.3 124.1,520.2 124.5,520.2 124.9,520.4 125.3,520.5 125.7,520.6 126.1,520.8 126.5,521.0 127.0,520.8 127.4,520.8 127.8,520.9 128.2,521.0 128.6,520.9 129.0,521.0 129.4,521.1 129.8,521.1 130.2,521.2 130.6,521.3 131.1,521.3 131.5,521.5 131.9,521.5 132.3,521.5 132.7,521.6 133.1,521.6 133.5,521.7 133.9,521.8 134.3,521.8 134.7,521.9 135.2,522.0 135.6,521.9 136.0,521.9 136.4,521.9 136.8,521.8 137.2,521.8 137.6,522.0 138.0,522.1 138.4,522.3 138.9,522.4 139.3,522.5 139.7,522.5 140.1,522.6 140.5,522.7 140.9,522.7 141.3,522.7 141.7,522.6 142.1,522.5 142.5,522.5 143.0,522.6 143.4,522.6 143.8,522.9 144.2,523.0 144.6,523.0 145.0,523.0 145.4,523.0 145.8,523.1 146.2,523.0 146.6,523.2 147.1,523.2 147.5,523.2 147.9,523.3 148.3,523.4 148.7,523.4 149.1,523.5 149.5,523.5 149.9,523.5 150.3,523.3 150.7,523.3 151.2,523.3 151.6,523.3 152.0,523.3 152.4,523.4 152.8,523.5 153.2,523.5 153.6,523.6 154.0,523.7 154.4,523.8 154.8,523.9 155.3,523.9 155.7,523.9 156.1,523.7 156.5,523.6 156.9,523.7 157.3,523.7 157.7,523.7 158.1,523.9 158.5,524.0 158.9,524.0 159.4,524.0 159.8,524.2 160.2,524.3 160.6,524.5 161.0,524.5 161.4,524.6 161.8,524.6 162.2,524.5 162.6,524.4 163.0,524.4 163.5,524.3 163.9,524.3 164.3,524.3 164.7,524.5 165.1,524.5 165.5,524.6 165.9,524.6 166.3,524.6 166.7,524.5 167.1,524.6 167.6,524.5 168.0,524.4 168.4,524.4 168.8,524.5 169.2,524.6 169.6,524.7 170.0,524.9 170.4,525.0 170.8,524.9 171.2,524.8 171.7,524.8 172.1,524.8 172.5,524.9 172.9,524.8 173.3,525.0 173.7,525.1 174.1,525.4 174.5,525.3 174.9,525.4 175.4,525.4 175.8,525.6 176.2,525.5 176.6,525.4 177.0,525.5 177.4,525.6 177.8,525.5 178.2,525.4 178.6,525.5 179.0,525.5 179.5,525.4 179.9,525.4 180.3,525.4 180.7,525.6 181.1,525.6 181.5,525.6 181.9,525.8 182.3,525.8 182.7,525.8 183.1,525.7 183.6,525.8 184.0,525.7 184.4,525.9 184.8,525.8 185.2,525.9 185.6,525.9 186.0,525.9 186.4,525.9 186.8,525.9 187.2,525.9 187.7,525.8 188.1,525.9 188.5,525.9 188.9,526.0 189.3,525.9 189.7,526.0 190.1,526.0 190.5,526.0 190.9,525.9 191.3,526.0 191.8,526.0 192.2,526.0 192.6,526.0 193.0,526.0 193.4,526.1 193.8,526.2 194.2,526.3 194.6,526.3 195.0,526.4 195.4,526.5 195.9,526.3 196.3,526.3 196.7,526.2 197.1,526.2 197.5,526.2 197.9,526.3 198.3,526.4 198.7,526.6 199.1,526.6 199.5,526.6 200.0,526.6 200.4,526.6 200.8,526.6 201.2,526.8 201.6,526.7 202.0,526.6 202.4,526.6 202.8,526.5 203.2,526.4 203.6,526.5 204.1,526.6 204.5,526.7 204.9,526.9 205.3,526.9 205.7,526.8 206.1,526.7 206.5,526.7 206.9,526.6 207.3,526.6 207.8,526.6" fill="none" stroke="#1d5a9a" stroke-width="1.1" stroke-linejoin="round" />
<line x1="110.25" y1="512.24" x2="110.25" y2="516.74" stroke="#1d5a9a" stroke-width="1.0"/>
<path d="M35.5,538.3 35.9,538.2 36.3,538.1 36.7,538.1 37.1,538.1 37.6,538.1 38.0,538.2 38.4,538.1 38.8,538.2 39.2,538.1 39.6,538.0 40.0,538.0 40.4,538.1 40.8,538.2 41.2,538.3 41.7,538.4 42.1,538.4 42.5,538.6 42.9,538.5 43.3,538.4 43.7,538.5 44.1,538.4 44.5,538.2 44.9,538.1 45.3,538.2 45.8,538.1 46.2,538.3 46.6,538.4 47.0,538.3 47.4,538.4 47.8,538.4 48.2,538.2 48.6,538.2 49.0,538.3 49.4,538.2 49.9,538.3 50.3,538.2 50.7,538.3 51.1,538.2 51.5,538.3 51.9,537.4 52.3,535.3 52.7,533.3 53.1,531.6 53.5,529.9 54.0,528.4 54.4,527.2 54.8,526.1 55.2,525.0 55.6,524.0 56.0,523.1 56.4,522.2 56.8,521.3 57.2,520.6 57.6,519.9 58.1,519.5 58.5,518.9 58.9,518.3 59.3,517.9 59.7,517.5 60.1,516.9 60.5,516.7 60.9,516.2 61.3,516.0 61.7,515.7 62.2,515.6 62.6,515.2 63.0,515.1 63.4,514.8 63.8,514.4 64.2,514.0 64.6,513.8 65.0,513.4 65.4,513.1 65.8,512.7 66.3,512.6 66.7,512.2 67.1,512.0 67.5,512.0 67.9,511.8 68.3,511.5 68.7,511.6 69.1,511.5 69.5,511.1 70.0,510.8 70.4,510.6 70.8,510.4 71.2,510.2 71.6,510.2 72.0,510.2 72.4,509.9 72.8,509.8 73.2,509.7 73.6,509.7 74.1,509.4 74.5,509.5 74.9,509.3 75.3,509.1 75.7,508.9 76.1,508.9 76.5,508.7 76.9,508.5 77.3,508.4 77.7,508.2 78.2,508.1 78.6,508.1 79.0,507.9 79.4,507.8 79.8,507.7 80.2,507.7 80.6,507.6 81.0,507.7 81.4,507.6 81.8,507.7 82.3,507.4 82.7,507.2 83.1,507.0 83.5,507.0 83.9,506.9 84.3,506.9 84.7,507.0 85.1,507.0 85.5,506.8 85.9,506.7 86.4,506.6 86.8,506.5 87.2,506.4 87.6,506.4 88.0,506.4 88.4,506.4 88.8,506.2 89.2,506.2 89.6,506.0 90.0,505.8 90.5,505.7 90.9,505.7 91.3,505.6 91.7,505.8 92.1,505.7 92.5,505.7 92.9,505.6 93.3,505.6 93.7,505.5 94.1,505.6 94.6,505.6 95.0,505.6 95.4,505.4 95.8,505.3 96.2,505.2 96.6,505.0 97.0,505.1 97.4,505.2 97.8,505.2 98.2,505.1 98.7,505.1 99.1,505.0 99.5,504.8 99.9,504.7 100.3,504.7 100.7,504.7 101.1,504.7 101.5,504.6 101.9,504.5 102.3,504.6 102.8,504.6 103.2,504.6 103.6,504.6 104.0,504.6 104.4,504.5 104.8,504.3 105.2,504.2 105.6,504.2 106.0,504.1 106.5,504.2 106.9,504.2 107.3,504.1 107.7,504.1 108.1,504.3 108.5,504.3 108.9,504.4 109.3,504.4 109.7,504.4 110.1,504.3 110.6,505.1 111.0,506.4 111.4,507.3 111.8,508.1 112.2,508.8 112.6,509.5 113.0,509.9 113.4,510.5 113.8,510.8 114.2,511.4 114.7,511.8 115.1,512.0 115.5,512.3 115.9,512.6 116.3,512.6 116.7,512.8 117.1,513.1 117.5,513.2 117.9,513.4 118.3,513.7 118.8,513.8 119.2,514.0 119.6,514.1 120.0,514.2 120.4,514.2 120.8,514.4 121.2,514.5 121.6,514.5 122.0,514.8 122.4,515.0 122.9,515.0 123.3,515.1 123.7,515.2 124.1,515.2 124.5,515.1 124.9,515.4 125.3,515.3 125.7,515.4 126.1,515.4 126.5,515.6 127.0,515.7 127.4,515.7 127.8,515.7 128.2,515.9 128.6,515.8 129.0,515.7 129.4,515.8 129.8,515.9 130.2,515.9 130.6,516.0 131.1,516.3 131.5,516.4 131.9,516.5 132.3,516.7 132.7,516.6 133.1,516.5 133.5,516.5 133.9,516.4 134.3,516.5 134.7,516.7 135.2,516.7 135.6,516.8 136.0,516.8 136.4,516.9 136.8,516.9 137.2,517.0 137.6,517.0 138.0,517.0 138.4,517.0 138.9,516.9 139.3,517.1 139.7,517.2 140.1,517.2 140.5,517.2 140.9,517.3 141.3,517.3 141.7,517.3 142.1,517.3 142.5,517.4 143.0,517.5 143.4,517.5 143.8,517.5 144.2,517.8 144.6,517.9 145.0,517.9 145.4,517.8 145.8,517.9 146.2,517.7 146.6,517.8 147.1,517.8 147.5,518.0 147.9,518.2 148.3,518.3 148.7,518.2 149.1,518.4 149.5,518.3 149.9,518.1 150.3,518.1 150.7,518.2 151.2,518.1 151.6,518.1 152.0,518.3 152.4,518.2 152.8,518.2 153.2,518.1 153.6,518.1 154.0,518.1 154.4,518.3 154.8,518.4 155.3,518.6 155.7,518.7 156.1,518.7 156.5,518.7 156.9,518.7 157.3,518.8 157.7,518.8 158.1,518.9 158.5,519.0 158.9,519.0 159.4,519.0 159.8,519.1 160.2,519.0 160.6,519.0 161.0,518.8 161.4,518.8 161.8,518.9 162.2,519.0 162.6,519.1 163.0,519.2 163.5,519.3 163.9,519.1 164.3,519.0 164.7,519.0 165.1,519.0 165.5,519.0 165.9,519.1 166.3,519.1 166.7,519.1 167.1,519.0 167.6,519.1 168.0,519.1 168.4,519.3 168.8,519.5 169.2,519.5 169.6,519.6 170.0,519.4 170.4,519.3 170.8,519.4 171.2,519.5 171.7,519.6 172.1,519.7 172.5,519.8 172.9,519.7 173.3,519.7 173.7,519.7 174.1,519.7 174.5,519.7 174.9,519.7 175.4,519.8 175.8,519.7 176.2,519.8 176.6,519.8 177.0,519.9 177.4,519.8 177.8,519.9 178.2,519.8 178.6,519.9 179.0,519.9 179.5,519.8 179.9,519.9 180.3,519.9 180.7,520.0 181.1,520.1 181.5,520.1 181.9,520.1 182.3,520.1 182.7,520.1 183.1,520.2 183.6,520.4 184.0,520.3 184.4,520.4 184.8,520.2 185.2,520.1 185.6,520.1 186.0,520.2 186.4,520.2 186.8,520.4 187.2,520.4 187.7,520.4 188.1,520.4 188.5,520.3 188.9,520.2 189.3,520.2 189.7,520.2 190.1,520.4 190.5,520.5 190.9,520.6 191.3,520.5 191.8,520.6 192.2,520.6 192.6,520.6 193.0,520.5 193.4,520.6 193.8,520.5 194.2,520.5 194.6,520.5 195.0,520.7 195.4,520.7 195.9,520.6 196.3,520.7 196.7,520.8 197.1,520.7 197.5,520.6 197.9,520.8 198.3,520.8 198.7,520.7 199.1,520.9 199.5,521.0 200.0,520.9 200.4,520.9 200.8,520.9 201.2,520.9 201.6,520.9 202.0,520.7 202.4,520.7 202.8,520.9 203.2,521.0 203.6,521.2 204.1,521.4 204.5,521.6 204.9,521.5 205.3,521.4 205.7,521.3 206.1,521.2 206.5,521.2 206.9,521.1 207.3,521.2 207.8,521.1" fill="none" stroke="#3cb64b" stroke-width="1.1" stroke-linejoin="round" />
<line x1="110.25" y1="502.74" x2="110.25" y2="507.24" stroke="#3cb64b" stroke-width="1.0"/>
<path d="M35.5,538.2 35.9,538.3 36.3,538.3 36.7,538.2 37.1,538.3 37.6,538.3 38.0,538.3 38.4,538.2 38.8,538.1 39.2,538.0 39.6,538.0 40.0,538.0 40.4,538.2 40.8,538.3 41.2,538.4 41.7,538.4 42.1,538.4 42.5,538.2 42.9,538.2 43.3,538.2 43.7,538.2 44.1,538.1 44.5,538.2 44.9,538.3 45.3,538.3 45.8,538.3 46.2,538.4 46.6,538.4 47.0,538.3 47.4,538.2 47.8,538.2 48.2,538.1 48.6,538.2 49.0,538.2 49.4,538.3 49.9,538.3 50.3,538.3 50.7,538.2 51.1,538.3 51.5,538.4 51.9,537.2 52.3,534.3 52.7,531.7 53.1,529.2 53.5,527.0 54.0,525.0 54.4,523.2 54.8,521.5 55.2,520.0 55.6,518.6 56.0,517.4 56.4,516.3 56.8,515.1 57.2,514.2 57.6,513.4 58.1,512.6 58.5,511.7 58.9,511.1 59.3,510.4 59.7,509.8 60.1,509.2 60.5,508.5 60.9,507.9 61.3,507.5 61.7,507.0 62.2,506.5 62.6,506.1 63.0,505.8 63.4,505.3 63.8,504.9 64.2,504.5 64.6,504.2 65.0,503.9 65.4,503.6 65.8,503.3 66.3,503.0 66.7,502.9 67.1,502.7 67.5,502.5 67.9,502.2 68.3,502.0 68.7,501.7 69.1,501.4 69.5,501.0 70.0,500.8 70.4,500.5 70.8,500.3 71.2,500.1 71.6,499.9 72.0,499.9 72.4,499.7 72.8,499.6 73.2,499.4 73.6,499.2 74.1,499.0 74.5,498.9 74.9,498.5 75.3,498.4 75.7,498.3 76.1,498.0 76.5,497.8 76.9,497.8 77.3,497.6 77.7,497.5 78.2,497.4 78.6,497.3 79.0,497.0 79.4,496.7 79.8,496.5 80.2,496.4 80.6,496.4 81.0,496.4 81.4,496.4 81.8,496.2 82.3,495.9 82.7,495.8 83.1,495.6 83.5,495.5 83.9,495.5 84.3,495.4 84.7,495.3 85.1,495.1 85.5,494.8 85.9,494.7 86.4,494.6 86.8,494.4 87.2,494.3 87.6,494.4 88.0,494.5 88.4,494.6 88.8,494.6 89.2,494.6 89.6,494.5 90.0,494.3 90.5,494.0 90.9,494.0 91.3,493.7 91.7,493.8 92.1,493.6 92.5,493.6 92.9,493.5 93.3,493.6 93.7,493.3 94.1,493.3 94.6,493.2 95.0,493.3 95.4,493.1 95.8,493.1 96.2,493.0 96.6,492.9 97.0,492.9 97.4,492.9 97.8,492.8 98.2,492.8 98.7,492.7 99.1,492.7 99.5,492.8 99.9,492.8 100.3,492.9 100.7,492.8 101.1,492.8 101.5,492.6 101.9,492.6 102.3,492.4 102.8,492.4 103.2,492.2 103.6,492.2 104.0,492.3 104.4,492.3 104.8,492.2 105.2,492.2 105.6,492.2 106.0,492.0 106.5,492.0 106.9,492.0 107.3,492.0 107.7,492.0 108.1,491.9 108.5,491.9 108.9,491.8 109.3,491.8 109.7,491.7 110.1,491.8 110.6,493.6 111.0,495.6 111.4,497.4 111.8,498.9 112.2,500.3 112.6,501.3 113.0,502.3 113.4,503.0 113.8,503.5 114.2,504.0 114.7,504.6 115.1,505.1 115.5,505.7 115.9,506.3 116.3,506.7 116.7,507.1 117.1,507.2 117.5,507.4 117.9,507.5 118.3,507.6 118.8,507.8 119.2,508.0 119.6,508.2 120.0,508.4 120.4,508.6 120.8,508.6 121.2,508.9 121.6,509.1 122.0,509.2 122.4,509.1 122.9,509.1 123.3,509.1 123.7,509.3 124.1,509.4 124.5,509.5 124.9,509.7 125.3,509.9 125.7,509.8 126.1,510.0 126.5,510.2 127.0,510.3 127.4,510.3 127.8,510.4 128.2,510.2 128.6,510.2 129.0,510.3 129.4,510.4 129.8,510.5 130.2,510.9 130.6,510.9 131.1,510.8 131.5,511.0 131.9,511.0 132.3,510.8 132.7,511.0 133.1,511.1 133.5,511.2 133.9,511.3 134.3,511.5 134.7,511.5 135.2,511.4 135.6,511.5 136.0,511.4 136.4,511.4 136.8,511.5 137.2,511.6 137.6,511.5 138.0,511.7 138.4,511.6 138.9,511.7 139.3,511.7 139.7,511.7 140.1,511.6 140.5,511.8 140.9,511.9 141.3,512.0 141.7,512.1 142.1,512.2 142.5,512.2 143.0,512.2 143.4,512.1 143.8,512.2 144.2,512.1 144.6,512.0 145.0,512.1 145.4,512.1 145.8,512.1 146.2,512.2 146.6,512.3 147.1,512.3 147.5,512.4 147.9,512.5 148.3,512.4 148.7,512.5 149.1,512.4 149.5,512.4 149.9,512.6 150.3,512.7 150.7,512.8 151.2,512.8 151.6,512.9 152.0,512.9 152.4,513.0 152.8,512.8 153.2,513.0 153.6,512.9 154.0,512.9 154.4,512.7 154.8,512.9 155.3,513.1 155.7,513.2 156.1,513.0 156.5,513.1 156.9,513.2 157.3,513.0 157.7,513.0 158.1,513.2 158.5,513.1 158.9,513.0 159.4,513.1 159.8,513.2 160.2,513.2 160.6,513.4 161.0,513.4 161.4,513.3 161.8,513.3 162.2,513.2 162.6,513.2 163.0,513.2 163.5,513.0 163.9,513.0 164.3,513.1 164.7,513.0 165.1,513.0 165.5,513.1 165.9,513.0 166.3,513.2 166.7,513.2 167.1,513.3 167.6,513.4 168.0,513.6 168.4,513.5 168.8,513.4 169.2,513.3 169.6,513.4 170.0,513.4 170.4,513.5 170.8,513.7 171.2,513.7 171.7,513.7 172.1,513.6 172.5,513.7 172.9,513.7 173.3,513.8 173.7,513.9 174.1,513.9 174.5,513.8 174.9,513.6 175.4,513.6 175.8,513.7 176.2,513.7 176.6,513.9 177.0,514.0 177.4,513.9 177.8,513.8 178.2,513.8 178.6,513.6 179.0,513.6 179.5,513.8 179.9,513.9 180.3,513.8 180.7,514.0 181.1,514.1 181.5,514.0 181.9,513.9 182.3,514.0 182.7,514.0 183.1,514.0 183.6,514.0 184.0,514.0 184.4,514.0 184.8,514.1 185.2,514.0 185.6,514.0 186.0,514.2 186.4,514.0 186.8,514.0 187.2,514.2 187.7,514.2 188.1,514.1 188.5,514.4 188.9,514.4 189.3,514.2 189.7,514.2 190.1,514.2 190.5,514.0 190.9,513.9 191.3,513.8 191.8,513.9 192.2,513.9 192.6,514.1 193.0,514.1 193.4,514.1 193.8,514.2 194.2,514.1 194.6,513.9 195.0,514.0 195.4,514.1 195.9,514.0 196.3,514.1 196.7,514.3 197.1,514.5 197.5,514.6 197.9,514.6 198.3,514.4 198.7,514.3 199.1,514.3 199.5,514.3 200.0,514.4 200.4,514.3 200.8,514.5 201.2,514.4 201.6,514.4 202.0,514.3 202.4,514.4 202.8,514.3 203.2,514.3 203.6,514.4 204.1,514.5 204.5,514.5 204.9,514.6 205.3,514.6 205.7,514.7 206.1,514.7 206.5,514.8 206.9,514.7 207.3,514.7 207.8,514.7" fill="none" stroke="#7a4a9e" stroke-width="1.1" stroke-linejoin="round" />
<line x1="110.25" y1="490.18" x2="110.25" y2="494.68" stroke="#7a4a9e" stroke-width="1.0"/>
<path d="M35.5,537.8 35.9,538.0 36.3,538.1 36.7,538.2 37.1,538.3 37.6,538.5 38.0,538.4 38.4,538.2 38.8,538.1 39.2,538.1 39.6,538.0 40.0,538.1 40.4,538.2 40.8,538.4 41.2,538.4 41.7,538.3 42.1,538.2 42.5,538.3 42.9,538.3 43.3,538.2 43.7,538.2 44.1,538.2 44.5,538.3 44.9,538.2 45.3,538.2 45.8,538.3 46.2,538.3 46.6,538.1 47.0,538.2 47.4,538.3 47.8,538.2 48.2,538.1 48.6,538.2 49.0,538.3 49.4,538.3 49.9,538.4 50.3,538.3 50.7,538.4 51.1,538.4 51.5,538.2 51.9,536.7 52.3,533.0 52.7,529.4 53.1,526.0 53.5,523.2 54.0,520.4 54.4,518.0 54.8,515.9 55.2,514.0 55.6,512.3 56.0,510.9 56.4,509.4 56.8,508.1 57.2,506.9 57.6,505.7 58.1,504.5 58.5,503.7 58.9,502.6 59.3,501.8 59.7,500.9 60.1,500.2 60.5,499.3 60.9,498.8 61.3,498.0 61.7,497.3 62.2,496.8 62.6,496.3 63.0,495.8 63.4,495.3 63.8,494.9 64.2,494.4 64.6,494.1 65.0,493.5 65.4,493.1 65.8,492.7 66.3,492.3 66.7,491.8 67.1,491.4 67.5,491.0 67.9,490.5 68.3,490.3 68.7,490.0 69.1,489.6 69.5,489.4 70.0,489.3 70.4,488.9 70.8,488.6 71.2,488.3 71.6,488.1 72.0,487.7 72.4,487.4 72.8,487.2 73.2,487.1 73.6,486.9 74.1,486.6 74.5,486.4 74.9,486.1 75.3,485.8 75.7,485.4 76.1,485.3 76.5,485.0 76.9,484.9 77.3,484.6 77.7,484.5 78.2,484.2 78.6,484.2 79.0,483.9 79.4,483.9 79.8,483.8 80.2,483.5 80.6,483.4 81.0,483.2 81.4,482.8 81.8,482.6 82.3,482.5 82.7,482.4 83.1,482.2 83.5,482.1 83.9,481.9 84.3,481.8 84.7,481.7 85.1,481.5 85.5,481.6 85.9,481.6 86.4,481.4 86.8,481.2 87.2,481.2 87.6,481.0 88.0,481.0 88.4,480.9 88.8,480.8 89.2,480.6 89.6,480.4 90.0,480.2 90.5,480.1 90.9,480.1 91.3,480.0 91.7,479.9 92.1,479.8 92.5,479.6 92.9,479.5 93.3,479.3 93.7,479.3 94.1,479.2 94.6,479.1 95.0,479.0 95.4,479.1 95.8,479.0 96.2,478.9 96.6,478.9 97.0,478.8 97.4,478.7 97.8,478.7 98.2,478.8 98.7,478.9 99.1,478.8 99.5,478.7 99.9,478.6 100.3,478.4 100.7,478.2 101.1,478.1 101.5,478.1 101.9,478.1 102.3,478.2 102.8,478.1 103.2,478.1 103.6,477.8 104.0,477.8 104.4,477.7 104.8,477.7 105.2,477.6 105.6,477.6 106.0,477.7 106.5,477.5 106.9,477.4 107.3,477.4 107.7,477.3 108.1,477.2 108.5,477.2 108.9,477.4 109.3,477.2 109.7,477.1 110.1,477.2 110.6,479.6 111.0,482.5 111.4,485.1 111.8,487.3 112.2,489.3 112.6,490.9 113.0,492.5 113.4,493.8 113.8,494.8 114.2,495.6 114.7,496.5 115.1,497.1 115.5,497.7 115.9,498.3 116.3,498.9 116.7,499.3 117.1,499.7 117.5,500.1 117.9,500.6 118.3,500.9 118.8,501.2 119.2,501.5 119.6,501.7 120.0,501.9 120.4,502.2 120.8,502.4 121.2,502.7 121.6,502.9 122.0,503.1 122.4,503.1 122.9,503.2 123.3,503.3 123.7,503.5 124.1,503.7 124.5,503.8 124.9,503.8 125.3,503.8 125.7,503.7 126.1,503.8 126.5,504.1 127.0,504.1 127.4,504.4 127.8,504.5 128.2,504.6 128.6,504.6 129.0,504.6 129.4,504.7 129.8,504.9 130.2,505.0 130.6,505.0 131.1,505.3 131.5,505.3 131.9,505.2 132.3,505.3 132.7,505.4 133.1,505.4 133.5,505.5 133.9,505.6 134.3,505.7 134.7,505.7 135.2,505.7 135.6,505.7 136.0,505.8 136.4,505.9 136.8,505.9 137.2,505.9 137.6,506.1 138.0,506.1 138.4,506.1 138.9,506.2 139.3,506.3 139.7,506.3 140.1,506.5 140.5,506.6 140.9,506.7 141.3,506.9 141.7,506.7 142.1,506.8 142.5,506.9 143.0,507.0 143.4,507.0 143.8,507.1 144.2,507.0 144.6,506.9 145.0,506.9 145.4,506.9 145.8,507.0 146.2,506.9 146.6,507.2 147.1,507.3 147.5,507.4 147.9,507.4 148.3,507.6 148.7,507.6 149.1,507.6 149.5,507.5 149.9,507.4 150.3,507.5 150.7,507.4 151.2,507.4 151.6,507.3 152.0,507.4 152.4,507.5 152.8,507.5 153.2,507.6 153.6,507.8 154.0,507.7 154.4,507.6 154.8,507.7 155.3,507.7 155.7,507.8 156.1,507.9 156.5,508.1 156.9,507.8 157.3,507.9 157.7,507.9 158.1,508.0 158.5,508.1 158.9,508.1 159.4,508.2 159.8,508.1 160.2,508.0 160.6,508.0 161.0,508.2 161.4,508.1 161.8,508.1 162.2,508.2 162.6,508.2 163.0,508.2 163.5,508.5 163.9,508.6 164.3,508.4 164.7,508.6 165.1,508.5 165.5,508.4 165.9,508.3 166.3,508.5 166.7,508.5 167.1,508.7 167.6,508.8 168.0,508.9 168.4,508.8 168.8,508.7 169.2,508.9 169.6,508.7 170.0,508.7 170.4,508.8 170.8,508.8 171.2,508.6 171.7,508.6 172.1,508.6 172.5,508.7 172.9,508.7 173.3,508.7 173.7,508.7 174.1,508.7 174.5,508.6 174.9,508.7 175.4,508.8 175.8,509.0 176.2,509.0 176.6,509.1 177.0,509.1 177.4,509.1 177.8,509.1 178.2,509.2 178.6,509.1 179.0,509.0 179.5,509.0 179.9,508.9 180.3,508.9 180.7,509.0 181.1,509.1 181.5,509.3 181.9,509.6 182.3,509.7 182.7,509.7 183.1,509.8 183.6,509.5 184.0,509.5 184.4,509.4 184.8,509.2 185.2,509.2 185.6,509.3 186.0,509.3 186.4,509.3 186.8,509.4 187.2,509.4 187.7,509.3 188.1,509.3 188.5,509.3 188.9,509.3 189.3,509.3 189.7,509.2 190.1,509.2 190.5,509.0 190.9,509.1 191.3,509.2 191.8,509.3 192.2,509.5 192.6,509.6 193.0,509.6 193.4,509.6 193.8,509.6 194.2,509.5 194.6,509.6 195.0,509.6 195.4,509.6 195.9,509.6 196.3,509.6 196.7,509.4 197.1,509.4 197.5,509.4 197.9,509.6 198.3,509.7 198.7,509.7 199.1,509.7 199.5,509.6 200.0,509.7 200.4,509.6 200.8,509.6 201.2,509.7 201.6,509.7 202.0,509.7 202.4,509.7 202.8,509.8 203.2,509.6 203.6,509.6 204.1,509.5 204.5,509.4 204.9,509.4 205.3,509.6 205.7,509.6 206.1,509.7 206.5,509.7 206.9,509.6 207.3,509.5 207.8,509.4" fill="none" stroke="#f6a03d" stroke-width="1.1" stroke-linejoin="round" />
<line x1="110.25" y1="464.16" x2="110.25" y2="485.16" stroke="#f6a03d" stroke-width="1.0"/>
<line x1="51.25" y1="538.25" x2="51.25" y2="551.00" stroke="#f6a03d" stroke-width="1.0"/>
<text x="210.00" y="496.81" font-size="8.36" text-anchor="start" fill="#231f20" textLength="20.5" lengthAdjust="spacingAndGlyphs" >µg/ml</text>
<text x="210.00" y="508.51" font-size="8.36" text-anchor="start" fill="#231f20" textLength="15" lengthAdjust="spacingAndGlyphs" >40.0</text>
<text x="210.00" y="516.01" font-size="8.36" text-anchor="start" fill="#231f20" textLength="15" lengthAdjust="spacingAndGlyphs" >20.0</text>
<text x="210.00" y="523.51" font-size="8.36" text-anchor="start" fill="#231f20" textLength="15" lengthAdjust="spacingAndGlyphs" >10.0</text>
<text x="210.00" y="530.51" font-size="8.36" text-anchor="start" fill="#231f20" textLength="11" lengthAdjust="spacingAndGlyphs" >5.0</text>
<text x="210.00" y="538.01" font-size="8.36" text-anchor="start" fill="#231f20" textLength="11" lengthAdjust="spacingAndGlyphs" >2.5</text>
<line x1="270.50" y1="452.00" x2="270.50" y2="550.00" stroke="#231f20" stroke-width="1"/>
<line x1="267.50" y1="550.00" x2="270.50" y2="550.00" stroke="#231f20" stroke-width="1"/>
<text x="267.00" y="552.37" font-size="8.25" text-anchor="end" fill="#231f20" textLength="8.89" lengthAdjust="spacingAndGlyphs" >−5</text>
<line x1="267.50" y1="537.50" x2="270.50" y2="537.50" stroke="#231f20" stroke-width="1"/>
<text x="267.00" y="539.87" font-size="8.25" text-anchor="end" fill="#231f20" textLength="4.34" lengthAdjust="spacingAndGlyphs" >0</text>
<line x1="267.50" y1="525.00" x2="270.50" y2="525.00" stroke="#231f20" stroke-width="1"/>
<text x="267.00" y="527.37" font-size="8.25" text-anchor="end" fill="#231f20" textLength="4.34" lengthAdjust="spacingAndGlyphs" >5</text>
<line x1="267.50" y1="512.50" x2="270.50" y2="512.50" stroke="#231f20" stroke-width="1"/>
<text x="267.00" y="514.87" font-size="8.25" text-anchor="end" fill="#231f20" textLength="8.68" lengthAdjust="spacingAndGlyphs" >10</text>
<line x1="267.50" y1="500.00" x2="270.50" y2="500.00" stroke="#231f20" stroke-width="1"/>
<text x="267.00" y="502.37" font-size="8.25" text-anchor="end" fill="#231f20" textLength="8.68" lengthAdjust="spacingAndGlyphs" >15</text>
<line x1="267.50" y1="487.50" x2="270.50" y2="487.50" stroke="#231f20" stroke-width="1"/>
<text x="267.00" y="489.87" font-size="8.25" text-anchor="end" fill="#231f20" textLength="8.68" lengthAdjust="spacingAndGlyphs" >20</text>
<line x1="267.50" y1="475.00" x2="270.50" y2="475.00" stroke="#231f20" stroke-width="1"/>
<text x="267.00" y="477.37" font-size="8.25" text-anchor="end" fill="#231f20" textLength="8.68" lengthAdjust="spacingAndGlyphs" >25</text>
<line x1="267.50" y1="462.50" x2="270.50" y2="462.50" stroke="#231f20" stroke-width="1"/>
<text x="267.00" y="464.87" font-size="8.25" text-anchor="end" fill="#231f20" textLength="8.68" lengthAdjust="spacingAndGlyphs" >30</text>
<line x1="268.90" y1="543.75" x2="270.50" y2="543.75" stroke="#231f20" stroke-width="0.8"/>
<line x1="268.90" y1="531.25" x2="270.50" y2="531.25" stroke="#231f20" stroke-width="0.8"/>
<line x1="268.90" y1="518.75" x2="270.50" y2="518.75" stroke="#231f20" stroke-width="0.8"/>
<line x1="268.90" y1="506.25" x2="270.50" y2="506.25" stroke="#231f20" stroke-width="0.8"/>
<line x1="268.90" y1="493.75" x2="270.50" y2="493.75" stroke="#231f20" stroke-width="0.8"/>
<line x1="268.90" y1="481.25" x2="270.50" y2="481.25" stroke="#231f20" stroke-width="0.8"/>
<line x1="268.90" y1="468.75" x2="270.50" y2="468.75" stroke="#231f20" stroke-width="0.8"/>
<line x1="268.90" y1="456.25" x2="270.50" y2="456.25" stroke="#231f20" stroke-width="0.8"/>
<line x1="270.50" y1="550.00" x2="459.50" y2="550.00" stroke="#231f20" stroke-width="1"/>
<line x1="286.75" y1="550.00" x2="286.75" y2="552.50" stroke="#231f20" stroke-width="1"/>
<text x="286.75" y="563.01" font-size="8.36" text-anchor="middle" fill="#231f20" textLength="4.4" lengthAdjust="spacingAndGlyphs" >0</text>
<line x1="319.65" y1="550.00" x2="319.65" y2="552.50" stroke="#231f20" stroke-width="1"/>
<text x="319.65" y="563.01" font-size="8.36" text-anchor="middle" fill="#231f20" textLength="13.19" lengthAdjust="spacingAndGlyphs" >100</text>
<line x1="352.55" y1="550.00" x2="352.55" y2="552.50" stroke="#231f20" stroke-width="1"/>
<text x="352.55" y="563.01" font-size="8.36" text-anchor="middle" fill="#231f20" textLength="13.19" lengthAdjust="spacingAndGlyphs" >200</text>
<line x1="385.45" y1="550.00" x2="385.45" y2="552.50" stroke="#231f20" stroke-width="1"/>
<text x="385.45" y="563.01" font-size="8.36" text-anchor="middle" fill="#231f20" textLength="13.19" lengthAdjust="spacingAndGlyphs" >300</text>
<line x1="418.35" y1="550.00" x2="418.35" y2="552.50" stroke="#231f20" stroke-width="1"/>
<text x="418.35" y="563.01" font-size="8.36" text-anchor="middle" fill="#231f20" textLength="13.19" lengthAdjust="spacingAndGlyphs" >400</text>
<line x1="451.25" y1="550.00" x2="451.25" y2="552.50" stroke="#231f20" stroke-width="1"/>
<text x="451.25" y="563.01" font-size="8.36" text-anchor="middle" fill="#231f20" textLength="13.19" lengthAdjust="spacingAndGlyphs" >500</text>
<line x1="303.20" y1="550.00" x2="303.20" y2="551.50" stroke="#231f20" stroke-width="0.8"/>
<line x1="336.10" y1="550.00" x2="336.10" y2="551.50" stroke="#231f20" stroke-width="0.8"/>
<line x1="369.00" y1="550.00" x2="369.00" y2="551.50" stroke="#231f20" stroke-width="0.8"/>
<line x1="401.90" y1="550.00" x2="401.90" y2="551.50" stroke="#231f20" stroke-width="0.8"/>
<line x1="434.80" y1="550.00" x2="434.80" y2="551.50" stroke="#231f20" stroke-width="0.8"/>
<text x="366.30" y="574.39" font-size="8.58" text-anchor="middle" fill="#231f20" textLength="38" lengthAdjust="spacingAndGlyphs" >Time (sec)</text>
<text x="287.00" y="471.09" font-size="8.58" text-anchor="start" fill="#231f20" textLength="37.5" lengthAdjust="spacingAndGlyphs" >With Mn<tspan font-size="72%" dx="0.4" dy="-0.56em" style="stroke-width:0.1px">2+</tspan><tspan dy="0.403em">​</tspan></text>
<text x="367.50" y="469.39" font-size="8.58" text-anchor="start" fill="#231f20" textLength="49" lengthAdjust="spacingAndGlyphs" >Kd = 2.55 nM</text>
<path d="M270.5,537.4 270.9,537.4 271.3,537.4 271.7,537.4 272.2,537.4 272.6,537.4 273.0,537.5 273.4,537.4 273.8,537.5 274.2,537.5 274.7,537.5 275.1,537.6 275.5,537.7 275.9,537.6 276.3,537.6 276.7,537.5 277.1,537.4 277.6,537.4 278.0,537.5 278.4,537.5 278.8,537.5 279.2,537.5 279.6,537.6 280.0,537.5 280.5,537.5 280.9,537.6 281.3,537.6 281.7,537.5 282.1,537.6 282.5,537.5 283.0,537.3 283.4,537.4 283.8,537.4 284.2,537.3 284.6,537.5 285.0,537.6 285.4,537.6 285.9,537.7 286.3,537.7 286.7,537.7 287.1,537.4 287.5,537.1 287.9,536.7 288.4,536.4 288.8,536.0 289.2,535.9 289.6,535.7 290.0,535.4 290.4,535.0 290.8,534.9 291.3,534.5 291.7,534.2 292.1,534.1 292.5,533.9 292.9,533.6 293.3,533.5 293.7,533.5 294.2,533.4 294.6,533.2 295.0,533.1 295.4,533.0 295.8,532.7 296.2,532.5 296.7,532.3 297.1,532.2 297.5,532.1 297.9,532.1 298.3,531.9 298.7,532.0 299.1,531.9 299.6,531.8 300.0,531.6 300.4,531.5 300.8,531.2 301.2,531.1 301.6,531.0 302.1,530.8 302.5,530.8 302.9,530.8 303.3,530.6 303.7,530.5 304.1,530.4 304.5,530.4 305.0,530.4 305.4,530.3 305.8,530.2 306.2,530.2 306.6,530.1 307.0,530.0 307.4,530.0 307.9,530.0 308.3,529.7 308.7,529.7 309.1,529.6 309.5,529.5 309.9,529.4 310.4,529.5 310.8,529.4 311.2,529.3 311.6,529.2 312.0,529.1 312.4,528.9 312.8,528.9 313.3,528.8 313.7,528.6 314.1,528.5 314.5,528.6 314.9,528.5 315.3,528.6 315.8,528.6 316.2,528.7 316.6,528.5 317.0,528.5 317.4,528.4 317.8,528.5 318.2,528.4 318.7,528.5 319.1,528.4 319.5,528.2 319.9,528.1 320.3,528.2 320.7,528.0 321.2,528.1 321.6,528.1 322.0,528.0 322.4,527.9 322.8,527.9 323.2,527.8 323.6,527.8 324.1,527.8 324.5,527.9 324.9,527.9 325.3,527.8 325.7,527.7 326.1,527.7 326.5,527.6 327.0,527.7 327.4,527.7 327.8,527.5 328.2,527.4 328.6,527.3 329.0,527.2 329.5,527.1 329.9,527.2 330.3,527.3 330.7,527.3 331.1,527.4 331.5,527.5 331.9,527.3 332.4,527.3 332.8,527.3 333.2,527.3 333.6,527.2 334.0,527.2 334.4,527.3 334.9,527.3 335.3,527.2 335.7,527.2 336.1,527.1 336.5,527.1 336.9,527.0 337.3,527.0 337.8,526.9 338.2,527.0 338.6,527.0 339.0,527.1 339.4,526.9 339.8,526.8 340.2,526.7 340.7,526.7 341.1,526.7 341.5,526.9 341.9,527.1 342.3,527.2 342.7,527.2 343.2,527.2 343.6,527.0 344.0,526.8 344.4,526.8 344.8,526.7 345.2,526.8 345.6,526.7 346.1,526.7 346.5,526.7 346.9,526.7 347.3,526.7 347.7,526.8 348.1,527.0 348.6,527.1 349.0,527.1 349.4,527.1 349.8,527.1 350.2,527.1 350.6,527.1 351.0,527.2 351.5,527.4 351.9,527.5 352.3,527.6 352.7,527.6 353.1,527.8 353.5,527.8 353.9,527.8 354.4,527.7 354.8,527.7 355.2,527.8 355.6,527.8 356.0,527.8 356.4,527.8 356.9,527.8 357.3,527.7 357.7,527.8 358.1,527.8 358.5,527.8 358.9,528.0 359.3,528.1 359.8,528.1 360.2,528.2 360.6,528.2 361.0,528.2 361.4,528.2 361.8,528.2 362.3,528.3 362.7,528.3 363.1,528.2 363.5,528.4 363.9,528.6 364.3,528.5 364.7,528.6 365.2,528.6 365.6,528.5 366.0,528.4 366.4,528.5 366.8,528.6 367.2,528.8 367.6,528.9 368.1,528.9 368.5,529.0 368.9,529.0 369.3,528.9 369.7,528.8 370.1,528.8 370.6,528.8 371.0,528.7 371.4,528.7 371.8,528.8 372.2,528.9 372.6,528.8 373.0,528.9 373.5,529.0 373.9,529.1 374.3,529.2 374.7,529.2 375.1,529.3 375.5,529.2 376.0,529.2 376.4,529.0 376.8,529.2 377.2,529.2 377.6,529.2 378.0,529.2 378.4,529.2 378.9,529.3 379.3,529.2 379.7,529.2 380.1,529.2 380.5,529.3 380.9,529.4 381.3,529.5 381.8,529.5 382.2,529.6 382.6,529.6 383.0,529.5 383.4,529.5 383.8,529.6 384.3,529.5 384.7,529.5 385.1,529.4 385.5,529.4 385.9,529.4 386.3,529.6 386.7,529.8 387.2,529.8 387.6,529.9 388.0,529.9 388.4,529.7 388.8,529.7 389.2,529.6 389.7,529.6 390.1,529.6 390.5,529.8 390.9,529.8 391.3,529.9 391.7,529.8 392.1,529.7 392.6,529.7 393.0,529.7 393.4,529.8 393.8,529.9 394.2,530.0 394.6,530.0 395.1,530.0 395.5,529.9 395.9,530.0 396.3,530.1 396.7,530.1 397.1,530.0 397.5,530.1 398.0,529.9 398.4,529.9 398.8,529.9 399.2,530.0 399.6,529.9 400.0,530.0 400.4,529.9 400.9,529.9 401.3,529.7 401.7,529.7 402.1,529.9 402.5,530.0 402.9,530.0 403.4,530.1 403.8,530.2 404.2,530.0 404.6,530.0 405.0,530.1 405.4,530.2 405.8,530.1 406.3,530.3 406.7,530.3 407.1,530.3 407.5,530.3 407.9,530.4 408.3,530.4 408.8,530.3 409.2,530.4 409.6,530.3 410.0,530.3 410.4,530.4 410.8,530.3 411.2,530.2 411.7,530.2 412.1,530.2 412.5,530.2 412.9,530.2 413.3,530.4 413.7,530.5 414.1,530.5 414.6,530.4 415.0,530.5 415.4,530.4 415.8,530.4 416.2,530.5 416.6,530.5 417.1,530.6 417.5,530.6 417.9,530.6 418.3,530.6 418.7,530.5 419.1,530.4 419.5,530.4 420.0,530.4 420.4,530.4 420.8,530.4 421.2,530.3 421.6,530.3 422.0,530.2 422.5,530.2 422.9,530.3 423.3,530.2 423.7,530.3 424.1,530.2 424.5,530.2 424.9,530.3 425.4,530.4 425.8,530.5 426.2,530.5 426.6,530.5 427.0,530.6 427.4,530.4 427.8,530.5 428.3,530.4 428.7,530.4 429.1,530.4 429.5,530.4 429.9,530.5 430.3,530.6 430.8,530.6 431.2,530.7 431.6,530.7 432.0,530.6 432.4,530.6 432.8,530.7 433.2,530.7 433.7,530.7 434.1,530.8 434.5,530.7 434.9,530.7 435.3,530.7 435.7,530.9 436.2,530.7 436.6,530.7 437.0,530.7 437.4,530.7 437.8,530.5 438.2,530.4 438.6,530.5 439.1,530.4 439.5,530.3 439.9,530.4 440.3,530.5 440.7,530.4 441.1,530.4 441.5,530.6 442.0,530.5 442.4,530.6 442.8,530.6 443.2,530.6 443.6,530.5 444.0,530.3 444.5,530.3 444.9,530.3" fill="none" stroke="#d3163a" stroke-width="1.1" stroke-linejoin="round" />
<line x1="346.17" y1="524.75" x2="346.17" y2="527.75" stroke="#d3163a" stroke-width="1.0"/>
<path d="M270.5,537.6 270.9,537.7 271.3,537.7 271.7,537.6 272.2,537.7 272.6,537.7 273.0,537.5 273.4,537.5 273.8,537.5 274.2,537.6 274.7,537.6 275.1,537.6 275.5,537.6 275.9,537.6 276.3,537.5 276.7,537.4 277.1,537.5 277.6,537.5 278.0,537.6 278.4,537.6 278.8,537.5 279.2,537.5 279.6,537.7 280.0,537.5 280.5,537.5 280.9,537.6 281.3,537.4 281.7,537.2 282.1,537.2 282.5,537.2 283.0,537.2 283.4,537.4 283.8,537.3 284.2,537.2 284.6,537.4 285.0,537.4 285.4,537.6 285.9,537.7 286.3,537.7 286.7,537.7 287.1,537.3 287.5,536.4 287.9,535.7 288.4,535.1 288.8,534.5 289.2,533.9 289.6,533.5 290.0,533.0 290.4,532.5 290.8,532.2 291.3,531.8 291.7,531.6 292.1,531.3 292.5,530.9 292.9,530.6 293.3,530.3 293.7,529.9 294.2,529.5 294.6,529.3 295.0,529.0 295.4,528.7 295.8,528.4 296.2,528.1 296.7,527.8 297.1,527.5 297.5,527.4 297.9,527.1 298.3,527.0 298.7,526.8 299.1,526.7 299.6,526.5 300.0,526.3 300.4,526.0 300.8,525.9 301.2,525.6 301.6,525.4 302.1,525.2 302.5,525.0 302.9,524.7 303.3,524.5 303.7,524.3 304.1,524.2 304.5,523.9 305.0,523.7 305.4,523.7 305.8,523.5 306.2,523.2 306.6,523.1 307.0,523.0 307.4,522.8 307.9,522.6 308.3,522.4 308.7,522.2 309.1,522.0 309.5,521.7 309.9,521.5 310.4,521.5 310.8,521.5 311.2,521.2 311.6,521.0 312.0,521.0 312.4,520.8 312.8,520.6 313.3,520.6 313.7,520.5 314.1,520.2 314.5,520.1 314.9,520.0 315.3,519.9 315.8,519.9 316.2,519.9 316.6,519.7 317.0,519.5 317.4,519.2 317.8,519.1 318.2,519.0 318.7,518.9 319.1,518.9 319.5,518.8 319.9,518.8 320.3,518.6 320.7,518.4 321.2,518.4 321.6,518.3 322.0,518.1 322.4,518.0 322.8,518.1 323.2,517.9 323.6,517.9 324.1,517.8 324.5,517.7 324.9,517.5 325.3,517.4 325.7,517.2 326.1,517.2 326.5,517.1 327.0,517.0 327.4,516.8 327.8,516.8 328.2,516.8 328.6,516.7 329.0,516.7 329.5,516.6 329.9,516.7 330.3,516.5 330.7,516.4 331.1,516.3 331.5,516.3 331.9,516.2 332.4,516.1 332.8,516.0 333.2,515.9 333.6,515.7 334.0,515.6 334.4,515.4 334.9,515.4 335.3,515.5 335.7,515.5 336.1,515.4 336.5,515.4 336.9,515.3 337.3,515.2 337.8,515.2 338.2,515.1 338.6,515.1 339.0,515.0 339.4,514.9 339.8,514.9 340.2,515.0 340.7,514.9 341.1,514.9 341.5,514.9 341.9,514.9 342.3,514.9 342.7,514.9 343.2,514.9 343.6,514.8 344.0,514.6 344.4,514.6 344.8,514.5 345.2,514.6 345.6,514.4 346.1,514.3 346.5,514.3 346.9,514.4 347.3,514.5 347.7,514.8 348.1,514.8 348.6,514.9 349.0,514.9 349.4,515.1 349.8,515.1 350.2,515.3 350.6,515.4 351.0,515.6 351.5,515.7 351.9,515.8 352.3,515.8 352.7,515.7 353.1,515.7 353.5,515.8 353.9,515.8 354.4,516.0 354.8,516.2 355.2,516.4 355.6,516.4 356.0,516.6 356.4,516.7 356.9,516.8 357.3,516.9 357.7,517.0 358.1,517.1 358.5,517.2 358.9,517.2 359.3,517.3 359.8,517.3 360.2,517.4 360.6,517.3 361.0,517.3 361.4,517.5 361.8,517.6 362.3,517.5 362.7,517.6 363.1,517.8 363.5,517.9 363.9,517.9 364.3,518.0 364.7,518.1 365.2,518.1 365.6,518.2 366.0,518.3 366.4,518.5 366.8,518.6 367.2,518.6 367.6,518.7 368.1,518.6 368.5,518.7 368.9,518.7 369.3,518.8 369.7,518.8 370.1,518.9 370.6,519.0 371.0,518.9 371.4,519.0 371.8,519.2 372.2,519.3 372.6,519.2 373.0,519.2 373.5,519.2 373.9,519.2 374.3,519.1 374.7,519.3 375.1,519.4 375.5,519.5 376.0,519.3 376.4,519.4 376.8,519.4 377.2,519.4 377.6,519.3 378.0,519.4 378.4,519.4 378.9,519.5 379.3,519.7 379.7,519.8 380.1,519.9 380.5,520.0 380.9,520.0 381.3,520.0 381.8,520.1 382.2,520.1 382.6,520.1 383.0,520.1 383.4,520.1 383.8,520.1 384.3,520.2 384.7,520.2 385.1,520.2 385.5,520.3 385.9,520.2 386.3,520.3 386.7,520.3 387.2,520.4 387.6,520.5 388.0,520.5 388.4,520.5 388.8,520.5 389.2,520.5 389.7,520.4 390.1,520.5 390.5,520.5 390.9,520.6 391.3,520.7 391.7,520.7 392.1,520.7 392.6,520.7 393.0,520.7 393.4,520.6 393.8,520.6 394.2,520.6 394.6,520.7 395.1,520.6 395.5,520.5 395.9,520.5 396.3,520.6 396.7,520.8 397.1,520.9 397.5,521.0 398.0,521.0 398.4,521.1 398.8,521.0 399.2,521.1 399.6,521.0 400.0,521.2 400.4,521.2 400.9,521.2 401.3,521.1 401.7,521.0 402.1,521.1 402.5,521.0 402.9,521.0 403.4,521.1 403.8,521.2 404.2,521.1 404.6,521.1 405.0,521.1 405.4,521.0 405.8,521.1 406.3,521.2 406.7,521.1 407.1,521.1 407.5,521.0 407.9,521.0 408.3,520.9 408.8,521.0 409.2,521.0 409.6,521.1 410.0,521.2 410.4,521.2 410.8,521.3 411.2,521.4 411.7,521.5 412.1,521.4 412.5,521.4 412.9,521.4 413.3,521.3 413.7,521.2 414.1,521.3 414.6,521.3 415.0,521.2 415.4,521.3 415.8,521.4 416.2,521.4 416.6,521.4 417.1,521.6 417.5,521.6 417.9,521.5 418.3,521.5 418.7,521.5 419.1,521.3 419.5,521.4 420.0,521.6 420.4,521.4 420.8,521.4 421.2,521.4 421.6,521.3 422.0,521.2 422.5,521.5 422.9,521.4 423.3,521.5 423.7,521.5 424.1,521.5 424.5,521.4 424.9,521.4 425.4,521.5 425.8,521.6 426.2,521.8 426.6,521.7 427.0,521.7 427.4,521.6 427.8,521.5 428.3,521.6 428.7,521.7 429.1,521.7 429.5,521.7 429.9,521.7 430.3,521.5 430.8,521.5 431.2,521.5 431.6,521.6 432.0,521.6 432.4,521.6 432.8,521.6 433.2,521.6 433.7,521.6 434.1,521.6 434.5,521.7 434.9,521.7 435.3,521.8 435.7,521.7 436.2,521.8 436.6,521.7 437.0,521.7 437.4,521.6 437.8,521.7 438.2,521.5 438.6,521.5 439.1,521.5 439.5,521.5 439.9,521.5 440.3,521.7 440.7,521.7 441.1,521.7 441.5,521.7 442.0,521.7 442.4,521.7 442.8,521.8 443.2,521.8 443.6,521.8 444.0,521.9 444.5,521.9 444.9,521.8" fill="none" stroke="#1d5a9a" stroke-width="1.1" stroke-linejoin="round" />
<line x1="346.17" y1="512.25" x2="346.17" y2="515.25" stroke="#1d5a9a" stroke-width="1.0"/>
<path d="M270.5,537.1 270.9,537.2 271.3,537.2 271.7,537.2 272.2,537.3 272.6,537.5 273.0,537.6 273.4,537.6 273.8,537.5 274.2,537.7 274.7,537.6 275.1,537.5 275.5,537.6 275.9,537.6 276.3,537.6 276.7,537.6 277.1,537.7 277.6,537.6 278.0,537.6 278.4,537.5 278.8,537.6 279.2,537.6 279.6,537.6 280.0,537.6 280.5,537.7 280.9,537.7 281.3,537.7 281.7,537.7 282.1,537.6 282.5,537.5 283.0,537.4 283.4,537.4 283.8,537.4 284.2,537.5 284.6,537.4 285.0,537.5 285.4,537.4 285.9,537.5 286.3,537.5 286.7,537.5 287.1,536.9 287.5,535.6 287.9,534.5 288.4,533.3 288.8,532.3 289.2,531.4 289.6,530.6 290.0,529.7 290.4,529.2 290.8,528.5 291.3,528.0 291.7,527.4 292.1,526.8 292.5,526.1 292.9,525.6 293.3,525.0 293.7,524.5 294.2,524.2 294.6,523.9 295.0,523.6 295.4,523.1 295.8,522.7 296.2,522.3 296.7,521.8 297.1,521.3 297.5,520.9 297.9,520.5 298.3,520.0 298.7,519.6 299.1,519.3 299.6,519.1 300.0,518.8 300.4,518.5 300.8,518.2 301.2,517.9 301.6,517.5 302.1,517.1 302.5,516.8 302.9,516.6 303.3,516.3 303.7,516.1 304.1,515.6 304.5,515.3 305.0,515.0 305.4,514.6 305.8,514.4 306.2,514.4 306.6,514.0 307.0,513.7 307.4,513.5 307.9,513.3 308.3,513.0 308.7,512.9 309.1,512.6 309.5,512.4 309.9,512.1 310.4,511.8 310.8,511.7 311.2,511.4 311.6,511.3 312.0,511.1 312.4,510.9 312.8,510.7 313.3,510.6 313.7,510.4 314.1,510.3 314.5,510.1 314.9,509.9 315.3,509.7 315.8,509.4 316.2,509.2 316.6,509.1 317.0,508.9 317.4,508.8 317.8,508.7 318.2,508.6 318.7,508.3 319.1,508.1 319.5,508.0 319.9,507.9 320.3,507.7 320.7,507.6 321.2,507.3 321.6,507.3 322.0,507.1 322.4,507.0 322.8,507.1 323.2,507.1 323.6,506.8 324.1,506.7 324.5,506.5 324.9,506.4 325.3,506.3 325.7,506.3 326.1,506.2 326.5,506.0 327.0,505.8 327.4,505.6 327.8,505.5 328.2,505.4 328.6,505.3 329.0,505.3 329.5,505.3 329.9,505.3 330.3,505.3 330.7,505.2 331.1,505.1 331.5,504.9 331.9,504.7 332.4,504.5 332.8,504.3 333.2,504.3 333.6,504.1 334.0,504.1 334.4,504.1 334.9,504.1 335.3,504.0 335.7,504.0 336.1,503.9 336.5,503.9 336.9,503.7 337.3,503.6 337.8,503.6 338.2,503.5 338.6,503.4 339.0,503.3 339.4,503.3 339.8,503.0 340.2,503.1 340.7,502.9 341.1,502.8 341.5,502.8 341.9,502.8 342.3,502.6 342.7,502.7 343.2,502.6 343.6,502.6 344.0,502.7 344.4,502.7 344.8,502.6 345.2,502.7 345.6,502.7 346.1,502.5 346.5,502.6 346.9,502.8 347.3,502.8 347.7,503.0 348.1,503.2 348.6,503.4 349.0,503.6 349.4,503.6 349.8,503.7 350.2,503.9 350.6,504.1 351.0,504.1 351.5,504.4 351.9,504.5 352.3,504.7 352.7,504.8 353.1,505.1 353.5,505.2 353.9,505.3 354.4,505.3 354.8,505.3 355.2,505.3 355.6,505.5 356.0,505.6 356.4,505.8 356.9,505.9 357.3,506.0 357.7,506.0 358.1,506.1 358.5,506.2 358.9,506.5 359.3,506.6 359.8,506.6 360.2,506.6 360.6,506.5 361.0,506.5 361.4,506.5 361.8,506.7 362.3,506.8 362.7,507.1 363.1,507.3 363.5,507.4 363.9,507.5 364.3,507.6 364.7,507.7 365.2,507.7 365.6,507.8 366.0,507.8 366.4,507.9 366.8,507.9 367.2,507.9 367.6,508.1 368.1,508.1 368.5,508.0 368.9,508.1 369.3,508.1 369.7,508.2 370.1,508.3 370.6,508.5 371.0,508.5 371.4,508.6 371.8,508.6 372.2,508.7 372.6,508.7 373.0,508.9 373.5,509.0 373.9,509.1 374.3,509.1 374.7,509.1 375.1,509.0 375.5,509.0 376.0,509.0 376.4,509.1 376.8,509.2 377.2,509.4 377.6,509.4 378.0,509.5 378.4,509.5 378.9,509.6 379.3,509.6 379.7,509.6 380.1,509.7 380.5,509.7 380.9,509.7 381.3,509.6 381.8,509.6 382.2,509.6 382.6,509.7 383.0,509.7 383.4,509.8 383.8,509.8 384.3,509.8 384.7,509.8 385.1,509.8 385.5,510.0 385.9,510.1 386.3,510.1 386.7,510.0 387.2,510.0 387.6,510.0 388.0,509.9 388.4,510.0 388.8,510.2 389.2,510.2 389.7,510.3 390.1,510.3 390.5,510.3 390.9,510.3 391.3,510.4 391.7,510.3 392.1,510.3 392.6,510.4 393.0,510.4 393.4,510.4 393.8,510.5 394.2,510.6 394.6,510.5 395.1,510.5 395.5,510.6 395.9,510.7 396.3,510.7 396.7,510.8 397.1,510.8 397.5,510.9 398.0,510.6 398.4,510.7 398.8,510.6 399.2,510.6 399.6,510.6 400.0,510.6 400.4,510.5 400.9,510.6 401.3,510.5 401.7,510.6 402.1,510.7 402.5,510.7 402.9,510.7 403.4,510.9 403.8,510.8 404.2,510.8 404.6,510.8 405.0,510.8 405.4,510.7 405.8,510.8 406.3,510.9 406.7,510.9 407.1,511.2 407.5,511.3 407.9,511.4 408.3,511.3 408.8,511.3 409.2,511.2 409.6,511.2 410.0,511.2 410.4,511.2 410.8,511.1 411.2,511.0 411.7,511.0 412.1,511.0 412.5,510.9 412.9,511.0 413.3,510.9 413.7,511.0 414.1,511.0 414.6,511.1 415.0,511.1 415.4,511.3 415.8,511.2 416.2,511.1 416.6,511.1 417.1,511.1 417.5,511.1 417.9,511.1 418.3,511.2 418.7,511.2 419.1,511.1 419.5,511.2 420.0,511.3 420.4,511.2 420.8,511.2 421.2,511.3 421.6,511.3 422.0,511.3 422.5,511.3 422.9,511.4 423.3,511.2 423.7,511.3 424.1,511.3 424.5,511.1 424.9,511.2 425.4,511.2 425.8,511.1 426.2,511.1 426.6,511.4 427.0,511.5 427.4,511.5 427.8,511.6 428.3,511.6 428.7,511.6 429.1,511.4 429.5,511.4 429.9,511.4 430.3,511.4 430.8,511.2 431.2,511.3 431.6,511.3 432.0,511.3 432.4,511.3 432.8,511.4 433.2,511.2 433.7,511.3 434.1,511.3 434.5,511.4 434.9,511.5 435.3,511.5 435.7,511.6 436.2,511.6 436.6,511.5 437.0,511.4 437.4,511.5 437.8,511.3 438.2,511.3 438.6,511.3 439.1,511.4 439.5,511.6 439.9,511.6 440.3,511.7 440.7,511.5 441.1,511.4 441.5,511.2 442.0,511.3 442.4,511.2 442.8,511.3 443.2,511.2 443.6,511.3 444.0,511.3 444.5,511.4 444.9,511.5" fill="none" stroke="#3cb64b" stroke-width="1.1" stroke-linejoin="round" />
<line x1="346.17" y1="500.50" x2="346.17" y2="503.50" stroke="#3cb64b" stroke-width="1.0"/>
<path d="M270.5,537.6 270.9,537.5 271.3,537.5 271.7,537.6 272.2,537.5 272.6,537.5 273.0,537.7 273.4,537.8 273.8,537.7 274.2,537.7 274.7,537.8 275.1,537.6 275.5,537.5 275.9,537.4 276.3,537.2 276.7,537.2 277.1,537.3 277.6,537.4 278.0,537.4 278.4,537.6 278.8,537.6 279.2,537.6 279.6,537.6 280.0,537.6 280.5,537.7 280.9,537.7 281.3,537.7 281.7,537.8 282.1,537.9 282.5,537.8 283.0,537.8 283.4,537.8 283.8,537.6 284.2,537.5 284.6,537.5 285.0,537.5 285.4,537.4 285.9,537.5 286.3,537.4 286.7,537.6 287.1,536.8 287.5,534.9 287.9,533.0 288.4,531.4 288.8,529.8 289.2,528.4 289.6,527.1 290.0,526.0 290.4,525.0 290.8,524.0 291.3,523.0 291.7,522.2 292.1,521.3 292.5,520.5 292.9,519.7 293.3,518.9 293.7,518.2 294.2,517.4 294.6,516.7 295.0,516.1 295.4,515.5 295.8,514.8 296.2,514.2 296.7,513.7 297.1,513.1 297.5,512.6 297.9,512.1 298.3,511.6 298.7,511.0 299.1,510.4 299.6,509.9 300.0,509.4 300.4,508.9 300.8,508.5 301.2,508.1 301.6,507.7 302.1,507.2 302.5,506.8 302.9,506.3 303.3,505.8 303.7,505.2 304.1,504.9 304.5,504.5 305.0,504.0 305.4,503.7 305.8,503.5 306.2,503.1 306.6,502.8 307.0,502.5 307.4,502.1 307.9,501.7 308.3,501.2 308.7,500.9 309.1,500.6 309.5,500.3 309.9,500.0 310.4,499.8 310.8,499.6 311.2,499.2 311.6,498.9 312.0,498.8 312.4,498.5 312.8,498.3 313.3,498.0 313.7,497.8 314.1,497.4 314.5,497.3 314.9,497.1 315.3,497.0 315.8,496.7 316.2,496.5 316.6,496.1 317.0,495.8 317.4,495.5 317.8,495.3 318.2,495.2 318.7,495.1 319.1,495.0 319.5,494.7 319.9,494.5 320.3,494.3 320.7,494.2 321.2,493.9 321.6,493.9 322.0,493.8 322.4,493.8 322.8,493.5 323.2,493.4 323.6,493.2 324.1,493.0 324.5,492.7 324.9,492.6 325.3,492.5 325.7,492.3 326.1,492.1 326.5,492.2 327.0,492.1 327.4,492.0 327.8,491.9 328.2,491.8 328.6,491.6 329.0,491.4 329.5,491.3 329.9,491.2 330.3,491.1 330.7,491.0 331.1,490.9 331.5,490.7 331.9,490.6 332.4,490.4 332.8,490.4 333.2,490.3 333.6,490.2 334.0,490.2 334.4,490.2 334.9,490.1 335.3,490.1 335.7,490.0 336.1,489.9 336.5,489.7 336.9,489.5 337.3,489.4 337.8,489.4 338.2,489.3 338.6,489.3 339.0,489.2 339.4,489.2 339.8,489.1 340.2,489.0 340.7,488.9 341.1,488.9 341.5,488.8 341.9,488.8 342.3,488.7 342.7,488.8 343.2,488.7 343.6,488.6 344.0,488.6 344.4,488.5 344.8,488.4 345.2,488.3 345.6,488.3 346.1,488.4 346.5,488.6 346.9,488.9 347.3,489.3 347.7,489.6 348.1,489.8 348.6,490.0 349.0,490.2 349.4,490.4 349.8,490.5 350.2,490.7 350.6,490.9 351.0,491.3 351.5,491.4 351.9,491.7 352.3,491.8 352.7,492.1 353.1,492.3 353.5,492.7 353.9,492.9 354.4,493.1 354.8,493.4 355.2,493.4 355.6,493.3 356.0,493.6 356.4,493.7 356.9,493.7 357.3,494.0 357.7,494.2 358.1,494.3 358.5,494.5 358.9,494.8 359.3,494.9 359.8,495.1 360.2,495.4 360.6,495.6 361.0,495.9 361.4,496.0 361.8,496.1 362.3,496.2 362.7,496.3 363.1,496.2 363.5,496.2 363.9,496.3 364.3,496.3 364.7,496.4 365.2,496.5 365.6,496.7 366.0,496.7 366.4,496.9 366.8,497.1 367.2,497.2 367.6,497.3 368.1,497.3 368.5,497.4 368.9,497.4 369.3,497.5 369.7,497.7 370.1,497.9 370.6,498.1 371.0,498.3 371.4,498.3 371.8,498.4 372.2,498.5 372.6,498.6 373.0,498.5 373.5,498.7 373.9,498.7 374.3,498.6 374.7,498.7 375.1,498.9 375.5,498.8 376.0,498.9 376.4,499.1 376.8,499.1 377.2,499.2 377.6,499.3 378.0,499.5 378.4,499.4 378.9,499.5 379.3,499.4 379.7,499.4 380.1,499.6 380.5,499.6 380.9,499.7 381.3,499.9 381.8,500.0 382.2,499.9 382.6,500.0 383.0,500.1 383.4,500.1 383.8,500.2 384.3,500.2 384.7,500.2 385.1,500.3 385.5,500.3 385.9,500.3 386.3,500.4 386.7,500.5 387.2,500.5 387.6,500.4 388.0,500.5 388.4,500.6 388.8,500.6 389.2,500.7 389.7,500.7 390.1,500.6 390.5,500.5 390.9,500.5 391.3,500.5 391.7,500.6 392.1,500.6 392.6,500.7 393.0,500.7 393.4,500.8 393.8,500.7 394.2,500.8 394.6,500.8 395.1,500.8 395.5,500.9 395.9,501.1 396.3,501.0 396.7,501.0 397.1,501.0 397.5,500.9 398.0,500.9 398.4,501.0 398.8,501.0 399.2,501.1 399.6,501.1 400.0,501.1 400.4,501.3 400.9,501.3 401.3,501.4 401.7,501.5 402.1,501.4 402.5,501.2 402.9,501.3 403.4,501.4 403.8,501.3 404.2,501.5 404.6,501.6 405.0,501.5 405.4,501.4 405.8,501.4 406.3,501.4 406.7,501.4 407.1,501.4 407.5,501.6 407.9,501.6 408.3,501.6 408.8,501.6 409.2,501.4 409.6,501.4 410.0,501.4 410.4,501.4 410.8,501.5 411.2,501.6 411.7,501.5 412.1,501.5 412.5,501.5 412.9,501.5 413.3,501.6 413.7,501.7 414.1,501.7 414.6,501.6 415.0,501.6 415.4,501.5 415.8,501.5 416.2,501.5 416.6,501.6 417.1,501.6 417.5,501.6 417.9,501.6 418.3,501.6 418.7,501.5 419.1,501.5 419.5,501.5 420.0,501.6 420.4,501.6 420.8,501.7 421.2,501.7 421.6,501.7 422.0,501.7 422.5,501.6 422.9,501.6 423.3,501.5 423.7,501.6 424.1,501.7 424.5,501.6 424.9,501.7 425.4,501.7 425.8,501.7 426.2,501.7 426.6,501.7 427.0,501.8 427.4,501.8 427.8,501.9 428.3,502.0 428.7,501.9 429.1,501.8 429.5,501.9 429.9,502.1 430.3,502.0 430.8,502.0 431.2,502.0 431.6,501.9 432.0,501.7 432.4,501.7 432.8,501.7 433.2,501.8 433.7,501.8 434.1,501.9 434.5,502.0 434.9,502.1 435.3,502.0 435.7,502.0 436.2,501.8 436.6,501.8 437.0,501.7 437.4,501.8 437.8,501.8 438.2,501.9 438.6,501.8 439.1,501.7 439.5,501.7 439.9,501.8 440.3,501.6 440.7,501.8 441.1,501.9 441.5,501.9 442.0,501.7 442.4,501.8 442.8,501.8 443.2,501.8 443.6,501.8 444.0,501.9 444.5,501.9 444.9,501.9" fill="none" stroke="#7a4a9e" stroke-width="1.1" stroke-linejoin="round" />
<line x1="346.17" y1="486.25" x2="346.17" y2="489.25" stroke="#7a4a9e" stroke-width="1.0"/>
<path d="M270.5,537.7 270.9,537.6 271.3,537.5 271.7,537.3 272.2,537.2 272.6,537.4 273.0,537.4 273.4,537.5 273.8,537.6 274.2,537.6 274.7,537.5 275.1,537.5 275.5,537.6 275.9,537.7 276.3,537.7 276.7,537.8 277.1,537.7 277.6,537.5 278.0,537.6 278.4,537.5 278.8,537.5 279.2,537.7 279.6,537.7 280.0,537.5 280.5,537.6 280.9,537.6 281.3,537.5 281.7,537.6 282.1,537.7 282.5,537.7 283.0,537.8 283.4,537.8 283.8,537.7 284.2,537.6 284.6,537.5 285.0,537.4 285.4,537.4 285.9,537.5 286.3,537.4 286.7,537.4 287.1,536.1 287.5,533.1 287.9,530.4 288.4,528.0 288.8,525.9 289.2,523.8 289.6,521.9 290.0,520.0 290.4,518.4 290.8,516.8 291.3,515.2 291.7,513.8 292.1,512.4 292.5,511.0 292.9,509.6 293.3,508.4 293.7,507.1 294.2,505.9 294.6,504.8 295.0,503.9 295.4,502.8 295.8,501.8 296.2,500.9 296.7,499.9 297.1,499.0 297.5,498.0 297.9,497.3 298.3,496.3 298.7,495.6 299.1,494.7 299.6,493.9 300.0,493.1 300.4,492.5 300.8,491.7 301.2,490.9 301.6,490.2 302.1,489.5 302.5,488.6 302.9,487.9 303.3,487.3 303.7,486.6 304.1,486.1 304.5,485.6 305.0,485.1 305.4,484.6 305.8,484.1 306.2,483.6 306.6,483.0 307.0,482.5 307.4,481.9 307.9,481.5 308.3,481.0 308.7,480.7 309.1,480.3 309.5,480.0 309.9,479.6 310.4,479.2 310.8,478.7 311.2,478.3 311.6,478.0 312.0,477.5 312.4,477.2 312.8,476.9 313.3,476.5 313.7,476.1 314.1,475.9 314.5,475.6 314.9,475.3 315.3,475.0 315.8,474.7 316.2,474.4 316.6,474.1 317.0,473.9 317.4,473.6 317.8,473.4 318.2,473.3 318.7,473.1 319.1,472.8 319.5,472.5 319.9,472.3 320.3,471.9 320.7,471.6 321.2,471.4 321.6,471.2 322.0,471.0 322.4,471.0 322.8,470.9 323.2,470.8 323.6,470.7 324.1,470.6 324.5,470.3 324.9,470.1 325.3,470.0 325.7,469.8 326.1,469.7 326.5,469.6 327.0,469.3 327.4,469.1 327.8,468.9 328.2,468.8 328.6,468.6 329.0,468.5 329.5,468.3 329.9,468.3 330.3,468.2 330.7,468.2 331.1,468.0 331.5,467.9 331.9,467.7 332.4,467.5 332.8,467.3 333.2,467.3 333.6,467.3 334.0,467.3 334.4,467.2 334.9,467.1 335.3,467.0 335.7,466.8 336.1,466.7 336.5,466.5 336.9,466.6 337.3,466.5 337.8,466.4 338.2,466.3 338.6,466.3 339.0,466.3 339.4,466.2 339.8,466.2 340.2,466.1 340.7,466.1 341.1,466.0 341.5,466.0 341.9,466.0 342.3,466.0 342.7,465.9 343.2,465.9 343.6,465.9 344.0,465.7 344.4,465.8 344.8,465.8 345.2,465.6 345.6,465.5 346.1,465.4 346.5,465.6 346.9,466.1 347.3,466.6 347.7,467.1 348.1,467.7 348.6,468.3 349.0,468.6 349.4,469.0 349.8,469.3 350.2,469.7 350.6,470.1 351.0,470.4 351.5,470.7 351.9,471.2 352.3,471.5 352.7,471.7 353.1,472.1 353.5,472.5 353.9,472.9 354.4,473.3 354.8,473.6 355.2,474.0 355.6,474.2 356.0,474.4 356.4,474.6 356.9,474.8 357.3,475.1 357.7,475.4 358.1,475.6 358.5,475.8 358.9,476.1 359.3,476.2 359.8,476.4 360.2,476.6 360.6,477.0 361.0,477.3 361.4,477.4 361.8,477.6 362.3,477.8 362.7,478.0 363.1,478.2 363.5,478.4 363.9,478.6 364.3,478.8 364.7,479.0 365.2,479.1 365.6,479.3 366.0,479.4 366.4,479.6 366.8,479.7 367.2,479.9 367.6,480.1 368.1,480.3 368.5,480.5 368.9,480.6 369.3,480.8 369.7,480.9 370.1,481.0 370.6,481.1 371.0,481.2 371.4,481.2 371.8,481.4 372.2,481.6 372.6,481.6 373.0,481.7 373.5,481.7 373.9,481.8 374.3,481.9 374.7,482.0 375.1,482.1 375.5,482.2 376.0,482.3 376.4,482.4 376.8,482.4 377.2,482.5 377.6,482.6 378.0,482.8 378.4,482.8 378.9,483.0 379.3,483.2 379.7,483.3 380.1,483.3 380.5,483.5 380.9,483.6 381.3,483.6 381.8,483.5 382.2,483.5 382.6,483.6 383.0,483.5 383.4,483.5 383.8,483.8 384.3,483.8 384.7,483.9 385.1,484.0 385.5,484.1 385.9,484.0 386.3,484.1 386.7,484.1 387.2,484.1 387.6,484.2 388.0,484.2 388.4,484.2 388.8,484.2 389.2,484.3 389.7,484.4 390.1,484.5 390.5,484.5 390.9,484.7 391.3,484.7 391.7,484.7 392.1,484.6 392.6,484.6 393.0,484.7 393.4,484.7 393.8,484.9 394.2,484.9 394.6,484.9 395.1,484.9 395.5,485.0 395.9,485.0 396.3,485.1 396.7,485.1 397.1,485.2 397.5,485.2 398.0,485.1 398.4,485.2 398.8,485.3 399.2,485.1 399.6,485.0 400.0,485.1 400.4,485.2 400.9,485.4 401.3,485.5 401.7,485.5 402.1,485.6 402.5,485.5 402.9,485.4 403.4,485.4 403.8,485.4 404.2,485.4 404.6,485.3 405.0,485.3 405.4,485.4 405.8,485.3 406.3,485.4 406.7,485.6 407.1,485.7 407.5,485.8 407.9,485.9 408.3,485.8 408.8,485.7 409.2,485.7 409.6,485.7 410.0,485.7 410.4,485.6 410.8,485.7 411.2,485.8 411.7,485.9 412.1,485.9 412.5,486.0 412.9,486.1 413.3,486.0 413.7,486.0 414.1,486.0 414.6,486.0 415.0,485.8 415.4,485.7 415.8,485.6 416.2,485.5 416.6,485.6 417.1,485.8 417.5,485.9 417.9,486.0 418.3,486.1 418.7,486.1 419.1,486.0 419.5,486.0 420.0,486.1 420.4,486.0 420.8,486.0 421.2,486.1 421.6,486.2 422.0,486.2 422.5,486.2 422.9,486.1 423.3,486.1 423.7,486.1 424.1,486.1 424.5,486.1 424.9,486.2 425.4,486.0 425.8,486.0 426.2,486.0 426.6,485.9 427.0,485.9 427.4,486.0 427.8,486.2 428.3,486.1 428.7,486.1 429.1,486.2 429.5,486.1 429.9,486.1 430.3,486.0 430.8,486.1 431.2,486.2 431.6,486.3 432.0,486.3 432.4,486.4 432.8,486.2 433.2,486.2 433.7,486.2 434.1,486.1 434.5,486.0 434.9,486.2 435.3,486.2 435.7,486.2 436.2,486.4 436.6,486.5 437.0,486.4 437.4,486.4 437.8,486.4 438.2,486.3 438.6,486.3 439.1,486.3 439.5,486.4 439.9,486.3 440.3,486.3 440.7,486.2 441.1,486.3 441.5,486.1 442.0,486.2 442.4,486.2 442.8,486.3 443.2,486.2 443.6,486.2 444.0,486.2 444.5,486.2 444.9,486.1" fill="none" stroke="#f6a03d" stroke-width="1.1" stroke-linejoin="round" />
<line x1="346.17" y1="463.50" x2="346.17" y2="466.50" stroke="#f6a03d" stroke-width="1.0"/>
<line x1="286.75" y1="536.50" x2="286.75" y2="542.50" stroke="#f6a03d" stroke-width="1.0"/>
<text x="448.00" y="489.31" font-size="8.36" text-anchor="start" fill="#231f20" textLength="38" lengthAdjust="spacingAndGlyphs" >2.5 (µg/ml)</text>
<text x="448.00" y="503.51" font-size="8.36" text-anchor="start" fill="#231f20" textLength="15" lengthAdjust="spacingAndGlyphs" >1.25</text>
<text x="448.00" y="513.81" font-size="8.36" text-anchor="start" fill="#231f20" textLength="20" lengthAdjust="spacingAndGlyphs" >0.625</text>
<text x="448.00" y="523.51" font-size="8.36" text-anchor="start" fill="#231f20" textLength="20" lengthAdjust="spacingAndGlyphs" >0.312</text>
<text x="448.00" y="533.51" font-size="8.36" text-anchor="start" fill="#231f20" textLength="20" lengthAdjust="spacingAndGlyphs" >0.156</text>
<text x="8.30" y="592.02" font-size="12.0" text-anchor="start" fill="#000" font-weight="bold" >I</text>
<path d="M35.0,648.5 36.4,644.7 37.9,651.8 39.3,649.2 40.8,654.9 42.2,651.1 43.7,657.7 45.1,652.8 46.6,659.6 48.0,653.9 49.5,660.3 50.9,653.2 52.3,658.6 53.8,652.6 55.2,658.1 56.7,652.1 58.1,655.8 59.6,651.1 61.0,655.0 62.5,649.0 63.9,654.6 65.4,646.9 66.8,652.4 68.2,646.5 69.7,650.4 71.1,644.7 72.6,650.9 74.0,648.2 75.5,659.5 76.9,661.7 78.4,671.2 79.8,672.6 81.2,678.8 82.7,677.4 84.1,679.4 85.6,677.6 87.0,679.7 88.5,677.8 89.9,679.8 91.4,678.5 92.8,680.2 94.3,678.4 95.7,680.2 97.1,678.7 98.6,680.8 100.0,678.6 101.5,680.9 102.9,679.3 104.4,680.7 105.8,679.1 107.3,680.2 108.7,678.5 110.2,680.2 111.6,678.0 113.0,679.8 114.5,678.5 115.9,680.2 117.4,678.7 118.8,680.9 120.3,679.1 121.7,681.1 123.2,679.0 124.6,680.7 126.1,679.4 127.5,680.8" fill="none" stroke="#d3163a" stroke-width="1.25" stroke-linejoin="round" />
<path d="M35.0,623.2 36.4,646.6 37.9,653.9 39.3,649.0 40.8,654.4 42.2,650.8 43.7,656.6 45.1,651.5 46.6,658.5 48.0,653.4 49.5,659.3 50.9,653.6 52.3,656.7 53.8,651.9 55.2,655.7 56.7,649.3 58.1,653.6 59.6,647.8 61.0,651.7 62.5,647.3 63.9,652.0 65.4,644.4 66.8,649.1 68.2,643.8 69.7,648.8 71.1,645.9 72.6,657.4 74.0,658.0 75.5,670.0 76.9,669.1 78.4,676.6 79.8,676.6 81.2,680.0 82.7,678.5 84.1,680.6 85.6,678.5 87.0,680.8 88.5,678.7 89.9,680.6 91.4,679.0 92.8,680.9 94.3,679.3 95.7,680.8 97.1,679.1 98.6,681.0 100.0,679.3 101.5,681.0 102.9,679.2 104.4,680.9 105.8,679.3 107.3,681.1 108.7,679.5 110.2,681.1 111.6,679.5 113.0,681.1 114.5,679.6 115.9,681.0 117.4,679.6 118.8,681.1 120.3,679.7 121.7,681.1 123.2,679.6 124.6,681.1 126.1,679.7 127.5,681.0" fill="none" stroke="#1d5a9a" stroke-width="1.25" stroke-linejoin="round" />
<rect x="35.00" y="595.00" width="92.50" height="86.50" fill="none" stroke="#231f20" stroke-width="1.35"/>
<line x1="35.00" y1="595.00" x2="35.00" y2="681.50" stroke="#231f20" stroke-width="1"/>
<line x1="32.00" y1="681.30" x2="35.00" y2="681.30" stroke="#231f20" stroke-width="1"/>
<text x="30.50" y="683.67" font-size="8.25" text-anchor="end" fill="#231f20" textLength="4.34" lengthAdjust="spacingAndGlyphs" >0</text>
<line x1="32.00" y1="664.04" x2="35.00" y2="664.04" stroke="#231f20" stroke-width="1"/>
<text x="30.50" y="666.41" font-size="8.25" text-anchor="end" fill="#231f20" textLength="8.68" lengthAdjust="spacingAndGlyphs" >30</text>
<line x1="32.00" y1="646.78" x2="35.00" y2="646.78" stroke="#231f20" stroke-width="1"/>
<text x="30.50" y="649.15" font-size="8.25" text-anchor="end" fill="#231f20" textLength="8.68" lengthAdjust="spacingAndGlyphs" >60</text>
<line x1="32.00" y1="629.52" x2="35.00" y2="629.52" stroke="#231f20" stroke-width="1"/>
<text x="30.50" y="631.89" font-size="8.25" text-anchor="end" fill="#231f20" textLength="8.68" lengthAdjust="spacingAndGlyphs" >90</text>
<line x1="32.00" y1="612.26" x2="35.00" y2="612.26" stroke="#231f20" stroke-width="1"/>
<text x="30.50" y="614.63" font-size="8.25" text-anchor="end" fill="#231f20" textLength="13.01" lengthAdjust="spacingAndGlyphs" >120</text>
<line x1="32.00" y1="595.00" x2="35.00" y2="595.00" stroke="#231f20" stroke-width="1"/>
<text x="30.50" y="597.37" font-size="8.25" text-anchor="end" fill="#231f20" textLength="13.01" lengthAdjust="spacingAndGlyphs" >150</text>
<line x1="33.40" y1="675.55" x2="35.00" y2="675.55" stroke="#231f20" stroke-width="0.8"/>
<line x1="33.40" y1="669.79" x2="35.00" y2="669.79" stroke="#231f20" stroke-width="0.8"/>
<line x1="33.40" y1="658.29" x2="35.00" y2="658.29" stroke="#231f20" stroke-width="0.8"/>
<line x1="33.40" y1="652.53" x2="35.00" y2="652.53" stroke="#231f20" stroke-width="0.8"/>
<line x1="33.40" y1="641.03" x2="35.00" y2="641.03" stroke="#231f20" stroke-width="0.8"/>
<line x1="33.40" y1="635.27" x2="35.00" y2="635.27" stroke="#231f20" stroke-width="0.8"/>
<line x1="33.40" y1="623.77" x2="35.00" y2="623.77" stroke="#231f20" stroke-width="0.8"/>
<line x1="33.40" y1="618.01" x2="35.00" y2="618.01" stroke="#231f20" stroke-width="0.8"/>
<line x1="33.40" y1="606.51" x2="35.00" y2="606.51" stroke="#231f20" stroke-width="0.8"/>
<line x1="33.40" y1="600.75" x2="35.00" y2="600.75" stroke="#231f20" stroke-width="0.8"/>
<line x1="35.00" y1="681.50" x2="35.00" y2="684.70" stroke="#231f20" stroke-width="0.9"/>
<line x1="41.96" y1="681.50" x2="41.96" y2="683.50" stroke="#231f20" stroke-width="0.9"/>
<line x1="46.03" y1="681.50" x2="46.03" y2="683.50" stroke="#231f20" stroke-width="0.9"/>
<line x1="48.92" y1="681.50" x2="48.92" y2="683.50" stroke="#231f20" stroke-width="0.9"/>
<line x1="51.16" y1="681.50" x2="51.16" y2="683.50" stroke="#231f20" stroke-width="0.9"/>
<line x1="52.99" y1="681.50" x2="52.99" y2="683.50" stroke="#231f20" stroke-width="0.9"/>
<line x1="54.54" y1="681.50" x2="54.54" y2="683.50" stroke="#231f20" stroke-width="0.9"/>
<line x1="55.88" y1="681.50" x2="55.88" y2="683.50" stroke="#231f20" stroke-width="0.9"/>
<line x1="57.07" y1="681.50" x2="57.07" y2="683.50" stroke="#231f20" stroke-width="0.9"/>
<line x1="58.12" y1="681.50" x2="58.12" y2="684.70" stroke="#231f20" stroke-width="0.9"/>
<line x1="65.09" y1="681.50" x2="65.09" y2="683.50" stroke="#231f20" stroke-width="0.9"/>
<line x1="69.16" y1="681.50" x2="69.16" y2="683.50" stroke="#231f20" stroke-width="0.9"/>
<line x1="72.05" y1="681.50" x2="72.05" y2="683.50" stroke="#231f20" stroke-width="0.9"/>
<line x1="74.29" y1="681.50" x2="74.29" y2="683.50" stroke="#231f20" stroke-width="0.9"/>
<line x1="76.12" y1="681.50" x2="76.12" y2="683.50" stroke="#231f20" stroke-width="0.9"/>
<line x1="77.67" y1="681.50" x2="77.67" y2="683.50" stroke="#231f20" stroke-width="0.9"/>
<line x1="79.01" y1="681.50" x2="79.01" y2="683.50" stroke="#231f20" stroke-width="0.9"/>
<line x1="80.19" y1="681.50" x2="80.19" y2="683.50" stroke="#231f20" stroke-width="0.9"/>
<line x1="81.25" y1="681.50" x2="81.25" y2="684.70" stroke="#231f20" stroke-width="0.9"/>
<line x1="88.21" y1="681.50" x2="88.21" y2="683.50" stroke="#231f20" stroke-width="0.9"/>
<line x1="92.28" y1="681.50" x2="92.28" y2="683.50" stroke="#231f20" stroke-width="0.9"/>
<line x1="95.17" y1="681.50" x2="95.17" y2="683.50" stroke="#231f20" stroke-width="0.9"/>
<line x1="97.41" y1="681.50" x2="97.41" y2="683.50" stroke="#231f20" stroke-width="0.9"/>
<line x1="99.24" y1="681.50" x2="99.24" y2="683.50" stroke="#231f20" stroke-width="0.9"/>
<line x1="100.79" y1="681.50" x2="100.79" y2="683.50" stroke="#231f20" stroke-width="0.9"/>
<line x1="102.13" y1="681.50" x2="102.13" y2="683.50" stroke="#231f20" stroke-width="0.9"/>
<line x1="103.32" y1="681.50" x2="103.32" y2="683.50" stroke="#231f20" stroke-width="0.9"/>
<line x1="104.38" y1="681.50" x2="104.38" y2="684.70" stroke="#231f20" stroke-width="0.9"/>
<line x1="111.34" y1="681.50" x2="111.34" y2="683.50" stroke="#231f20" stroke-width="0.9"/>
<line x1="115.41" y1="681.50" x2="115.41" y2="683.50" stroke="#231f20" stroke-width="0.9"/>
<line x1="118.30" y1="681.50" x2="118.30" y2="683.50" stroke="#231f20" stroke-width="0.9"/>
<line x1="120.54" y1="681.50" x2="120.54" y2="683.50" stroke="#231f20" stroke-width="0.9"/>
<line x1="122.37" y1="681.50" x2="122.37" y2="683.50" stroke="#231f20" stroke-width="0.9"/>
<line x1="123.92" y1="681.50" x2="123.92" y2="683.50" stroke="#231f20" stroke-width="0.9"/>
<line x1="125.26" y1="681.50" x2="125.26" y2="683.50" stroke="#231f20" stroke-width="0.9"/>
<line x1="126.44" y1="681.50" x2="126.44" y2="683.50" stroke="#231f20" stroke-width="0.9"/>
<line x1="127.50" y1="681.50" x2="127.50" y2="684.70" stroke="#231f20" stroke-width="0.9"/>
<text x="35.00" y="694.27" font-size="8.25" text-anchor="middle" fill="#231f20" textLength="11.54" lengthAdjust="spacingAndGlyphs">10<tspan font-size="72%" dy="-0.48em">0</tspan></text>
<text x="58.12" y="694.27" font-size="8.25" text-anchor="middle" fill="#231f20" textLength="11.54" lengthAdjust="spacingAndGlyphs">10<tspan font-size="72%" dy="-0.48em">1</tspan></text>
<text x="81.25" y="694.27" font-size="8.25" text-anchor="middle" fill="#231f20" textLength="11.54" lengthAdjust="spacingAndGlyphs">10<tspan font-size="72%" dy="-0.48em">2</tspan></text>
<text x="104.38" y="694.27" font-size="8.25" text-anchor="middle" fill="#231f20" textLength="11.54" lengthAdjust="spacingAndGlyphs">10<tspan font-size="72%" dy="-0.48em">3</tspan></text>
<text x="127.50" y="694.27" font-size="8.25" text-anchor="middle" fill="#231f20" textLength="11.54" lengthAdjust="spacingAndGlyphs">10<tspan font-size="72%" dy="-0.48em">4</tspan></text>
<text x="81.30" y="705.59" font-size="8.58" text-anchor="middle" fill="#231f20" textLength="13" lengthAdjust="spacingAndGlyphs" >488</text>
<text x="12.50" y="641.97" font-size="8.8" text-anchor="middle" fill="#231f20" textLength="20" lengthAdjust="spacingAndGlyphs" transform="rotate(-90 12.50 638.80)" >Count</text>
<text x="82.00" y="590.75" font-size="9.02" text-anchor="middle" fill="#231f20" textLength="46" lengthAdjust="spacingAndGlyphs" >Non-treated</text>
<text x="39.50" y="640.51" font-size="8.36" text-anchor="start" fill="#231f20" textLength="24.5" lengthAdjust="spacingAndGlyphs" >β3-null</text>
<text x="75.00" y="655.01" font-size="8.36" text-anchor="start" fill="#231f20" textLength="35" lengthAdjust="spacingAndGlyphs" >Wild-type</text>
<path d="M154.3,678.2 155.1,676.8 156.0,675.8 156.8,676.3 157.6,678.0 158.5,677.8 159.3,676.8 160.2,677.2 161.0,677.8 161.8,676.4 162.7,676.8 163.5,676.4 164.3,677.2 165.2,676.1 166.0,677.2 166.8,677.6 167.7,676.7 168.5,677.6 169.4,675.4 170.2,675.7 171.0,677.4 171.9,675.8 172.7,675.1 173.5,675.9 174.4,675.1 175.2,675.7 176.0,675.1 176.9,674.9 177.7,674.2 178.6,675.3 179.4,675.3 180.2,673.7 181.1,674.4 181.9,673.2 182.7,674.0 183.6,674.6 184.4,672.2 185.2,672.5 186.1,671.7 186.9,672.6 187.8,672.3 188.6,670.1 189.4,673.0 190.3,668.3 191.1,669.1 191.9,669.2 192.8,668.2 193.6,666.6 194.4,667.7 195.3,665.0 196.1,665.5 197.0,664.9 197.8,659.3 198.6,656.9 199.5,653.2 200.3,650.3 201.1,645.1 202.0,639.2 202.8,636.5 203.6,627.9 204.5,621.5 205.3,623.2 206.2,621.7 207.0,617.3 207.8,617.3 208.7,618.5 209.5,619.6 210.3,626.8 211.2,626.4 212.0,628.8 212.8,629.8 213.7,635.3 214.5,635.8 215.4,638.5 216.2,640.1 217.0,642.1 217.9,644.1 218.7,648.7 219.5,647.4 220.4,648.8 221.2,651.1 222.0,657.9 222.9,654.7 223.7,656.1 224.6,658.0 225.4,655.3 226.2,657.9 227.1,661.1 227.9,661.2 228.7,658.2 229.6,666.5 230.4,665.5 231.2,668.4 232.1,666.7 232.9,668.3 233.8,670.7 234.6,670.6 235.4,673.1 236.3,674.6 237.1,672.9 237.9,672.9 238.8,675.4 239.6,676.1 240.4,677.7 241.3,675.1 242.1,678.3 243.0,678.8 243.8,678.7 244.6,677.6 245.5,676.5 246.3,670.4" fill="none" stroke="#d3163a" stroke-width="1.25" stroke-linejoin="round" />
<path d="M154.3,664.9 155.1,663.3 156.0,664.6 156.8,664.1 157.6,664.3 158.5,665.8 159.3,661.6 160.2,664.8 161.0,665.7 161.8,664.0 162.7,663.1 163.5,661.5 164.3,665.1 165.2,664.5 166.0,661.7 166.8,660.9 167.7,662.7 168.5,662.2 169.4,659.3 170.2,659.2 171.0,660.9 171.9,658.9 172.7,654.3 173.5,657.4 174.4,652.9 175.2,656.1 176.0,649.8 176.9,647.9 177.7,649.5 178.6,646.9 179.4,641.7 180.2,641.6 181.1,635.4 181.9,631.2 182.7,630.7 183.6,628.5 184.4,627.1 185.2,623.0 186.1,623.9 186.9,617.9 187.8,618.8 188.6,617.7 189.4,617.4 190.3,613.1 191.1,610.3 191.9,608.0 192.8,613.2 193.6,611.8 194.4,614.2 195.3,616.8 196.1,616.9 197.0,620.5 197.8,620.2 198.6,629.3 199.5,627.7 200.3,636.5 201.1,640.9 202.0,640.8 202.8,645.2 203.6,646.1 204.5,649.3 205.3,650.7 206.2,651.2 207.0,651.1 207.8,653.3 208.7,653.6 209.5,655.4 210.3,654.7 211.2,657.9 212.0,660.5 212.8,662.4 213.7,659.0 214.5,659.8 215.4,659.4 216.2,663.1 217.0,664.8 217.9,666.4 218.7,663.8 219.5,667.0 220.4,665.6 221.2,668.2 222.0,669.4 222.9,672.3 223.7,671.5 224.6,670.3 225.4,672.5 226.2,671.6 227.1,674.6 227.9,672.3 228.7,671.1 229.6,673.3 230.4,674.5 231.2,676.3 232.1,676.1 232.9,676.6 233.8,676.3 234.6,678.4 235.4,677.9 236.3,677.1 237.1,677.9 237.9,677.9 238.8,678.2 239.6,679.7 240.4,680.0 241.3,679.3 242.1,679.8 243.0,680.1 243.8,680.7 244.6,680.0 245.5,680.4 246.3,680.2" fill="none" stroke="#1d5a9a" stroke-width="1.25" stroke-linejoin="round" />
<rect x="154.30" y="594.50" width="92.00" height="86.80" fill="none" stroke="#231f20" stroke-width="1.35"/>
<line x1="154.30" y1="594.50" x2="154.30" y2="681.30" stroke="#231f20" stroke-width="1"/>
<line x1="151.30" y1="681.30" x2="154.30" y2="681.30" stroke="#231f20" stroke-width="1"/>
<text x="150.00" y="683.67" font-size="8.25" text-anchor="end" fill="#231f20" textLength="4.34" lengthAdjust="spacingAndGlyphs" >0</text>
<line x1="151.30" y1="664.90" x2="154.30" y2="664.90" stroke="#231f20" stroke-width="1"/>
<text x="150.00" y="667.27" font-size="8.25" text-anchor="end" fill="#231f20" textLength="8.68" lengthAdjust="spacingAndGlyphs" >30</text>
<line x1="151.30" y1="648.50" x2="154.30" y2="648.50" stroke="#231f20" stroke-width="1"/>
<text x="150.00" y="650.87" font-size="8.25" text-anchor="end" fill="#231f20" textLength="8.68" lengthAdjust="spacingAndGlyphs" >60</text>
<line x1="151.30" y1="632.10" x2="154.30" y2="632.10" stroke="#231f20" stroke-width="1"/>
<text x="150.00" y="634.47" font-size="8.25" text-anchor="end" fill="#231f20" textLength="8.68" lengthAdjust="spacingAndGlyphs" >90</text>
<line x1="151.30" y1="615.70" x2="154.30" y2="615.70" stroke="#231f20" stroke-width="1"/>
<text x="150.00" y="618.07" font-size="8.25" text-anchor="end" fill="#231f20" textLength="13.01" lengthAdjust="spacingAndGlyphs" >120</text>
<line x1="151.30" y1="599.30" x2="154.30" y2="599.30" stroke="#231f20" stroke-width="1"/>
<text x="150.00" y="601.67" font-size="8.25" text-anchor="end" fill="#231f20" textLength="13.01" lengthAdjust="spacingAndGlyphs" >150</text>
<line x1="152.70" y1="675.83" x2="154.30" y2="675.83" stroke="#231f20" stroke-width="0.8"/>
<line x1="152.70" y1="670.37" x2="154.30" y2="670.37" stroke="#231f20" stroke-width="0.8"/>
<line x1="152.70" y1="659.43" x2="154.30" y2="659.43" stroke="#231f20" stroke-width="0.8"/>
<line x1="152.70" y1="653.97" x2="154.30" y2="653.97" stroke="#231f20" stroke-width="0.8"/>
<line x1="152.70" y1="643.03" x2="154.30" y2="643.03" stroke="#231f20" stroke-width="0.8"/>
<line x1="152.70" y1="637.57" x2="154.30" y2="637.57" stroke="#231f20" stroke-width="0.8"/>
<line x1="152.70" y1="626.63" x2="154.30" y2="626.63" stroke="#231f20" stroke-width="0.8"/>
<line x1="152.70" y1="621.17" x2="154.30" y2="621.17" stroke="#231f20" stroke-width="0.8"/>
<line x1="152.70" y1="610.23" x2="154.30" y2="610.23" stroke="#231f20" stroke-width="0.8"/>
<line x1="152.70" y1="604.77" x2="154.30" y2="604.77" stroke="#231f20" stroke-width="0.8"/>
<line x1="154.30" y1="681.30" x2="154.30" y2="684.50" stroke="#231f20" stroke-width="0.9"/>
<line x1="161.22" y1="681.30" x2="161.22" y2="683.30" stroke="#231f20" stroke-width="0.9"/>
<line x1="165.27" y1="681.30" x2="165.27" y2="683.30" stroke="#231f20" stroke-width="0.9"/>
<line x1="168.15" y1="681.30" x2="168.15" y2="683.30" stroke="#231f20" stroke-width="0.9"/>
<line x1="170.38" y1="681.30" x2="170.38" y2="683.30" stroke="#231f20" stroke-width="0.9"/>
<line x1="172.20" y1="681.30" x2="172.20" y2="683.30" stroke="#231f20" stroke-width="0.9"/>
<line x1="173.74" y1="681.30" x2="173.74" y2="683.30" stroke="#231f20" stroke-width="0.9"/>
<line x1="175.07" y1="681.30" x2="175.07" y2="683.30" stroke="#231f20" stroke-width="0.9"/>
<line x1="176.25" y1="681.30" x2="176.25" y2="683.30" stroke="#231f20" stroke-width="0.9"/>
<line x1="177.30" y1="681.30" x2="177.30" y2="684.50" stroke="#231f20" stroke-width="0.9"/>
<line x1="184.22" y1="681.30" x2="184.22" y2="683.30" stroke="#231f20" stroke-width="0.9"/>
<line x1="188.27" y1="681.30" x2="188.27" y2="683.30" stroke="#231f20" stroke-width="0.9"/>
<line x1="191.15" y1="681.30" x2="191.15" y2="683.30" stroke="#231f20" stroke-width="0.9"/>
<line x1="193.38" y1="681.30" x2="193.38" y2="683.30" stroke="#231f20" stroke-width="0.9"/>
<line x1="195.20" y1="681.30" x2="195.20" y2="683.30" stroke="#231f20" stroke-width="0.9"/>
<line x1="196.74" y1="681.30" x2="196.74" y2="683.30" stroke="#231f20" stroke-width="0.9"/>
<line x1="198.07" y1="681.30" x2="198.07" y2="683.30" stroke="#231f20" stroke-width="0.9"/>
<line x1="199.25" y1="681.30" x2="199.25" y2="683.30" stroke="#231f20" stroke-width="0.9"/>
<line x1="200.30" y1="681.30" x2="200.30" y2="684.50" stroke="#231f20" stroke-width="0.9"/>
<line x1="207.22" y1="681.30" x2="207.22" y2="683.30" stroke="#231f20" stroke-width="0.9"/>
<line x1="211.27" y1="681.30" x2="211.27" y2="683.30" stroke="#231f20" stroke-width="0.9"/>
<line x1="214.15" y1="681.30" x2="214.15" y2="683.30" stroke="#231f20" stroke-width="0.9"/>
<line x1="216.38" y1="681.30" x2="216.38" y2="683.30" stroke="#231f20" stroke-width="0.9"/>
<line x1="218.20" y1="681.30" x2="218.20" y2="683.30" stroke="#231f20" stroke-width="0.9"/>
<line x1="219.74" y1="681.30" x2="219.74" y2="683.30" stroke="#231f20" stroke-width="0.9"/>
<line x1="221.07" y1="681.30" x2="221.07" y2="683.30" stroke="#231f20" stroke-width="0.9"/>
<line x1="222.25" y1="681.30" x2="222.25" y2="683.30" stroke="#231f20" stroke-width="0.9"/>
<line x1="223.30" y1="681.30" x2="223.30" y2="684.50" stroke="#231f20" stroke-width="0.9"/>
<line x1="230.22" y1="681.30" x2="230.22" y2="683.30" stroke="#231f20" stroke-width="0.9"/>
<line x1="234.27" y1="681.30" x2="234.27" y2="683.30" stroke="#231f20" stroke-width="0.9"/>
<line x1="237.15" y1="681.30" x2="237.15" y2="683.30" stroke="#231f20" stroke-width="0.9"/>
<line x1="239.38" y1="681.30" x2="239.38" y2="683.30" stroke="#231f20" stroke-width="0.9"/>
<line x1="241.20" y1="681.30" x2="241.20" y2="683.30" stroke="#231f20" stroke-width="0.9"/>
<line x1="242.74" y1="681.30" x2="242.74" y2="683.30" stroke="#231f20" stroke-width="0.9"/>
<line x1="244.07" y1="681.30" x2="244.07" y2="683.30" stroke="#231f20" stroke-width="0.9"/>
<line x1="245.25" y1="681.30" x2="245.25" y2="683.30" stroke="#231f20" stroke-width="0.9"/>
<line x1="246.30" y1="681.30" x2="246.30" y2="684.50" stroke="#231f20" stroke-width="0.9"/>
<text x="154.30" y="694.27" font-size="8.25" text-anchor="middle" fill="#231f20" textLength="11.54" lengthAdjust="spacingAndGlyphs">10<tspan font-size="72%" dy="-0.48em">0</tspan></text>
<text x="177.30" y="694.27" font-size="8.25" text-anchor="middle" fill="#231f20" textLength="11.54" lengthAdjust="spacingAndGlyphs">10<tspan font-size="72%" dy="-0.48em">1</tspan></text>
<text x="200.30" y="694.27" font-size="8.25" text-anchor="middle" fill="#231f20" textLength="11.54" lengthAdjust="spacingAndGlyphs">10<tspan font-size="72%" dy="-0.48em">2</tspan></text>
<text x="223.30" y="694.27" font-size="8.25" text-anchor="middle" fill="#231f20" textLength="11.54" lengthAdjust="spacingAndGlyphs">10<tspan font-size="72%" dy="-0.48em">3</tspan></text>
<text x="246.30" y="694.27" font-size="8.25" text-anchor="middle" fill="#231f20" textLength="11.54" lengthAdjust="spacingAndGlyphs">10<tspan font-size="72%" dy="-0.48em">4</tspan></text>
<text x="200.00" y="705.59" font-size="8.58" text-anchor="middle" fill="#231f20" textLength="13" lengthAdjust="spacingAndGlyphs" >488</text>
<text x="200.00" y="590.75" font-size="9.02" text-anchor="middle" fill="#231f20" textLength="51" lengthAdjust="spacingAndGlyphs" >Mn<tspan font-size="72%" dx="0.4" dy="-0.56em" style="stroke-width:0.1px">2+</tspan><tspan dy="0.403em">​</tspan>-treated</text>
<text x="161.30" y="613.81" font-size="8.36" text-anchor="start" fill="#231f20" textLength="24.5" lengthAdjust="spacingAndGlyphs" >β3-null</text>
<text x="200.00" y="616.31" font-size="8.36" text-anchor="start" fill="#231f20" textLength="35" lengthAdjust="spacingAndGlyphs" >Wild-type</text>
<line x1="285.50" y1="588.80" x2="285.50" y2="681.30" stroke="#231f20" stroke-width="1"/>
<line x1="282.50" y1="681.30" x2="285.50" y2="681.30" stroke="#231f20" stroke-width="1"/>
<text x="280.30" y="683.67" font-size="8.25" text-anchor="end" fill="#231f20" textLength="4.34" lengthAdjust="spacingAndGlyphs" >0</text>
<line x1="282.50" y1="658.97" x2="285.50" y2="658.97" stroke="#231f20" stroke-width="1"/>
<text x="280.30" y="661.34" font-size="8.25" text-anchor="end" fill="#231f20" textLength="13.01" lengthAdjust="spacingAndGlyphs" >200</text>
<line x1="282.50" y1="636.65" x2="285.50" y2="636.65" stroke="#231f20" stroke-width="1"/>
<text x="280.30" y="639.02" font-size="8.25" text-anchor="end" fill="#231f20" textLength="13.01" lengthAdjust="spacingAndGlyphs" >400</text>
<line x1="282.50" y1="614.33" x2="285.50" y2="614.33" stroke="#231f20" stroke-width="1"/>
<text x="280.30" y="616.70" font-size="8.25" text-anchor="end" fill="#231f20" textLength="13.01" lengthAdjust="spacingAndGlyphs" >600</text>
<line x1="282.50" y1="592.00" x2="285.50" y2="592.00" stroke="#231f20" stroke-width="1"/>
<text x="280.30" y="594.37" font-size="8.25" text-anchor="end" fill="#231f20" textLength="13.01" lengthAdjust="spacingAndGlyphs" >800</text>
<line x1="285.50" y1="681.30" x2="358.00" y2="681.30" stroke="#231f20" stroke-width="1"/>
<line x1="303.80" y1="681.30" x2="303.80" y2="684.30" stroke="#231f20" stroke-width="1"/>
<line x1="341.50" y1="681.30" x2="341.50" y2="684.30" stroke="#231f20" stroke-width="1"/>
<rect x="291.60" y="679.63" width="9.40" height="1.67" fill="#e0808f" stroke="#d96b80" stroke-width="0.5"/>
<rect x="306.60" y="679.96" width="9.40" height="1.34" fill="#87a6c4" stroke="#7096b9" stroke-width="0.5"/>
<rect x="329.80" y="621.02" width="9.40" height="60.28" fill="#e0808f" stroke="#d96b80" stroke-width="0.5"/>
<rect x="344.10" y="663.44" width="9.40" height="17.86" fill="#87a6c4" stroke="#7096b9" stroke-width="0.5"/>
<line x1="334.50" y1="617.12" x2="334.50" y2="624.37" stroke="#c8102e" stroke-width="0.9"/>
<line x1="331.50" y1="617.12" x2="337.50" y2="617.12" stroke="#c8102e" stroke-width="0.9"/>
<line x1="331.50" y1="624.37" x2="337.50" y2="624.37" stroke="#c8102e" stroke-width="0.9"/>
<line x1="348.80" y1="660.09" x2="348.80" y2="666.79" stroke="#0b4a8a" stroke-width="0.9"/>
<line x1="345.80" y1="660.09" x2="351.80" y2="660.09" stroke="#0b4a8a" stroke-width="0.9"/>
<line x1="345.80" y1="666.79" x2="351.80" y2="666.79" stroke="#0b4a8a" stroke-width="0.9"/>
<circle cx="294.00" cy="679.50" r="1.2" fill="#c8102e"/>
<circle cx="296.30" cy="679.50" r="1.2" fill="#c8102e"/>
<circle cx="298.50" cy="679.50" r="1.2" fill="#c8102e"/>
<rect x="307.90" y="678.90" width="2.20" height="2.20" fill="#0b4a8a"/>
<rect x="310.20" y="678.90" width="2.20" height="2.20" fill="#0b4a8a"/>
<rect x="312.40" y="678.90" width="2.20" height="2.20" fill="#0b4a8a"/>
<circle cx="334.50" cy="610.50" r="1.25" fill="#c8102e"/>
<circle cx="332.00" cy="621.00" r="1.25" fill="#c8102e"/>
<circle cx="337.00" cy="620.50" r="1.25" fill="#c8102e"/>
<circle cx="334.50" cy="625.00" r="1.25" fill="#c8102e"/>
<circle cx="334.50" cy="631.00" r="1.25" fill="#c8102e"/>
<rect x="349.10" y="654.10" width="2.40" height="2.40" fill="#0b4a8a"/>
<rect x="346.30" y="660.80" width="2.40" height="2.40" fill="#0b4a8a"/>
<rect x="350.30" y="661.80" width="2.40" height="2.40" fill="#0b4a8a"/>
<rect x="343.80" y="666.30" width="2.40" height="2.40" fill="#0b4a8a"/>
<rect x="351.30" y="666.80" width="2.40" height="2.40" fill="#0b4a8a"/>
<rect x="344.80" y="662.80" width="2.40" height="2.40" fill="#0b4a8a"/>
<line x1="293.00" y1="587.70" x2="336.30" y2="587.70" stroke="#3a3a3a" stroke-width="1.15"/>
<text x="314.65" y="588.07" font-size="8.25" text-anchor="middle" fill="#231f20" textLength="12.14" lengthAdjust="spacingAndGlyphs" >****</text>
<line x1="309.50" y1="597.30" x2="352.50" y2="597.30" stroke="#3a3a3a" stroke-width="1.15"/>
<text x="331.00" y="597.67" font-size="8.25" text-anchor="middle" fill="#231f20" textLength="9.11" lengthAdjust="spacingAndGlyphs" >***</text>
<line x1="333.80" y1="606.50" x2="352.50" y2="606.50" stroke="#3a3a3a" stroke-width="1.15"/>
<text x="343.15" y="606.87" font-size="8.25" text-anchor="middle" fill="#231f20" textLength="12.14" lengthAdjust="spacingAndGlyphs" >****</text>
<line x1="293.00" y1="670.50" x2="312.50" y2="670.50" stroke="#231f20" stroke-width="0.9"/>
<text x="302.80" y="668.51" font-size="8.36" text-anchor="middle" fill="#231f20" textLength="8.5" lengthAdjust="spacingAndGlyphs" >ns</text>
<circle cx="293.10" cy="608.80" r="2.1" fill="#c8102e"/>
<rect x="291.10" y="616.00" width="4.00" height="4.00" fill="#0b4a8a"/>
<text x="298.80" y="611.81" font-size="8.36" text-anchor="start" fill="#231f20" textLength="10.5" lengthAdjust="spacingAndGlyphs" >WT</text>
<text x="298.80" y="620.51" font-size="8.36" text-anchor="start" fill="#231f20" textLength="22" lengthAdjust="spacingAndGlyphs" >β3-null</text>
<text x="258.80" y="639.39" font-size="8.58" text-anchor="middle" fill="#231f20" textLength="76" lengthAdjust="spacingAndGlyphs" transform="rotate(-90 258.80 636.30)" >Binding of ERp46 (MFI)</text>
<text x="303.40" y="694.29" font-size="8.58" text-anchor="middle" fill="#231f20" textLength="17.3" lengthAdjust="spacingAndGlyphs" >Non-</text>
<text x="303.40" y="703.29" font-size="8.58" text-anchor="middle" fill="#231f20" textLength="31" lengthAdjust="spacingAndGlyphs" >activated</text>
<text x="341.40" y="694.29" font-size="8.58" text-anchor="middle" fill="#231f20" textLength="21" lengthAdjust="spacingAndGlyphs" >Mn<tspan font-size="72%" dx="0.4" dy="-0.56em" style="stroke-width:0.1px">2+</tspan><tspan dy="0.403em">​</tspan>-</text>
<text x="341.30" y="703.29" font-size="8.58" text-anchor="middle" fill="#231f20" textLength="24.5" lengthAdjust="spacingAndGlyphs" >treated</text>
<text x="374.80" y="592.82" font-size="12.0" text-anchor="start" fill="#000" font-weight="bold" >J</text>
<text x="443.80" y="618.49" font-size="8.58" text-anchor="middle" fill="#231f20" textLength="69" lengthAdjust="spacingAndGlyphs" >Convulxin (ng/mL)</text>
<line x1="406.00" y1="621.00" x2="481.00" y2="621.00" stroke="#231f20" stroke-width="0.9"/>
<text x="488.80" y="618.49" font-size="8.58" text-anchor="start" fill="#231f20" textLength="20" lengthAdjust="spacingAndGlyphs" >IP: β3</text>
<text x="417.60" y="632.89" font-size="8.58" text-anchor="middle" fill="#231f20" textLength="9.5" lengthAdjust="spacingAndGlyphs" >30</text>
<text x="445.00" y="632.89" font-size="8.58" text-anchor="middle" fill="#231f20" textLength="9.5" lengthAdjust="spacingAndGlyphs" >60</text>
<text x="470.40" y="632.89" font-size="8.58" text-anchor="middle" fill="#231f20" textLength="13.5" lengthAdjust="spacingAndGlyphs" >120</text>
<text x="391.50" y="629.69" font-size="8.03" text-anchor="middle" fill="#231f20" textLength="19" lengthAdjust="spacingAndGlyphs" transform="rotate(-45 391.50 626.80)" >Basal</text>
<defs><filter id="bl" x="-30%" y="-60%" width="160%" height="220%"><feGaussianBlur stdDeviation="0.85"/></filter><filter id="bl2" x="-30%" y="-100%" width="160%" height="300%"><feGaussianBlur stdDeviation="2"/></filter></defs>
<rect x="375.5" y="636.6" width="111.2" height="20.3" rx="1.2" fill="#fdfdfd" stroke="#2a2a2a" stroke-width="1.1"/>
<rect x="375.5" y="660.8" width="111.2" height="20.4" rx="1.2" fill="#fdfdfd" stroke="#2a2a2a" stroke-width="1.1"/>
<ellipse cx="418" cy="651" rx="11" ry="5" fill="#000" opacity="0.12" filter="url(#bl2)"/>
<path d="M407.80,648.50 C407.80,643.33 408.42,642.75 411.94,642.75 Q418.15,643.44 424.36,642.75 C427.88,642.75 428.50,643.33 428.50,648.50 C428.50,653.67 427.88,654.25 424.36,654.25 Q418.15,653.56 411.94,654.25 C408.42,654.25 407.80,653.67 407.80,648.50 Z" fill="#0a0a0a" filter="url(#bl)"/>
<path d="M435.50,647.60 C435.50,643.77 436.05,643.35 439.18,643.35 Q444.70,643.86 450.22,643.35 C453.35,643.35 453.90,643.77 453.90,647.60 C453.90,651.43 453.35,651.85 450.22,651.85 Q444.70,651.34 439.18,651.85 C436.05,651.85 435.50,651.43 435.50,647.60 Z" fill="#0a0a0a" filter="url(#bl)"/>
<path d="M460.90,645.90 C460.90,641.62 461.52,641.15 465.04,641.15 Q471.25,641.72 477.46,641.15 C480.98,641.15 481.60,641.62 481.60,645.90 C481.60,650.17 480.98,650.65 477.46,650.65 Q471.25,650.08 465.04,650.65 C461.52,650.65 460.90,650.17 460.90,645.90 Z" fill="#0a0a0a" filter="url(#bl)"/>
<circle cx="425" cy="640" r="2" fill="#000"/>
<path d="M381.20,671.80 C381.20,667.84 381.81,667.40 385.26,667.40 Q391.35,667.93 397.44,667.40 C400.89,667.40 401.50,667.84 401.50,671.80 C401.50,675.76 400.89,676.20 397.44,676.20 Q391.35,675.67 385.26,676.20 C381.81,676.20 381.20,675.76 381.20,671.80 Z" fill="#0a0a0a" filter="url(#bl)"/>
<path d="M407.80,671.20 C407.80,666.79 408.42,666.30 411.94,666.30 Q418.15,666.79 424.36,666.30 C427.88,666.30 428.50,666.79 428.50,671.20 C428.50,675.61 427.88,676.10 424.36,676.10 Q418.15,675.61 411.94,676.10 C408.42,676.10 407.80,675.61 407.80,671.20 Z" fill="#0a0a0a" filter="url(#bl)"/>
<path d="M434.80,671.20 C434.80,666.70 435.39,666.20 438.76,666.20 Q444.70,666.70 450.64,666.20 C454.01,666.20 454.60,666.70 454.60,671.20 C454.60,675.70 454.01,676.20 450.64,676.20 Q444.70,675.70 438.76,676.20 C435.39,676.20 434.80,675.70 434.80,671.20 Z" fill="#0a0a0a" filter="url(#bl)"/>
<path d="M460.90,670.80 C460.90,666.07 461.52,665.55 465.04,665.55 Q471.25,666.07 477.46,665.55 C480.98,665.55 481.60,666.07 481.60,670.80 C481.60,675.52 480.98,676.05 477.46,676.05 Q471.25,675.52 465.04,676.05 C461.52,676.05 460.90,675.52 460.90,670.80 Z" fill="#0a0a0a" filter="url(#bl)"/>
<path d="M388,678.5 L391,678.5 L389.5,680.5 Z" fill="#000"/><circle cx="451.6" cy="680" r="1.4" fill="#000"/>
<text x="489.50" y="651.29" font-size="8.58" text-anchor="start" fill="#231f20" textLength="23" lengthAdjust="spacingAndGlyphs" >ERp46</text>
<text x="489.70" y="673.29" font-size="8.58" text-anchor="start" fill="#231f20" textLength="9" lengthAdjust="spacingAndGlyphs" >β3</text>
<rect x="0.6" y="0.6" width="518.8" height="710.8" fill="none" stroke="#000" stroke-width="1.4"/>
</svg></body></html>
